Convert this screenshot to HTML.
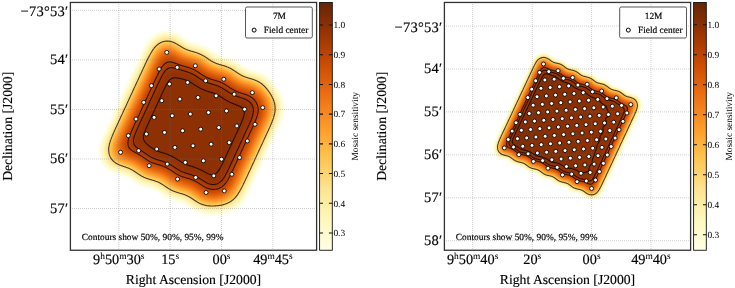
<!DOCTYPE html><html><head><meta charset="utf-8"><style>html,body{margin:0;padding:0;background:#fff;width:735px;height:288px;overflow:hidden}svg{display:block;will-change:transform}.b{stroke:#000;stroke-width:0.15px}.s{stroke:#000;stroke-width:0.16px}</style></head><body>
<svg width="735" height="288" viewBox="0 0 735 288" text-rendering="geometricPrecision" style='font-family:"Liberation Serif",serif'>
<defs><filter id="fm0" filterUnits="userSpaceOnUse" x="70.4" y="2.45" width="246.20000000000002" height="247.8" color-interpolation-filters="sRGB"><feGaussianBlur in="SourceAlpha" stdDeviation="10.274"/><feColorMatrix type="matrix" values="0 0 0 1 0 0 0 0 1 0 0 0 0 1 0 0 0 0 0 1"/><feComponentTransfer><feFuncR type="table" tableValues="1 1 1 1 1 1 1 1 1 1 1 1 1 1 1 1 1 1 1 1 1 1 1 1 1 1 0.999 0.999 0.999 0.998 0.998 0.998 0.998 0.997 0.997 0.997 0.997 0.997 0.996 0.996 0.996 0.996 0.996 0.996 0.996 0.996 0.996 0.996 0.996 0.996 0.996 0.996 0.996 0.996 0.996 0.996 0.996 0.996 0.996 0.996 0.996 0.996 0.996 0.996 0.996 0.996 0.996 0.996 0.996 0.996 0.996 0.996 0.996 0.996 0.996 0.996 0.996 0.996 0.996 0.996 0.996 0.996 0.996 0.996 0.996 0.994 0.991 0.988 0.986 0.983 0.981 0.978 0.975 0.973 0.97 0.968 0.965 0.963 0.96 0.958 0.956 0.953 0.951 0.948 0.946 0.944 0.941 0.939 0.937 0.934 0.932 0.93 0.927 0.925 0.92 0.916 0.912 0.908 0.904 0.9 0.896 0.893 0.889 0.885 0.881 0.877 0.873 0.869 0.865 0.862 0.858 0.854 0.85 0.846 0.843 0.839 0.835 0.832 0.828 0.824 0.821 0.817 0.813 0.81 0.806 0.802 0.798 0.792 0.787 0.781 0.775 0.77 0.764 0.759 0.753 0.748 0.742 0.736 0.731 0.726 0.72 0.715 0.709 0.704 0.698 0.693 0.688 0.682 0.677 0.672 0.666 0.661 0.656 0.651 0.645 0.64 0.635 0.63 0.625 0.619 0.614 0.609 0.604 0.599 0.594 0.589 0.584 0.579 0.574 0.569 0.564 0.559 0.554 0.549 0.544 0.539 0.534 0.529 0.524 0.519 0.514 0.509 0.504 0.5 0.495 0.49 0.485 0.48 0.476 0.471 0.466 0.461 0.457 0.452 0.447 0.442 0.438 0.433 0.428 0.424 0.419 0.414 0.41 0.405 0.4 0.4 0.4 0.4 0.4 0.4 0.4 0.4 0.4 0.4 0.4 0.4 0.4 0.4 0.4 0.4 0.4 0.4 0.4 0.4 0.4 0.4 0.4 0.4 0.4 0.4 0.4 0.4 0.4 0.4 0.4 0.4"/><feFuncG type="table" tableValues="1 1 1 1 1 1 1 1 1 1 1 1 0.998 0.995 0.992 0.989 0.986 0.984 0.981 0.979 0.976 0.974 0.971 0.969 0.964 0.959 0.953 0.948 0.943 0.938 0.933 0.928 0.923 0.918 0.914 0.909 0.905 0.9 0.896 0.891 0.885 0.879 0.872 0.866 0.86 0.853 0.847 0.841 0.835 0.829 0.823 0.817 0.811 0.805 0.8 0.794 0.788 0.783 0.777 0.772 0.765 0.758 0.75 0.743 0.736 0.729 0.721 0.714 0.707 0.7 0.693 0.686 0.679 0.673 0.666 0.659 0.652 0.646 0.639 0.633 0.626 0.62 0.613 0.607 0.6 0.594 0.588 0.582 0.576 0.571 0.565 0.559 0.553 0.547 0.542 0.536 0.53 0.525 0.519 0.513 0.508 0.502 0.497 0.491 0.486 0.48 0.475 0.47 0.464 0.459 0.454 0.448 0.443 0.438 0.434 0.429 0.424 0.42 0.415 0.411 0.407 0.402 0.398 0.393 0.389 0.385 0.38 0.376 0.372 0.367 0.363 0.359 0.355 0.35 0.346 0.342 0.338 0.334 0.329 0.325 0.321 0.317 0.313 0.309 0.305 0.301 0.297 0.294 0.292 0.289 0.286 0.284 0.281 0.279 0.276 0.273 0.271 0.268 0.266 0.263 0.26 0.258 0.255 0.253 0.25 0.248 0.245 0.243 0.24 0.238 0.235 0.233 0.23 0.228 0.225 0.223 0.22 0.218 0.215 0.213 0.211 0.208 0.206 0.204 0.202 0.201 0.199 0.198 0.196 0.195 0.193 0.192 0.19 0.189 0.187 0.186 0.184 0.183 0.182 0.18 0.179 0.177 0.176 0.174 0.173 0.172 0.17 0.169 0.167 0.166 0.165 0.163 0.162 0.16 0.159 0.158 0.156 0.155 0.153 0.152 0.151 0.149 0.148 0.147 0.145 0.145 0.145 0.145 0.145 0.145 0.145 0.145 0.145 0.145 0.145 0.145 0.145 0.145 0.145 0.145 0.145 0.145 0.145 0.145 0.145 0.145 0.145 0.145 0.145 0.145 0.145 0.145 0.145 0.145 0.145 0.145"/><feFuncB type="table" tableValues="1 1 1 1 1 1 1 1 0.979 0.954 0.93 0.907 0.887 0.872 0.856 0.842 0.828 0.814 0.801 0.788 0.775 0.763 0.751 0.74 0.728 0.716 0.704 0.693 0.682 0.671 0.66 0.65 0.64 0.629 0.619 0.609 0.6 0.59 0.581 0.571 0.558 0.544 0.531 0.517 0.503 0.49 0.477 0.464 0.451 0.438 0.425 0.413 0.4 0.388 0.376 0.364 0.352 0.34 0.328 0.316 0.307 0.3 0.294 0.287 0.281 0.274 0.268 0.262 0.256 0.249 0.243 0.237 0.231 0.225 0.219 0.213 0.207 0.201 0.195 0.19 0.184 0.178 0.172 0.167 0.161 0.158 0.155 0.152 0.149 0.146 0.143 0.14 0.137 0.134 0.131 0.128 0.125 0.122 0.119 0.116 0.114 0.111 0.108 0.105 0.102 0.1 0.097 0.094 0.091 0.089 0.086 0.083 0.08 0.078 0.076 0.073 0.071 0.069 0.067 0.064 0.062 0.06 0.058 0.055 0.053 0.051 0.049 0.047 0.045 0.042 0.04 0.038 0.036 0.034 0.032 0.03 0.028 0.026 0.024 0.021 0.019 0.017 0.015 0.013 0.011 0.009 0.008 0.008 0.008 0.009 0.009 0.009 0.009 0.009 0.01 0.01 0.01 0.01 0.011 0.011 0.011 0.011 0.011 0.012 0.012 0.012 0.012 0.012 0.013 0.013 0.013 0.013 0.013 0.014 0.014 0.014 0.014 0.015 0.015 0.015 0.015 0.015 0.016 0.016 0.016 0.016 0.016 0.017 0.017 0.017 0.017 0.017 0.018 0.018 0.018 0.018 0.018 0.018 0.019 0.019 0.019 0.019 0.019 0.02 0.02 0.02 0.02 0.02 0.021 0.021 0.021 0.021 0.021 0.021 0.022 0.022 0.022 0.022 0.022 0.023 0.023 0.023 0.023 0.023 0.024 0.024 0.024 0.024 0.024 0.024 0.024 0.024 0.024 0.024 0.024 0.024 0.024 0.024 0.024 0.024 0.024 0.024 0.024 0.024 0.024 0.024 0.024 0.024 0.024 0.024 0.024 0.024 0.024 0.024 0.024 0.024"/></feComponentTransfer></filter><linearGradient id="cg0" x1="0" y1="1" x2="0" y2="0"><stop offset="0.0000" stop-color="#ffffe5"/><stop offset="0.1250" stop-color="#fff7bc"/><stop offset="0.2500" stop-color="#fee391"/><stop offset="0.3750" stop-color="#fec44f"/><stop offset="0.5000" stop-color="#fe9929"/><stop offset="0.6250" stop-color="#ec7014"/><stop offset="0.7500" stop-color="#cc4c02"/><stop offset="0.8750" stop-color="#993404"/><stop offset="1.0000" stop-color="#662506"/></linearGradient><filter id="fm1" filterUnits="userSpaceOnUse" x="444.4" y="2.45" width="246.20000000000005" height="247.8" color-interpolation-filters="sRGB"><feGaussianBlur in="SourceAlpha" stdDeviation="4.777"/><feColorMatrix type="matrix" values="0 0 0 1 0 0 0 0 1 0 0 0 0 1 0 0 0 0 0 1"/><feComponentTransfer><feFuncR type="table" tableValues="1 1 1 1 1 1 1 1 1 1 1 1 1 1 1 1 1 1 1 1 0.999 0.999 0.999 0.998 0.998 0.998 0.998 0.997 0.997 0.997 0.997 0.996 0.996 0.996 0.996 0.996 0.996 0.996 0.996 0.996 0.996 0.996 0.996 0.996 0.996 0.996 0.996 0.996 0.996 0.996 0.996 0.996 0.996 0.996 0.996 0.996 0.996 0.996 0.996 0.996 0.996 0.996 0.996 0.996 0.996 0.996 0.996 0.996 0.996 0.996 0.996 0.996 0.996 0.996 0.996 0.996 0.995 0.993 0.99 0.988 0.985 0.983 0.98 0.978 0.975 0.973 0.97 0.968 0.966 0.963 0.961 0.959 0.956 0.954 0.952 0.949 0.947 0.945 0.942 0.94 0.938 0.936 0.933 0.931 0.929 0.927 0.924 0.92 0.916 0.912 0.908 0.904 0.9 0.897 0.893 0.889 0.885 0.882 0.878 0.874 0.87 0.867 0.863 0.859 0.856 0.852 0.848 0.845 0.841 0.837 0.834 0.83 0.827 0.823 0.819 0.816 0.812 0.809 0.805 0.802 0.797 0.792 0.786 0.78 0.775 0.769 0.764 0.758 0.753 0.747 0.742 0.736 0.731 0.726 0.72 0.715 0.709 0.704 0.698 0.693 0.688 0.682 0.677 0.672 0.666 0.661 0.656 0.65 0.645 0.64 0.634 0.629 0.624 0.619 0.613 0.608 0.603 0.598 0.592 0.587 0.582 0.577 0.572 0.566 0.561 0.556 0.551 0.546 0.541 0.535 0.53 0.525 0.52 0.515 0.51 0.505 0.5 0.495 0.49 0.485 0.48 0.475 0.47 0.465 0.46 0.455 0.45 0.445 0.44 0.435 0.43 0.425 0.42 0.416 0.411 0.406 0.401 0.4 0.4 0.4 0.4 0.4 0.4 0.4 0.4 0.4 0.4 0.4 0.4 0.4 0.4 0.4 0.4 0.4 0.4 0.4 0.4 0.4 0.4 0.4 0.4 0.4 0.4 0.4 0.4 0.4 0.4 0.4 0.4 0.4 0.4 0.4 0.4 0.4 0.4 0.4"/><feFuncG type="table" tableValues="1 1 1 1 1 1 1 1 1 0.997 0.993 0.989 0.986 0.982 0.979 0.976 0.973 0.97 0.966 0.96 0.954 0.947 0.941 0.936 0.93 0.925 0.919 0.914 0.909 0.904 0.899 0.894 0.889 0.881 0.874 0.867 0.861 0.854 0.847 0.841 0.834 0.828 0.822 0.816 0.809 0.803 0.798 0.792 0.786 0.78 0.775 0.769 0.762 0.754 0.747 0.739 0.732 0.725 0.717 0.71 0.703 0.696 0.689 0.683 0.676 0.669 0.662 0.656 0.649 0.643 0.636 0.63 0.624 0.617 0.611 0.605 0.599 0.593 0.587 0.581 0.575 0.57 0.564 0.558 0.553 0.547 0.542 0.536 0.531 0.525 0.52 0.514 0.509 0.504 0.498 0.493 0.488 0.483 0.478 0.472 0.467 0.462 0.457 0.452 0.447 0.442 0.437 0.433 0.428 0.424 0.42 0.415 0.411 0.407 0.402 0.398 0.394 0.39 0.386 0.381 0.377 0.373 0.369 0.365 0.361 0.356 0.352 0.348 0.344 0.34 0.336 0.332 0.328 0.324 0.32 0.316 0.312 0.308 0.304 0.3 0.297 0.294 0.291 0.289 0.286 0.284 0.281 0.278 0.276 0.273 0.271 0.268 0.266 0.263 0.26 0.258 0.255 0.253 0.25 0.248 0.245 0.243 0.24 0.238 0.235 0.233 0.23 0.228 0.225 0.223 0.22 0.218 0.215 0.213 0.21 0.208 0.205 0.203 0.202 0.2 0.199 0.197 0.196 0.194 0.193 0.191 0.189 0.188 0.186 0.185 0.183 0.182 0.18 0.179 0.177 0.176 0.174 0.173 0.171 0.17 0.168 0.167 0.166 0.164 0.163 0.161 0.16 0.158 0.157 0.155 0.154 0.153 0.151 0.15 0.148 0.147 0.145 0.145 0.145 0.145 0.145 0.145 0.145 0.145 0.145 0.145 0.145 0.145 0.145 0.145 0.145 0.145 0.145 0.145 0.145 0.145 0.145 0.145 0.145 0.145 0.145 0.145 0.145 0.145 0.145 0.145 0.145 0.145 0.145 0.145 0.145 0.145 0.145 0.145 0.145 0.145"/><feFuncB type="table" tableValues="1 1 1 1 1 0.973 0.947 0.924 0.903 0.881 0.861 0.842 0.824 0.807 0.791 0.776 0.761 0.747 0.733 0.719 0.705 0.692 0.679 0.666 0.654 0.642 0.631 0.62 0.609 0.598 0.587 0.577 0.565 0.55 0.535 0.52 0.506 0.491 0.477 0.463 0.45 0.436 0.423 0.41 0.397 0.384 0.371 0.359 0.347 0.335 0.323 0.311 0.304 0.297 0.29 0.284 0.277 0.271 0.265 0.258 0.252 0.246 0.24 0.234 0.228 0.222 0.216 0.21 0.204 0.199 0.193 0.187 0.182 0.176 0.17 0.165 0.16 0.157 0.154 0.151 0.148 0.145 0.142 0.139 0.137 0.134 0.131 0.128 0.125 0.123 0.12 0.117 0.114 0.112 0.109 0.106 0.103 0.101 0.098 0.095 0.093 0.09 0.088 0.085 0.082 0.08 0.077 0.075 0.073 0.071 0.069 0.066 0.064 0.062 0.06 0.058 0.056 0.054 0.052 0.049 0.047 0.045 0.043 0.041 0.039 0.037 0.035 0.033 0.031 0.029 0.027 0.025 0.023 0.021 0.019 0.017 0.015 0.013 0.011 0.009 0.008 0.008 0.008 0.009 0.009 0.009 0.009 0.009 0.01 0.01 0.01 0.01 0.011 0.011 0.011 0.011 0.011 0.012 0.012 0.012 0.012 0.012 0.013 0.013 0.013 0.013 0.014 0.014 0.014 0.014 0.014 0.015 0.015 0.015 0.015 0.015 0.016 0.016 0.016 0.016 0.016 0.017 0.017 0.017 0.017 0.017 0.018 0.018 0.018 0.018 0.018 0.019 0.019 0.019 0.019 0.019 0.02 0.02 0.02 0.02 0.02 0.021 0.021 0.021 0.021 0.021 0.022 0.022 0.022 0.022 0.022 0.023 0.023 0.023 0.023 0.023 0.023 0.024 0.024 0.024 0.024 0.024 0.024 0.024 0.024 0.024 0.024 0.024 0.024 0.024 0.024 0.024 0.024 0.024 0.024 0.024 0.024 0.024 0.024 0.024 0.024 0.024 0.024 0.024 0.024 0.024 0.024 0.024 0.024 0.024 0.024 0.024 0.024 0.024 0.024 0.024"/></feComponentTransfer></filter><linearGradient id="cg1" x1="0" y1="1" x2="0" y2="0"><stop offset="0.0000" stop-color="#ffffe5"/><stop offset="0.1250" stop-color="#fff7bc"/><stop offset="0.2500" stop-color="#fee391"/><stop offset="0.3750" stop-color="#fec44f"/><stop offset="0.5000" stop-color="#fe9929"/><stop offset="0.6250" stop-color="#ec7014"/><stop offset="0.7500" stop-color="#cc4c02"/><stop offset="0.8750" stop-color="#993404"/><stop offset="1.0000" stop-color="#662506"/></linearGradient></defs>
<rect width="735" height="288" fill="#fff"/>
<g filter="url(#fm0)"><circle cx="166.80" cy="52.40" r="8.41"/><circle cx="159.10" cy="69.05" r="8.41"/><circle cx="151.40" cy="85.70" r="8.41"/><circle cx="143.70" cy="102.35" r="8.41"/><circle cx="136.00" cy="119.00" r="8.41"/><circle cx="128.30" cy="135.65" r="8.41"/><circle cx="120.60" cy="152.30" r="8.41"/><circle cx="177.20" cy="67.42" r="8.41"/><circle cx="169.50" cy="84.08" r="8.41"/><circle cx="161.80" cy="100.72" r="8.41"/><circle cx="154.10" cy="117.38" r="8.41"/><circle cx="146.40" cy="134.03" r="8.41"/><circle cx="138.70" cy="150.67" r="8.41"/><circle cx="195.30" cy="65.80" r="8.41"/><circle cx="187.60" cy="82.45" r="8.41"/><circle cx="179.90" cy="99.10" r="8.41"/><circle cx="172.20" cy="115.75" r="8.41"/><circle cx="164.50" cy="132.40" r="8.41"/><circle cx="156.80" cy="149.05" r="8.41"/><circle cx="149.10" cy="165.70" r="8.41"/><circle cx="205.70" cy="80.83" r="8.41"/><circle cx="198.00" cy="97.47" r="8.41"/><circle cx="190.30" cy="114.12" r="8.41"/><circle cx="182.60" cy="130.77" r="8.41"/><circle cx="174.90" cy="147.43" r="8.41"/><circle cx="167.20" cy="164.07" r="8.41"/><circle cx="223.80" cy="79.20" r="8.41"/><circle cx="216.10" cy="95.85" r="8.41"/><circle cx="208.40" cy="112.50" r="8.41"/><circle cx="200.70" cy="129.15" r="8.41"/><circle cx="193.00" cy="145.80" r="8.41"/><circle cx="185.30" cy="162.45" r="8.41"/><circle cx="177.60" cy="179.10" r="8.41"/><circle cx="234.20" cy="94.23" r="8.41"/><circle cx="226.50" cy="110.88" r="8.41"/><circle cx="218.80" cy="127.53" r="8.41"/><circle cx="211.10" cy="144.18" r="8.41"/><circle cx="203.40" cy="160.82" r="8.41"/><circle cx="195.70" cy="177.47" r="8.41"/><circle cx="252.30" cy="92.60" r="8.41"/><circle cx="244.60" cy="109.25" r="8.41"/><circle cx="236.90" cy="125.90" r="8.41"/><circle cx="229.20" cy="142.55" r="8.41"/><circle cx="221.50" cy="159.20" r="8.41"/><circle cx="213.80" cy="175.85" r="8.41"/><circle cx="206.10" cy="192.50" r="8.41"/><circle cx="262.70" cy="107.62" r="8.41"/><circle cx="255.00" cy="124.27" r="8.41"/><circle cx="247.30" cy="140.93" r="8.41"/><circle cx="239.60" cy="157.57" r="8.41"/><circle cx="231.90" cy="174.22" r="8.41"/><circle cx="224.20" cy="190.88" r="8.41"/></g>
<path d="M118.8 4V250.25M170.15 4V250.25M221.5 4V250.25M272.85 4V250.25M72 10.35H316.6M72 59.9H316.6M72 109.5H316.6M72 159.0H316.6M72 208.5H316.6" stroke="#747474" stroke-opacity="0.34" stroke-width="1" stroke-dasharray="1 1" fill="none"/>
<path d="M214.7 206.0 214.2 206.0 213.7 206.0 213.2 206.0 212.7 206.0 212.2 206.0 211.7 206.0 211.2 206.0 210.7 206.0 210.2 206.0 209.9 205.9 209.4 205.9 208.9 205.9 208.4 205.8 207.9 205.8 207.5 205.7 207.2 205.7 206.7 205.6 206.2 205.5 205.9 205.4 205.4 205.3 204.9 205.2 204.7 205.1 204.2 205.0 203.9 204.9 203.4 204.8 203.1 204.7 202.7 204.6 202.4 204.4 201.9 204.3 201.7 204.2 201.2 204.0 200.9 203.9 200.5 203.7 200.2 203.5 199.9 203.4 199.4 203.2 199.2 203.1 198.9 202.9 198.5 202.7 198.2 202.5 197.9 202.4 197.6 202.2 197.2 201.9 196.9 201.8 196.7 201.6 196.3 201.4 196.0 201.2 195.7 201.0 195.4 200.8 195.2 200.7 194.8 200.4 194.4 200.2 194.2 200.0 193.9 199.8 193.7 199.7 193.3 199.4 193.0 199.2 192.7 199.0 192.4 198.8 192.2 198.7 191.8 198.4 191.5 198.2 191.2 198.0 190.9 197.8 190.7 197.7 190.3 197.4 189.9 197.2 189.7 197.1 189.4 196.9 189.0 196.7 188.7 196.5 188.4 196.4 188.0 196.2 187.7 196.0 187.4 195.9 187.0 195.7 186.7 195.5 186.4 195.4 185.9 195.2 185.7 195.1 185.3 194.9 184.9 194.8 184.6 194.7 184.2 194.5 183.9 194.4 183.4 194.3 183.1 194.2 182.7 194.0 182.3 193.9 181.9 193.8 181.5 193.7 181.2 193.6 180.7 193.5 180.4 193.4 179.9 193.2 179.7 193.2 179.2 193.0 178.9 192.9 178.4 192.8 178.0 192.7 177.7 192.6 177.2 192.4 176.9 192.3 176.4 192.2 176.2 192.1 175.7 191.9 175.4 191.8 175.0 191.7 174.7 191.6 174.4 191.4 173.9 191.3 173.7 191.2 173.2 191.0 172.9 190.8 172.6 190.7 172.2 190.5 171.9 190.4 171.5 190.2 171.2 190.0 170.9 189.9 170.6 189.7 170.2 189.5 169.9 189.3 169.7 189.2 169.2 188.9 168.9 188.7 168.7 188.6 168.4 188.4 168.0 188.2 167.7 188.0 167.4 187.8 167.2 187.6 166.9 187.4 166.5 187.2 166.2 187.0 165.9 186.8 165.7 186.6 165.4 186.4 165.0 186.2 164.7 185.9 164.4 185.8 164.2 185.6 163.9 185.4 163.6 185.2 163.2 184.9 162.9 184.8 162.7 184.6 162.4 184.4 162.0 184.2 161.7 184.0 161.4 183.8 161.2 183.7 160.8 183.4 160.4 183.3 160.2 183.1 159.8 182.9 159.4 182.7 159.2 182.6 158.8 182.4 158.4 182.2 158.2 182.1 157.7 181.9 157.4 181.8 157.1 181.7 156.7 181.5 156.4 181.4 155.9 181.2 155.7 181.1 155.2 181.0 154.9 180.9 154.4 180.7 154.2 180.6 153.7 180.5 153.4 180.4 152.9 180.3 152.6 180.2 152.2 180.1 151.8 179.9 151.4 179.8 150.9 179.7 150.7 179.6 150.2 179.5 149.9 179.4 149.4 179.3 149.2 179.2 148.7 179.0 148.4 178.9 147.9 178.8 147.6 178.7 147.2 178.5 146.9 178.4 146.4 178.3 146.2 178.2 145.7 178.0 145.4 177.9 145.0 177.7 144.7 177.6 144.4 177.4 143.9 177.2 143.7 177.1 143.3 176.9 142.9 176.7 142.7 176.6 142.3 176.4 141.9 176.2 141.7 176.1 141.4 175.9 141.0 175.7 140.7 175.5 140.4 175.3 140.2 175.2 139.8 174.9 139.4 174.7 139.2 174.6 138.9 174.4 138.6 174.2 138.2 173.9 137.9 173.7 137.7 173.6 137.4 173.4 137.1 173.2 136.8 172.9 136.4 172.7 136.2 172.5 135.9 172.4 135.7 172.2 135.3 171.9 134.9 171.7 134.7 171.5 134.4 171.4 134.2 171.2 133.8 170.9 133.4 170.7 133.2 170.6 132.9 170.4 132.6 170.2 132.2 170.0 131.9 169.8 131.7 169.7 131.2 169.4 130.9 169.3 130.7 169.2 130.2 168.9 129.9 168.8 129.7 168.7 129.2 168.4 128.9 168.3 128.6 168.2 128.2 168.0 127.9 167.9 127.4 167.7 127.2 167.6 126.7 167.5 126.4 167.4 125.9 167.2 125.7 167.1 125.2 166.9 124.9 166.9 124.4 166.7 124.2 166.6 123.7 166.4 123.4 166.4 122.9 166.2 122.7 166.1 122.2 165.9 121.9 165.9 121.4 165.7 121.2 165.6 120.7 165.4 120.4 165.3 120.1 165.2 119.7 165.0 119.4 164.9 118.9 164.7 118.7 164.6 118.3 164.4 117.9 164.2 117.7 164.1 117.3 163.9 116.9 163.7 116.7 163.6 116.4 163.4 116.0 163.2 115.7 163.0 115.4 162.8 115.2 162.6 114.9 162.4 114.6 162.2 114.3 161.9 114.0 161.7 113.7 161.4 113.4 161.2 113.2 161.0 112.9 160.7 112.7 160.4 112.4 160.2 112.2 159.9 112.0 159.7 111.8 159.4 111.6 159.2 111.4 158.9 111.2 158.5 110.9 158.2 110.8 157.9 110.6 157.7 110.4 157.2 110.3 156.9 110.1 156.7 109.9 156.2 109.8 155.9 109.7 155.5 109.5 155.2 109.4 154.8 109.3 154.4 109.2 153.9 109.1 153.7 109.0 153.2 108.9 152.7 108.9 152.4 108.8 151.9 108.8 151.4 108.7 150.9 108.7 150.4 108.7 149.9 108.7 149.4 108.7 148.9 108.7 148.4 108.8 147.9 108.8 147.4 108.9 146.9 108.9 146.7 109.0 146.2 109.1 145.7 109.2 145.4 109.3 144.9 109.4 144.4 109.4 144.2 109.5 143.7 109.7 143.3 109.8 142.9 109.9 142.4 110.0 142.2 110.1 141.7 110.2 141.4 110.4 140.9 110.4 140.7 110.6 140.2 110.7 139.9 110.9 139.4 111.0 139.2 111.2 138.7 111.3 138.4 111.4 138.1 111.5 137.7 111.7 137.4 111.8 136.9 111.9 136.7 112.1 136.2 112.2 135.9 112.4 135.5 112.5 135.2 112.7 134.9 112.9 134.4 113.0 134.2 113.2 133.8 113.3 133.4 113.4 133.2 113.6 132.7 113.7 132.4 113.9 132.0 114.0 131.7 114.2 131.4 114.4 130.9 114.5 130.7 114.7 130.3 114.8 129.9 114.9 129.7 115.2 129.2 115.3 128.9 115.4 128.7 115.6 128.2 115.7 128.0 115.9 127.6 116.1 127.2 116.2 127.0 116.4 126.5 116.5 126.2 116.7 125.9 116.9 125.5 117.0 125.2 117.2 124.9 117.3 124.5 117.5 124.2 117.7 123.8 117.8 123.5 117.9 123.2 118.2 122.7 118.3 122.5 118.4 122.2 118.6 121.7 118.7 121.5 118.9 121.1 119.1 120.7 119.2 120.5 119.4 120.0 119.5 119.7 119.7 119.5 119.9 119.0 120.0 118.7 120.2 118.4 120.3 118.0 120.5 117.7 120.7 117.3 120.8 117.0 120.9 116.7 121.1 116.2 121.3 116.0 121.4 115.6 121.6 115.2 121.7 115.0 121.9 114.5 122.1 114.2 122.2 114.0 122.4 113.5 122.5 113.2 122.7 112.9 122.9 112.5 123.0 112.2 123.2 111.8 123.3 111.5 123.4 111.2 123.7 110.8 123.8 110.5 123.9 110.2 124.1 109.7 124.3 109.5 124.4 109.2 124.6 108.7 124.7 108.5 124.9 108.1 125.1 107.7 125.2 107.5 125.4 107.0 125.5 106.7 125.7 106.5 125.9 106.0 126.0 105.7 126.2 105.4 126.4 105.0 126.5 104.7 126.7 104.3 126.8 104.0 126.9 103.7 127.2 103.2 127.3 103.0 127.4 102.7 127.6 102.2 127.7 102.0 127.9 101.6 128.1 101.2 128.2 101.0 128.4 100.5 128.5 100.2 128.7 100.0 128.9 99.5 129.0 99.2 129.2 98.9 129.3 98.5 129.5 98.2 129.7 97.8 129.8 97.5 129.9 97.2 130.2 96.7 130.3 96.5 130.4 96.2 130.6 95.7 130.7 95.5 130.9 95.1 131.1 94.7 131.2 94.5 131.4 94.0 131.5 93.7 131.7 93.5 131.9 93.0 132.0 92.7 132.2 92.4 132.4 92.0 132.5 91.7 132.7 91.3 132.8 91.0 132.9 90.7 133.2 90.3 133.3 90.0 133.4 89.7 133.6 89.2 133.8 89.0 133.9 88.6 134.1 88.2 134.2 88.0 134.4 87.6 134.6 87.2 134.7 87.0 134.9 86.5 135.0 86.2 135.2 85.9 135.4 85.5 135.5 85.2 135.7 84.8 135.8 84.5 135.9 84.2 136.2 83.8 136.3 83.5 136.4 83.2 136.6 82.7 136.7 82.5 136.9 82.1 137.1 81.7 137.2 81.5 137.4 81.0 137.6 80.7 137.7 80.5 137.9 80.0 138.0 79.7 138.2 79.4 138.4 79.0 138.5 78.7 138.7 78.3 138.8 78.0 138.9 77.7 139.2 77.2 139.3 77.0 139.4 76.7 139.6 76.2 139.8 76.0 139.9 75.6 140.1 75.2 140.2 75.0 140.4 74.6 140.6 74.2 140.7 74.0 140.9 73.5 141.0 73.2 141.2 73.0 141.4 72.5 141.5 72.2 141.7 71.9 141.9 71.5 142.0 71.2 142.2 70.8 142.3 70.5 142.4 70.2 142.7 69.7 142.8 69.5 142.9 69.2 143.1 68.7 143.2 68.5 143.4 68.1 143.6 67.7 143.7 67.5 143.9 67.0 144.0 66.7 144.2 66.5 144.4 66.0 144.5 65.7 144.7 65.4 144.9 65.0 145.0 64.7 145.2 64.3 145.3 64.0 145.4 63.7 145.7 63.3 145.8 63.0 145.9 62.7 146.2 62.2 146.3 62.0 146.4 61.7 146.6 61.2 146.8 61.0 146.9 60.6 147.1 60.2 147.2 60.0 147.4 59.6 147.6 59.2 147.7 59.0 147.9 58.6 148.1 58.2 148.2 58.0 148.4 57.6 148.6 57.2 148.8 57.0 148.9 56.7 149.1 56.2 149.3 56.0 149.4 55.7 149.7 55.2 149.8 55.0 149.9 54.7 150.2 54.3 150.4 54.0 150.5 53.7 150.7 53.4 150.9 53.0 151.1 52.7 151.2 52.5 151.4 52.2 151.7 51.8 151.8 51.5 152.0 51.2 152.2 51.0 152.4 50.6 152.6 50.2 152.8 50.0 153.0 49.7 153.2 49.5 153.4 49.1 153.7 48.8 153.9 48.5 154.1 48.2 154.3 48.0 154.5 47.7 154.7 47.5 154.9 47.2 155.2 47.0 155.4 46.7 155.7 46.4 155.9 46.2 156.2 45.9 156.4 45.7 156.7 45.4 156.9 45.2 157.2 45.0 157.5 44.7 157.8 44.5 158.1 44.2 158.4 44.0 158.7 43.8 158.9 43.7 159.2 43.5 159.6 43.2 159.9 43.0 160.2 42.9 160.5 42.7 160.9 42.5 161.2 42.4 161.6 42.2 161.9 42.1 162.2 42.0 162.7 41.8 163.0 41.7 163.4 41.6 163.9 41.5 164.2 41.4 164.7 41.3 165.2 41.2 165.4 41.2 165.9 41.1 166.4 41.1 166.9 41.1 167.4 41.1 167.9 41.1 168.4 41.1 168.9 41.2 169.2 41.2 169.7 41.3 170.2 41.4 170.5 41.5 170.9 41.5 171.4 41.7 171.7 41.7 172.2 41.9 172.4 42.0 172.9 42.1 173.2 42.2 173.7 42.4 173.9 42.5 174.3 42.7 174.7 42.9 174.9 43.0 175.3 43.2 175.7 43.4 175.9 43.5 176.2 43.7 176.7 43.9 176.9 44.1 177.2 44.2 177.6 44.5 177.9 44.7 178.2 44.8 178.4 45.0 178.8 45.2 179.2 45.4 179.4 45.6 179.7 45.7 180.0 46.0 180.4 46.2 180.7 46.4 180.9 46.5 181.2 46.7 181.6 47.0 181.9 47.1 182.2 47.3 182.4 47.5 182.9 47.7 183.2 47.9 183.4 48.0 183.8 48.2 184.2 48.4 184.4 48.5 184.7 48.7 185.2 48.9 185.4 49.0 185.8 49.2 186.2 49.4 186.4 49.5 186.9 49.7 187.2 49.8 187.6 50.0 187.9 50.1 188.3 50.2 188.7 50.3 189.0 50.5 189.4 50.6 189.7 50.7 190.2 50.8 190.5 51.0 190.9 51.1 191.4 51.2 191.7 51.3 192.2 51.4 192.4 51.5 192.9 51.6 193.2 51.7 193.7 51.8 194.0 52.0 194.4 52.1 194.9 52.2 195.2 52.3 195.7 52.4 195.9 52.5 196.4 52.7 196.7 52.8 197.2 52.9 197.4 53.0 197.9 53.2 198.2 53.3 198.5 53.5 198.9 53.6 199.2 53.7 199.7 53.9 199.9 54.0 200.3 54.2 200.7 54.4 200.9 54.5 201.4 54.7 201.7 54.8 201.9 55.0 202.3 55.2 202.7 55.4 202.9 55.5 203.2 55.7 203.7 55.9 203.9 56.1 204.2 56.2 204.5 56.5 204.9 56.7 205.2 56.9 205.4 57.0 205.7 57.2 206.0 57.5 206.4 57.7 206.7 57.9 206.9 58.0 207.2 58.2 207.5 58.5 207.9 58.7 208.2 58.9 208.4 59.1 208.7 59.2 209.0 59.5 209.3 59.7 209.7 59.9 209.9 60.1 210.2 60.2 210.5 60.5 210.9 60.7 211.2 60.9 211.4 61.0 211.7 61.2 212.1 61.5 212.4 61.6 212.7 61.7 213.1 62.0 213.4 62.1 213.7 62.2 214.1 62.5 214.4 62.6 214.7 62.7 215.2 62.9 215.4 63.0 215.8 63.2 216.2 63.4 216.4 63.5 216.9 63.6 217.2 63.7 217.7 63.9 217.9 64.0 218.4 64.1 218.7 64.2 219.2 64.4 219.4 64.5 219.9 64.6 220.3 64.7 220.7 64.8 221.1 65.0 221.4 65.0 221.9 65.2 222.2 65.2 222.7 65.4 222.9 65.5 223.4 65.6 223.7 65.7 224.2 65.8 224.5 66.0 224.9 66.1 225.3 66.2 225.7 66.3 226.0 66.5 226.4 66.6 226.7 66.7 227.2 66.9 227.4 67.0 227.9 67.2 228.2 67.3 228.5 67.5 228.9 67.6 229.2 67.8 229.6 68.0 229.9 68.1 230.2 68.2 230.6 68.5 230.9 68.6 231.2 68.8 231.5 69.0 231.9 69.2 232.2 69.3 232.4 69.5 232.7 69.7 233.1 70.0 233.4 70.1 233.7 70.3 233.9 70.5 234.3 70.7 234.7 70.9 234.9 71.1 235.2 71.3 235.4 71.5 235.8 71.7 236.1 72.0 236.4 72.1 236.7 72.3 236.9 72.5 237.2 72.7 237.6 73.0 237.9 73.1 238.2 73.3 238.4 73.5 238.8 73.7 239.1 74.0 239.4 74.1 239.7 74.3 240.0 74.5 240.4 74.7 240.7 74.9 240.9 75.0 241.3 75.2 241.7 75.4 241.9 75.5 242.3 75.7 242.7 75.9 242.9 76.0 243.3 76.2 243.7 76.3 243.9 76.5 244.4 76.7 244.7 76.8 245.2 76.9 245.4 77.0 245.9 77.2 246.2 77.3 246.6 77.5 246.9 77.5 247.4 77.7 247.7 77.8 248.2 77.9 248.4 78.0 248.9 78.2 249.2 78.2 249.7 78.4 249.9 78.5 250.4 78.6 250.8 78.7 251.2 78.8 251.6 79.0 251.9 79.0 252.4 79.2 252.7 79.3 253.2 79.4 253.4 79.5 253.9 79.7 254.2 79.8 254.6 80.0 254.9 80.1 255.2 80.2 255.7 80.4 255.9 80.5 256.4 80.7 256.6 80.8 257.0 81.0 257.4 81.2 257.6 81.3 258.0 81.5 258.4 81.7 258.6 81.8 258.9 82.0 259.3 82.2 259.6 82.4 259.9 82.6 260.1 82.7 260.4 83.0 260.8 83.2 261.1 83.4 261.4 83.6 261.6 83.8 261.9 84.0 262.1 84.2 262.4 84.5 262.7 84.7 263.0 85.0 263.3 85.2 263.6 85.5 263.8 85.7 264.1 86.0 264.3 86.2 264.6 86.5 264.8 86.7 265.1 87.0 265.3 87.2 265.5 87.5 265.8 87.7 266.0 88.0 266.2 88.2 266.4 88.5 266.6 88.7 266.9 89.0 267.1 89.3 267.4 89.7 267.6 90.0 267.8 90.2 268.0 90.5 268.2 90.7 268.4 91.0 268.6 91.3 268.9 91.7 269.1 92.0 269.3 92.2 269.4 92.5 269.6 92.8 269.9 93.1 270.1 93.5 270.3 93.7 270.4 94.0 270.6 94.3 270.9 94.7 271.0 95.0 271.2 95.2 271.4 95.6 271.6 96.0 271.7 96.2 271.9 96.5 272.1 97.0 272.3 97.2 272.4 97.5 272.6 98.0 272.7 98.2 272.9 98.6 273.1 99.0 273.2 99.2 273.4 99.7 273.5 100.0 273.6 100.4 273.8 100.7 273.9 101.1 274.0 101.5 274.1 101.9 274.2 102.2 274.4 102.7 274.4 103.0 274.6 103.5 274.6 103.8 274.7 104.2 274.8 104.7 274.9 105.2 274.9 105.5 275.0 106.0 275.0 106.5 275.1 107.0 275.1 107.5 275.1 108.0 275.1 108.5 275.1 109.0 275.1 109.5 275.1 110.0 275.1 110.5 275.0 111.0 275.0 111.5 274.9 111.9 274.9 112.2 274.8 112.7 274.7 113.2 274.6 113.5 274.5 114.0 274.4 114.5 274.4 114.7 274.2 115.2 274.1 115.5 274.0 116.0 273.9 116.4 273.8 116.7 273.7 117.2 273.6 117.5 273.4 118.0 273.3 118.2 273.2 118.7 273.1 119.0 272.9 119.5 272.8 119.7 272.6 120.1 272.5 120.5 272.4 120.8 272.2 121.2 272.1 121.5 272.0 122.0 271.9 122.2 271.6 122.7 271.5 123.0 271.4 123.3 271.2 123.7 271.1 124.0 270.9 124.5 270.8 124.7 270.6 125.1 270.5 125.5 270.4 125.7 270.2 126.2 270.1 126.5 269.9 126.8 269.7 127.2 269.6 127.5 269.4 128.0 269.3 128.2 269.1 128.5 269.0 128.9 268.8 129.2 268.6 129.6 268.5 129.9 268.4 130.2 268.2 130.7 268.1 130.9 267.9 131.3 267.7 131.7 267.6 131.9 267.4 132.4 267.3 132.7 267.1 132.9 266.9 133.4 266.8 133.7 266.6 134.0 266.4 134.4 266.3 134.7 266.1 135.1 266.0 135.4 265.9 135.7 265.6 136.1 265.5 136.4 265.4 136.7 265.2 137.2 265.0 137.4 264.9 137.8 264.7 138.2 264.6 138.4 264.4 138.8 264.2 139.2 264.1 139.4 263.9 139.9 263.8 140.2 263.6 140.5 263.4 140.9 263.3 141.2 263.1 141.6 263.0 141.9 262.9 142.2 262.6 142.7 262.5 142.9 262.4 143.2 262.2 143.7 262.1 143.9 261.9 144.3 261.7 144.7 261.6 144.9 261.4 145.4 261.3 145.7 261.1 145.9 260.9 146.4 260.8 146.7 260.6 147.0 260.4 147.4 260.3 147.7 260.1 148.1 260.0 148.4 259.9 148.7 259.6 149.2 259.5 149.4 259.4 149.7 259.2 150.2 259.0 150.4 258.9 150.8 258.7 151.2 258.6 151.4 258.4 151.8 258.2 152.2 258.1 152.4 257.9 152.9 257.8 153.2 257.6 153.5 257.4 153.9 257.3 154.2 257.1 154.5 257.0 154.9 256.8 155.2 256.6 155.6 256.5 155.9 256.4 156.2 256.1 156.7 256.0 156.9 255.9 157.2 255.7 157.7 255.6 157.9 255.4 158.3 255.2 158.7 255.1 158.9 254.9 159.4 254.8 159.7 254.7 160.0 254.4 160.4 254.3 160.7 254.2 161.0 254.0 161.4 253.9 161.7 253.7 162.1 253.5 162.4 253.4 162.7 253.2 163.2 253.0 163.4 252.9 163.8 252.7 164.2 252.6 164.4 252.4 164.8 252.2 165.2 252.1 165.4 251.9 165.9 251.8 166.2 251.7 166.5 251.4 166.9 251.3 167.2 251.2 167.5 251.0 167.9 250.8 168.2 250.7 168.6 250.5 168.9 250.4 169.2 250.2 169.7 250.0 169.9 249.9 170.2 249.7 170.7 249.6 170.9 249.4 171.3 249.2 171.7 249.1 171.9 248.9 172.4 248.7 172.7 248.6 172.9 248.4 173.4 248.3 173.7 248.2 174.0 247.9 174.4 247.8 174.7 247.7 175.1 247.5 175.4 247.4 175.7 247.2 176.2 247.0 176.4 246.9 176.7 246.7 177.2 246.6 177.4 246.4 177.8 246.2 178.2 246.1 178.4 245.9 178.9 245.7 179.2 245.6 179.4 245.4 179.9 245.3 180.2 245.2 180.5 244.9 180.9 244.8 181.2 244.7 181.5 244.4 181.9 244.3 182.2 244.2 182.6 244.0 182.9 243.8 183.2 243.7 183.6 243.5 183.9 243.4 184.2 243.2 184.6 243.0 184.9 242.9 185.2 242.7 185.6 242.5 185.9 242.4 186.2 242.2 186.6 242.0 186.9 241.9 187.2 241.7 187.6 241.5 187.9 241.3 188.2 241.2 188.6 240.9 188.9 240.8 189.2 240.7 189.5 240.4 189.9 240.3 190.2 240.1 190.4 239.9 190.8 239.7 191.2 239.6 191.4 239.4 191.7 239.2 192.1 239.0 192.4 238.8 192.7 238.6 192.9 238.4 193.3 238.2 193.7 238.0 193.9 237.8 194.2 237.7 194.5 237.4 194.8 237.2 195.2 236.9 195.4 236.7 195.7 236.6 195.9 236.4 196.2 236.2 196.5 235.9 196.8 235.7 197.1 235.4 197.3 235.2 197.6 234.9 197.9 234.7 198.2 234.4 198.4 234.2 198.7 233.9 198.9 233.7 199.1 233.4 199.4 233.2 199.6 232.9 199.8 232.7 200.0 232.4 200.2 232.1 200.4 231.8 200.7 231.4 200.9 231.2 201.1 230.9 201.3 230.7 201.5 230.3 201.7 229.9 201.9 229.7 202.1 229.4 202.2 229.0 202.4 228.7 202.6 228.4 202.8 228.0 202.9 227.7 203.1 227.4 203.2 226.9 203.4 226.7 203.6 226.3 203.7 225.9 203.8 225.6 203.9 225.2 204.1 224.9 204.2 224.4 204.3 224.0 204.4 223.7 204.6 223.2 204.7 222.9 204.8 222.4 204.9 222.1 204.9 221.7 205.1 221.2 205.2 220.9 205.2 220.4 205.3 219.9 205.4 219.5 205.4 219.2 205.5 218.7 205.6 218.2 205.6 217.7 205.7 217.4 205.7 216.9 205.8 216.4 205.8 215.9 205.9 215.4 205.9 214.9 205.9 214.7 206.0M215.9 189.2 215.4 189.3 214.9 189.3 214.4 189.4 213.9 189.4 213.4 189.4 212.9 189.4 212.4 189.4 211.9 189.4 211.4 189.3 210.9 189.2 210.7 189.2 210.2 189.1 209.7 189.0 209.4 188.9 208.9 188.8 208.6 188.7 208.2 188.5 207.9 188.4 207.4 188.3 207.2 188.2 206.7 188.0 206.4 187.8 206.1 187.7 205.7 187.5 205.4 187.4 205.1 187.2 204.7 186.9 204.4 186.8 204.2 186.7 203.8 186.4 203.4 186.2 203.2 186.0 202.9 185.9 202.6 185.7 202.2 185.4 201.9 185.2 201.7 185.1 201.4 184.9 201.1 184.7 200.7 184.4 200.4 184.3 200.2 184.1 199.9 183.9 199.6 183.7 199.2 183.4 198.9 183.3 198.7 183.1 198.4 182.9 198.0 182.7 197.7 182.5 197.4 182.4 197.1 182.2 196.7 181.9 196.4 181.8 196.2 181.7 195.7 181.4 195.4 181.3 195.2 181.1 194.7 180.9 194.4 180.8 194.2 180.7 193.7 180.4 193.4 180.3 193.1 180.2 192.7 180.0 192.4 179.9 191.9 179.7 191.7 179.6 191.2 179.4 190.9 179.3 190.5 179.2 190.2 179.1 189.8 178.9 189.4 178.8 189.0 178.7 188.7 178.6 188.2 178.4 187.9 178.4 187.4 178.2 187.2 178.1 186.7 178.0 186.4 177.9 185.9 177.8 185.6 177.7 185.2 177.6 184.8 177.4 184.4 177.3 184.0 177.2 183.7 177.1 183.2 176.9 182.9 176.9 182.4 176.7 182.2 176.6 181.7 176.4 181.4 176.3 181.1 176.2 180.7 176.0 180.4 175.9 179.9 175.7 179.7 175.6 179.3 175.4 178.9 175.2 178.7 175.1 178.3 174.9 177.9 174.7 177.7 174.6 177.4 174.4 177.0 174.2 176.7 174.0 176.4 173.9 176.1 173.7 175.7 173.4 175.4 173.2 175.2 173.1 174.9 172.9 174.6 172.7 174.2 172.4 173.9 172.2 173.7 172.1 173.4 171.9 173.1 171.7 172.7 171.4 172.4 171.2 172.2 171.1 171.9 170.9 171.6 170.7 171.2 170.4 170.9 170.2 170.7 170.1 170.4 169.9 170.1 169.7 169.7 169.4 169.4 169.3 169.2 169.1 168.8 168.9 168.4 168.7 168.2 168.6 167.9 168.4 167.5 168.2 167.2 168.0 166.9 167.9 166.5 167.7 166.2 167.5 165.9 167.4 165.5 167.2 165.2 167.0 164.9 166.9 164.4 166.7 164.2 166.6 163.7 166.4 163.4 166.3 163.1 166.2 162.7 166.0 162.4 165.9 161.9 165.8 161.7 165.7 161.2 165.5 160.9 165.4 160.4 165.3 160.2 165.2 159.7 165.0 159.3 164.9 158.9 164.8 158.5 164.7 158.2 164.6 157.7 164.5 157.4 164.4 156.9 164.2 156.7 164.2 156.2 164.0 155.9 163.9 155.4 163.8 155.1 163.7 154.7 163.5 154.4 163.4 153.9 163.3 153.6 163.2 153.2 163.0 152.9 162.9 152.4 162.7 152.2 162.6 151.7 162.4 151.4 162.3 151.2 162.2 150.7 162.0 150.4 161.8 150.1 161.7 149.7 161.5 149.4 161.3 149.2 161.2 148.7 160.9 148.4 160.8 148.2 160.6 147.9 160.4 147.5 160.2 147.2 160.0 146.9 159.8 146.7 159.7 146.3 159.4 146.0 159.2 145.7 159.0 145.4 158.8 145.2 158.7 144.9 158.4 144.5 158.2 144.2 158.0 143.9 157.8 143.7 157.6 143.4 157.4 143.0 157.2 142.7 156.9 142.4 156.8 142.2 156.6 141.9 156.4 141.6 156.2 141.2 155.9 140.9 155.8 140.7 155.6 140.4 155.4 140.0 155.2 139.7 155.0 139.4 154.8 139.2 154.7 138.8 154.4 138.4 154.2 138.2 154.1 137.9 153.9 137.5 153.7 137.2 153.5 136.9 153.4 136.6 153.2 136.2 153.0 135.9 152.8 135.7 152.7 135.2 152.4 134.9 152.3 134.7 152.1 134.3 151.9 133.9 151.7 133.7 151.6 133.4 151.4 133.0 151.2 132.7 151.0 132.4 150.8 132.2 150.6 131.9 150.4 131.5 150.2 131.2 149.9 130.9 149.7 130.7 149.5 130.4 149.3 130.2 149.0 129.9 148.8 129.7 148.5 129.4 148.2 129.2 147.9 129.1 147.7 128.9 147.4 128.7 147.0 128.5 146.7 128.4 146.4 128.3 145.9 128.2 145.6 128.1 145.2 128.0 144.7 127.9 144.2 127.9 143.8 127.9 143.4 127.9 143.0 127.9 142.7 128.0 142.2 128.0 141.7 128.1 141.2 128.2 140.8 128.2 140.4 128.3 139.9 128.4 139.6 128.5 139.2 128.6 138.7 128.7 138.4 128.9 137.9 128.9 137.7 129.1 137.2 129.2 136.9 129.4 136.4 129.5 136.2 129.6 135.7 129.7 135.4 129.9 135.0 130.0 134.7 130.2 134.4 130.3 133.9 130.4 133.7 130.6 133.2 130.8 132.9 130.9 132.6 131.1 132.2 131.2 131.9 131.4 131.5 131.5 131.2 131.7 130.9 131.9 130.4 132.0 130.2 132.2 129.8 132.3 129.4 132.4 129.2 132.6 128.7 132.8 128.4 132.9 128.1 133.1 127.7 133.2 127.5 133.4 127.0 133.5 126.7 133.7 126.5 133.9 126.0 134.0 125.7 134.2 125.4 134.3 125.0 134.4 124.7 134.7 124.3 134.8 124.0 134.9 123.7 135.1 123.2 135.2 123.0 135.4 122.6 135.6 122.2 135.7 122.0 135.9 121.5 136.0 121.2 136.2 120.9 136.4 120.5 136.5 120.2 136.7 119.9 136.8 119.5 137.0 119.2 137.2 118.8 137.3 118.5 137.4 118.2 137.6 117.7 137.8 117.5 137.9 117.2 138.1 116.7 138.2 116.5 138.4 116.1 138.6 115.7 138.7 115.5 138.9 115.0 139.1 114.7 139.2 114.5 139.4 114.0 139.5 113.7 139.7 113.4 139.9 113.0 140.0 112.7 140.2 112.4 140.3 112.0 140.5 111.7 140.7 111.3 140.8 111.0 140.9 110.7 141.2 110.2 141.3 110.0 141.4 109.7 141.6 109.2 141.7 109.0 141.9 108.6 142.1 108.2 142.2 108.0 142.4 107.5 142.5 107.2 142.7 106.9 142.9 106.5 143.0 106.2 143.2 105.8 143.3 105.5 143.4 105.2 143.7 104.7 143.8 104.5 143.9 104.2 144.1 103.7 144.2 103.5 144.4 103.1 144.6 102.7 144.7 102.5 144.9 102.0 145.0 101.7 145.2 101.5 145.4 101.0 145.5 100.7 145.7 100.4 145.9 100.0 146.0 99.7 146.2 99.3 146.3 99.0 146.5 98.7 146.7 98.3 146.8 98.0 146.9 97.7 147.2 97.2 147.3 97.0 147.4 96.7 147.6 96.2 147.7 96.0 147.9 95.6 148.1 95.2 148.2 95.0 148.4 94.5 148.6 94.2 148.7 94.0 148.9 93.5 149.0 93.2 149.2 92.9 149.4 92.5 149.5 92.2 149.7 91.8 149.8 91.5 149.9 91.2 150.2 90.7 150.3 90.5 150.4 90.2 150.6 89.7 150.7 89.5 150.9 89.1 151.1 88.7 151.2 88.5 151.4 88.0 151.5 87.7 151.7 87.4 151.9 87.0 152.0 86.7 152.2 86.3 152.3 86.0 152.4 85.7 152.7 85.3 152.8 85.0 152.9 84.7 153.1 84.2 153.3 84.0 153.4 83.7 153.6 83.2 153.7 83.0 153.9 82.6 154.1 82.2 154.2 82.0 154.4 81.5 154.6 81.2 154.7 81.0 154.9 80.5 155.0 80.2 155.2 80.0 155.4 79.5 155.5 79.2 155.7 78.9 155.9 78.5 156.0 78.2 156.2 77.8 156.3 77.5 156.5 77.2 156.7 76.8 156.8 76.5 156.9 76.2 157.2 75.7 157.3 75.5 157.4 75.2 157.6 74.7 157.8 74.5 157.9 74.2 158.1 73.7 158.3 73.5 158.4 73.2 158.6 72.7 158.8 72.5 158.9 72.2 159.1 71.7 159.3 71.5 159.4 71.2 159.7 70.7 159.8 70.5 159.9 70.2 160.2 69.8 160.4 69.5 160.5 69.2 160.7 69.0 160.9 68.5 161.1 68.2 161.3 68.0 161.4 67.7 161.7 67.4 161.9 67.0 162.1 66.7 162.3 66.5 162.5 66.2 162.7 66.0 162.9 65.7 163.2 65.4 163.4 65.1 163.7 64.8 163.9 64.6 164.2 64.3 164.4 64.1 164.7 63.9 164.9 63.7 165.2 63.5 165.5 63.2 165.9 63.0 166.2 62.8 166.4 62.7 166.9 62.5 167.2 62.4 167.6 62.2 167.9 62.1 168.4 62.0 168.9 62.0 169.2 61.9 169.7 61.9 170.2 61.9 170.6 62.0 170.9 62.0 171.4 62.1 171.9 62.2 172.2 62.2 172.7 62.4 173.0 62.5 173.4 62.6 173.8 62.7 174.2 62.8 174.5 63.0 174.9 63.1 175.2 63.2 175.7 63.4 175.9 63.5 176.4 63.6 176.7 63.7 177.2 63.9 177.4 64.0 177.8 64.2 178.2 64.3 178.5 64.5 178.9 64.6 179.2 64.7 179.7 64.9 179.9 65.0 180.4 65.1 180.7 65.2 181.2 65.4 181.4 65.5 181.9 65.6 182.2 65.7 182.7 65.9 182.9 66.0 183.4 66.1 183.7 66.2 184.2 66.3 184.6 66.5 184.9 66.5 185.4 66.7 185.7 66.8 186.2 66.9 186.4 67.0 186.9 67.1 187.2 67.2 187.7 67.3 188.1 67.5 188.4 67.5 188.9 67.7 189.2 67.8 189.7 67.9 189.9 68.0 190.4 68.2 190.7 68.3 191.2 68.4 191.4 68.5 191.8 68.7 192.2 68.8 192.4 69.0 192.9 69.2 193.2 69.3 193.6 69.5 193.9 69.6 194.2 69.7 194.6 70.0 194.9 70.1 195.2 70.3 195.5 70.5 195.9 70.7 196.2 70.8 196.4 71.0 196.8 71.2 197.2 71.4 197.4 71.6 197.7 71.8 197.9 72.0 198.3 72.2 198.7 72.4 198.9 72.6 199.2 72.8 199.4 73.0 199.8 73.2 200.2 73.4 200.4 73.6 200.7 73.8 200.9 74.0 201.3 74.2 201.7 74.4 201.9 74.6 202.2 74.8 202.4 75.0 202.8 75.2 203.2 75.4 203.4 75.6 203.7 75.7 204.1 76.0 204.4 76.2 204.7 76.3 204.9 76.5 205.4 76.7 205.7 76.8 205.9 77.0 206.4 77.2 206.7 77.3 206.9 77.5 207.4 77.7 207.7 77.8 208.0 78.0 208.4 78.1 208.7 78.2 209.2 78.4 209.4 78.5 209.8 78.7 210.2 78.8 210.5 79.0 210.9 79.1 211.2 79.2 211.7 79.4 211.9 79.5 212.4 79.6 212.7 79.7 213.2 79.8 213.6 80.0 213.9 80.1 214.4 80.2 214.7 80.3 215.2 80.4 215.4 80.5 215.9 80.6 216.2 80.7 216.7 80.9 217.0 81.0 217.4 81.1 217.8 81.2 218.2 81.3 218.5 81.5 218.9 81.6 219.3 81.7 219.7 81.8 219.9 82.0 220.4 82.1 220.7 82.2 221.2 82.4 221.4 82.6 221.7 82.7 222.2 82.9 222.4 83.0 222.8 83.2 223.2 83.4 223.4 83.5 223.7 83.7 224.2 83.9 224.4 84.1 224.7 84.2 225.0 84.5 225.4 84.7 225.7 84.8 225.9 85.0 226.2 85.2 226.6 85.5 226.9 85.7 227.2 85.8 227.4 86.0 227.7 86.2 228.1 86.5 228.4 86.7 228.7 86.8 228.9 87.0 229.2 87.2 229.6 87.5 229.9 87.7 230.2 87.8 230.4 88.0 230.7 88.2 231.1 88.5 231.4 88.6 231.7 88.8 231.9 89.0 232.3 89.2 232.7 89.4 232.9 89.6 233.2 89.7 233.6 90.0 233.9 90.1 234.2 90.2 234.6 90.5 234.9 90.6 235.2 90.7 235.6 91.0 235.9 91.1 236.2 91.2 236.7 91.4 236.9 91.5 237.3 91.7 237.7 91.9 237.9 92.0 238.4 92.1 238.7 92.2 239.2 92.4 239.4 92.5 239.9 92.7 240.2 92.8 240.7 92.9 240.9 93.0 241.4 93.2 241.7 93.3 242.2 93.4 242.4 93.5 242.9 93.6 243.2 93.7 243.7 93.9 243.9 94.0 244.4 94.1 244.7 94.2 245.2 94.3 245.5 94.5 245.9 94.6 246.2 94.7 246.7 94.8 246.9 95.0 247.4 95.1 247.7 95.2 248.2 95.4 248.4 95.6 248.7 95.7 249.2 95.9 249.4 96.0 249.7 96.2 250.2 96.4 250.4 96.6 250.7 96.7 251.0 97.0 251.3 97.2 251.7 97.4 251.9 97.6 252.2 97.8 252.4 98.0 252.7 98.2 252.9 98.5 253.2 98.7 253.5 99.0 253.7 99.2 254.0 99.5 254.2 99.7 254.4 100.0 254.7 100.2 254.9 100.6 255.2 100.9 255.4 101.2 255.6 101.5 255.7 101.7 255.9 102.0 256.1 102.4 256.3 102.7 256.5 103.0 256.6 103.3 256.8 103.7 256.9 104.0 257.1 104.4 257.3 104.7 257.4 105.1 257.5 105.5 257.6 105.9 257.7 106.2 257.8 106.7 257.9 107.0 258.0 107.5 258.1 108.0 258.1 108.5 258.1 109.0 258.2 109.2 258.2 109.7 258.2 110.2 258.1 110.5 258.1 111.0 258.1 111.5 258.0 112.0 257.9 112.5 257.9 112.7 257.8 113.2 257.7 113.7 257.6 114.0 257.5 114.5 257.4 114.9 257.3 115.2 257.2 115.7 257.1 116.0 257.0 116.5 256.9 116.7 256.7 117.2 256.6 117.5 256.5 118.0 256.4 118.2 256.2 118.7 256.1 119.0 255.9 119.5 255.8 119.7 255.7 120.1 255.5 120.5 255.4 120.7 255.2 121.2 255.1 121.5 254.9 122.0 254.8 122.2 254.7 122.5 254.5 123.0 254.4 123.2 254.2 123.7 254.0 124.0 253.9 124.3 253.7 124.7 253.6 125.0 253.4 125.4 253.3 125.7 253.1 126.0 252.9 126.5 252.8 126.7 252.7 127.0 252.5 127.5 252.3 127.7 252.2 128.1 252.0 128.4 251.9 128.7 251.7 129.2 251.5 129.4 251.4 129.7 251.2 130.2 251.1 130.4 250.9 130.8 250.7 131.2 250.6 131.4 250.4 131.9 250.2 132.2 250.1 132.4 249.9 132.9 249.8 133.2 249.7 133.5 249.4 133.9 249.3 134.2 249.2 134.6 249.0 134.9 248.9 135.2 248.7 135.7 248.5 135.9 248.4 136.2 248.2 136.7 248.1 136.9 247.9 137.3 247.7 137.7 247.6 137.9 247.4 138.4 247.3 138.7 247.2 139.0 246.9 139.4 246.8 139.7 246.7 140.1 246.5 140.4 246.4 140.7 246.2 141.2 246.0 141.4 245.9 141.7 245.7 142.2 245.5 142.4 245.4 142.8 245.2 143.2 245.1 143.4 244.9 143.8 244.7 144.2 244.6 144.4 244.4 144.9 244.3 145.2 244.1 145.4 243.9 145.9 243.8 146.2 243.7 146.5 243.4 146.9 243.3 147.2 243.2 147.6 243.0 147.9 242.9 148.2 242.7 148.6 242.5 148.9 242.4 149.2 242.2 149.7 242.0 149.9 241.9 150.3 241.7 150.7 241.6 150.9 241.4 151.4 241.2 151.7 241.1 151.9 240.9 152.4 240.8 152.7 240.7 153.0 240.4 153.4 240.3 153.7 240.2 154.1 240.0 154.4 239.9 154.7 239.7 155.2 239.5 155.4 239.4 155.7 239.2 156.2 239.1 156.4 238.9 156.8 238.7 157.2 238.6 157.4 238.4 157.9 238.3 158.2 238.1 158.4 237.9 158.9 237.8 159.2 237.7 159.5 237.4 159.9 237.3 160.2 237.2 160.6 237.0 160.9 236.9 161.2 236.7 161.6 236.5 161.9 236.4 162.2 236.2 162.7 236.0 162.9 235.9 163.2 235.7 163.7 235.6 163.9 235.4 164.3 235.2 164.7 235.1 164.9 234.9 165.4 234.8 165.7 234.6 165.9 234.4 166.4 234.3 166.7 234.2 167.0 233.9 167.4 233.8 167.7 233.7 168.1 233.5 168.4 233.4 168.7 233.2 169.2 233.0 169.4 232.9 169.7 232.7 170.2 232.6 170.4 232.4 170.8 232.2 171.2 232.1 171.4 231.9 171.9 231.7 172.2 231.6 172.4 231.4 172.9 231.3 173.2 231.2 173.5 230.9 173.9 230.8 174.2 230.7 174.5 230.4 174.9 230.3 175.2 230.2 175.5 229.9 175.9 229.8 176.2 229.7 176.5 229.4 176.9 229.3 177.2 229.1 177.4 228.9 177.9 228.7 178.2 228.6 178.4 228.4 178.8 228.2 179.2 228.0 179.4 227.9 179.7 227.7 180.1 227.4 180.4 227.3 180.7 227.1 180.9 226.9 181.3 226.7 181.6 226.4 181.9 226.3 182.2 226.1 182.4 225.9 182.7 225.7 183.0 225.4 183.4 225.2 183.7 224.9 183.9 224.7 184.2 224.5 184.4 224.3 184.7 224.0 184.9 223.8 185.2 223.5 185.4 223.2 185.7 223.0 185.9 222.7 186.2 222.4 186.4 222.2 186.6 221.9 186.8 221.7 187.0 221.3 187.2 220.9 187.4 220.7 187.6 220.4 187.7 219.9 187.9 219.7 188.1 219.4 188.2 218.9 188.4 218.7 188.5 218.2 188.7 217.9 188.8 217.4 188.9 217.2 189.0 216.7 189.1 216.2 189.2 215.9 189.2M214.7 184.5 214.2 184.5 213.7 184.5 213.2 184.5 212.7 184.5 212.2 184.5 211.7 184.4 211.4 184.4 210.9 184.3 210.4 184.2 210.2 184.1 209.7 184.0 209.4 183.9 208.9 183.7 208.7 183.7 208.2 183.5 207.9 183.3 207.6 183.2 207.2 183.0 206.9 182.9 206.6 182.7 206.2 182.5 205.9 182.3 205.6 182.2 205.2 181.9 204.9 181.8 204.7 181.6 204.4 181.4 204.0 181.2 203.7 181.0 203.4 180.8 203.2 180.7 202.8 180.4 202.4 180.2 202.2 180.1 201.9 179.9 201.6 179.7 201.2 179.4 200.9 179.3 200.7 179.1 200.3 178.9 199.9 178.7 199.7 178.5 199.4 178.4 199.1 178.2 198.7 178.0 198.4 177.8 198.1 177.7 197.7 177.4 197.4 177.3 197.2 177.2 196.7 176.9 196.4 176.8 196.1 176.7 195.7 176.5 195.4 176.4 195.0 176.2 194.7 176.0 194.4 175.9 193.9 175.7 193.7 175.6 193.2 175.4 192.9 175.3 192.5 175.2 192.2 175.1 191.8 174.9 191.4 174.8 191.0 174.7 190.7 174.6 190.3 174.4 189.9 174.3 189.5 174.2 189.2 174.1 188.7 173.9 188.4 173.9 187.9 173.7 187.7 173.6 187.2 173.5 186.9 173.4 186.4 173.3 186.2 173.2 185.7 173.0 185.4 172.9 184.9 172.8 184.7 172.7 184.2 172.5 183.9 172.4 183.4 172.2 183.2 172.1 182.7 171.9 182.4 171.8 182.1 171.7 181.7 171.5 181.4 171.4 181.0 171.2 180.7 171.0 180.4 170.9 180.0 170.7 179.7 170.5 179.4 170.3 179.1 170.2 178.7 169.9 178.4 169.8 178.2 169.6 177.9 169.4 177.5 169.2 177.2 169.0 176.9 168.8 176.7 168.7 176.3 168.4 175.9 168.2 175.7 168.0 175.4 167.9 175.2 167.7 174.8 167.4 174.4 167.2 174.2 167.0 173.9 166.9 173.6 166.7 173.2 166.4 172.9 166.2 172.7 166.1 172.4 165.9 172.1 165.7 171.7 165.5 171.4 165.3 171.2 165.2 170.8 164.9 170.4 164.7 170.2 164.6 169.9 164.4 169.4 164.2 169.2 164.1 168.9 163.9 168.5 163.7 168.2 163.5 167.9 163.4 167.4 163.2 167.2 163.1 166.9 162.9 166.4 162.7 166.2 162.6 165.7 162.4 165.4 162.3 165.1 162.2 164.7 162.0 164.4 161.9 163.9 161.8 163.7 161.7 163.2 161.5 162.9 161.4 162.4 161.3 162.2 161.2 161.7 161.0 161.4 160.9 160.9 160.8 160.7 160.7 160.2 160.5 159.8 160.4 159.4 160.3 159.0 160.2 158.7 160.1 158.2 159.9 157.9 159.9 157.4 159.7 157.2 159.6 156.7 159.4 156.4 159.4 155.9 159.2 155.7 159.1 155.2 158.9 154.9 158.8 154.6 158.7 154.2 158.5 153.9 158.4 153.4 158.2 153.2 158.1 152.9 157.9 152.4 157.7 152.2 157.6 151.8 157.4 151.4 157.2 151.2 157.1 150.9 156.9 150.5 156.7 150.2 156.5 149.9 156.4 149.6 156.2 149.2 155.9 148.9 155.7 148.7 155.6 148.4 155.4 148.1 155.2 147.7 154.9 147.4 154.8 147.2 154.6 146.9 154.4 146.6 154.2 146.2 153.9 145.9 153.7 145.7 153.6 145.4 153.4 145.1 153.2 144.7 152.9 144.4 152.7 144.2 152.5 143.9 152.4 143.6 152.2 143.3 151.9 142.9 151.7 142.7 151.5 142.4 151.4 142.1 151.2 141.7 150.9 141.4 150.7 141.2 150.6 140.9 150.4 140.6 150.2 140.2 149.9 139.9 149.8 139.7 149.6 139.4 149.4 139.1 149.2 138.7 148.9 138.4 148.8 138.2 148.6 137.9 148.4 137.6 148.2 137.3 147.9 137.0 147.7 136.7 147.4 136.4 147.2 136.2 147.0 135.9 146.8 135.7 146.5 135.4 146.2 135.2 146.0 134.9 145.7 134.8 145.4 134.6 145.2 134.4 144.9 134.2 144.4 134.0 144.2 133.9 143.9 133.7 143.4 133.7 143.1 133.6 142.7 133.5 142.2 133.4 141.7 133.4 141.2 133.4 140.7 133.4 140.2 133.5 139.7 133.6 139.2 133.7 138.7 133.7 138.4 133.8 137.9 133.9 137.6 134.0 137.2 134.2 136.7 134.2 136.4 134.4 135.9 134.5 135.7 134.7 135.2 134.7 134.9 134.9 134.5 135.0 134.2 135.2 133.9 135.3 133.4 135.4 133.2 135.6 132.7 135.7 132.4 135.9 132.0 136.0 131.7 136.2 131.4 136.4 130.9 136.5 130.7 136.7 130.3 136.8 129.9 136.9 129.7 137.1 129.2 137.2 128.9 137.4 128.6 137.6 128.2 137.7 128.0 137.9 127.5 138.0 127.2 138.2 126.9 138.3 126.5 138.5 126.2 138.7 125.8 138.8 125.5 138.9 125.2 139.1 124.7 139.2 124.5 139.4 124.1 139.6 123.7 139.7 123.5 139.9 123.0 140.0 122.7 140.2 122.4 140.4 122.0 140.5 121.7 140.7 121.4 140.8 121.0 141.0 120.7 141.2 120.3 141.3 120.0 141.4 119.7 141.6 119.2 141.8 119.0 141.9 118.7 142.1 118.2 142.2 118.0 142.4 117.6 142.6 117.2 142.7 117.0 142.9 116.5 143.1 116.2 143.2 116.0 143.4 115.5 143.5 115.2 143.7 114.9 143.9 114.5 144.0 114.2 144.2 113.8 144.3 113.5 144.5 113.2 144.7 112.8 144.8 112.5 144.9 112.2 145.1 111.7 145.3 111.5 145.4 111.1 145.6 110.7 145.7 110.5 145.9 110.1 146.1 109.7 146.2 109.5 146.4 109.0 146.5 108.7 146.7 108.4 146.9 108.0 147.0 107.7 147.2 107.3 147.3 107.0 147.4 106.7 147.7 106.2 147.8 106.0 147.9 105.7 148.1 105.2 148.2 105.0 148.4 104.6 148.6 104.2 148.7 104.0 148.9 103.5 149.0 103.2 149.2 103.0 149.4 102.5 149.5 102.2 149.7 101.9 149.9 101.5 150.0 101.2 150.2 100.8 150.3 100.5 150.4 100.2 150.7 99.8 150.8 99.5 150.9 99.2 151.1 98.7 151.3 98.5 151.4 98.2 151.6 97.7 151.7 97.5 151.9 97.1 152.1 96.7 152.2 96.5 152.4 96.0 152.5 95.7 152.7 95.5 152.9 95.0 153.0 94.7 153.2 94.4 153.3 94.0 153.5 93.7 153.7 93.3 153.8 93.0 153.9 92.7 154.1 92.2 154.3 92.0 154.4 91.6 154.6 91.2 154.7 91.0 154.9 90.6 155.1 90.2 155.2 90.0 155.4 89.5 155.5 89.2 155.7 88.9 155.9 88.5 156.0 88.2 156.2 87.8 156.3 87.5 156.4 87.2 156.7 86.8 156.8 86.5 156.9 86.2 157.1 85.7 157.3 85.5 157.4 85.2 157.6 84.7 157.7 84.5 157.9 84.1 158.1 83.7 158.2 83.5 158.4 83.1 158.6 82.7 158.7 82.5 158.9 82.0 159.0 81.7 159.2 81.5 159.4 81.0 159.5 80.7 159.7 80.5 159.9 80.0 160.0 79.7 160.2 79.4 160.4 79.0 160.5 78.7 160.7 78.4 160.9 78.0 161.0 77.7 161.2 77.4 161.4 77.0 161.5 76.7 161.7 76.4 161.9 76.0 162.0 75.7 162.2 75.5 162.4 75.0 162.6 74.7 162.7 74.5 162.9 74.2 163.2 73.7 163.3 73.5 163.5 73.2 163.7 73.0 163.9 72.6 164.2 72.2 164.3 72.0 164.5 71.7 164.7 71.5 164.9 71.2 165.2 70.9 165.4 70.6 165.7 70.4 165.9 70.1 166.2 69.9 166.4 69.6 166.7 69.4 167.0 69.2 167.3 69.0 167.7 68.7 167.9 68.6 168.2 68.5 168.7 68.2 168.9 68.2 169.4 68.0 169.7 67.9 170.2 67.8 170.7 67.8 171.2 67.8 171.7 67.8 172.2 67.8 172.7 67.8 173.2 67.9 173.4 68.0 173.9 68.0 174.4 68.2 174.7 68.2 175.2 68.3 175.6 68.5 175.9 68.5 176.4 68.7 176.7 68.8 177.2 68.9 177.4 69.0 177.9 69.1 178.2 69.2 178.7 69.4 178.9 69.5 179.4 69.6 179.8 69.7 180.2 69.8 180.6 70.0 180.9 70.0 181.4 70.2 181.7 70.3 182.2 70.4 182.4 70.5 182.9 70.6 183.2 70.7 183.7 70.8 184.0 71.0 184.4 71.1 184.9 71.2 185.2 71.3 185.7 71.4 185.9 71.5 186.4 71.6 186.7 71.7 187.2 71.9 187.4 72.0 187.9 72.1 188.2 72.2 188.7 72.4 188.9 72.5 189.4 72.7 189.7 72.7 190.2 72.9 190.4 73.0 190.8 73.2 191.2 73.4 191.4 73.5 191.9 73.7 192.2 73.8 192.4 74.0 192.8 74.2 193.2 74.4 193.4 74.5 193.8 74.7 194.2 74.9 194.4 75.1 194.7 75.2 195.0 75.5 195.4 75.7 195.7 75.8 195.9 76.0 196.2 76.2 196.6 76.5 196.9 76.6 197.2 76.8 197.4 77.0 197.7 77.2 198.1 77.5 198.4 77.6 198.7 77.8 198.9 78.0 199.3 78.2 199.7 78.4 199.9 78.6 200.2 78.8 200.4 79.0 200.9 79.2 201.2 79.4 201.4 79.5 201.7 79.7 202.1 80.0 202.4 80.1 202.7 80.3 203.0 80.5 203.4 80.7 203.7 80.8 203.9 81.0 204.4 81.2 204.7 81.3 205.0 81.5 205.4 81.7 205.7 81.8 206.0 82.0 206.4 82.1 206.7 82.2 207.2 82.4 207.4 82.5 207.8 82.7 208.2 82.8 208.5 83.0 208.9 83.1 209.2 83.2 209.7 83.4 209.9 83.5 210.4 83.6 210.7 83.7 211.2 83.9 211.4 84.0 211.9 84.1 212.2 84.2 212.7 84.3 213.1 84.5 213.4 84.6 213.9 84.7 214.2 84.8 214.7 84.9 214.9 85.0 215.4 85.2 215.7 85.3 216.2 85.4 216.4 85.5 216.9 85.7 217.2 85.8 217.7 85.9 217.9 86.0 218.3 86.2 218.7 86.3 218.9 86.5 219.4 86.7 219.7 86.8 220.0 87.0 220.4 87.1 220.7 87.2 221.1 87.5 221.4 87.6 221.7 87.8 222.0 88.0 222.4 88.2 222.7 88.3 222.9 88.5 223.3 88.7 223.7 88.9 223.9 89.1 224.2 89.2 224.5 89.5 224.9 89.7 225.2 89.9 225.4 90.0 225.7 90.2 226.0 90.5 226.4 90.7 226.7 90.9 226.9 91.0 227.2 91.2 227.5 91.5 227.9 91.7 228.2 91.8 228.4 92.0 228.7 92.2 229.1 92.5 229.4 92.6 229.7 92.8 229.9 93.0 230.4 93.2 230.7 93.4 230.9 93.5 231.2 93.7 231.7 93.9 231.9 94.1 232.2 94.2 232.6 94.5 232.9 94.6 233.2 94.7 233.7 94.9 233.9 95.1 234.2 95.2 234.7 95.4 234.9 95.5 235.3 95.7 235.7 95.8 235.9 96.0 236.4 96.1 236.7 96.2 237.2 96.4 237.4 96.5 237.9 96.7 238.2 96.8 238.6 97.0 238.9 97.0 239.4 97.2 239.7 97.3 240.1 97.5 240.4 97.5 240.9 97.7 241.2 97.8 241.6 98.0 241.9 98.0 242.4 98.2 242.7 98.3 243.1 98.5 243.4 98.6 243.8 98.7 244.2 98.8 244.5 99.0 244.9 99.1 245.2 99.2 245.7 99.4 245.9 99.6 246.2 99.7 246.7 99.9 246.9 100.1 247.2 100.2 247.6 100.5 247.9 100.7 248.2 100.8 248.4 101.0 248.7 101.2 249.0 101.5 249.3 101.7 249.6 102.0 249.9 102.2 250.1 102.5 250.4 102.7 250.6 103.0 250.8 103.2 251.0 103.5 251.2 103.7 251.4 104.0 251.7 104.4 251.9 104.7 252.0 105.0 252.2 105.2 252.4 105.7 252.5 106.0 252.7 106.3 252.8 106.7 252.9 107.1 253.0 107.5 253.1 108.0 253.2 108.2 253.3 108.7 253.3 109.2 253.4 109.7 253.4 110.2 253.4 110.7 253.4 111.2 253.3 111.7 253.3 112.2 253.2 112.7 253.2 113.1 253.1 113.5 253.0 114.0 252.9 114.3 252.8 114.7 252.7 115.2 252.6 115.5 252.5 116.0 252.4 116.2 252.2 116.7 252.2 117.0 252.0 117.5 251.9 117.7 251.7 118.2 251.6 118.5 251.4 119.0 251.4 119.2 251.2 119.7 251.1 120.0 250.9 120.4 250.8 120.7 250.7 121.0 250.4 121.5 250.3 121.7 250.2 122.1 250.0 122.5 249.9 122.7 249.7 123.2 249.6 123.5 249.4 123.9 249.2 124.2 249.1 124.5 248.9 125.0 248.8 125.2 248.7 125.5 248.4 126.0 248.3 126.2 248.2 126.6 248.0 127.0 247.9 127.2 247.7 127.7 247.5 128.0 247.4 128.2 247.2 128.7 247.1 128.9 246.9 129.3 246.7 129.7 246.6 129.9 246.4 130.4 246.3 130.7 246.1 130.9 245.9 131.4 245.8 131.7 245.7 132.0 245.5 132.4 245.3 132.7 245.2 133.1 245.0 133.4 244.9 133.7 244.7 134.2 244.5 134.4 244.4 134.8 244.2 135.2 244.1 135.4 243.9 135.9 243.7 136.2 243.6 136.4 243.4 136.9 243.3 137.2 243.2 137.5 242.9 137.9 242.8 138.2 242.7 138.6 242.5 138.9 242.4 139.2 242.2 139.7 242.0 139.9 241.9 140.2 241.7 140.7 241.5 140.9 241.4 141.3 241.2 141.7 241.1 141.9 240.9 142.3 240.7 142.7 240.6 142.9 240.4 143.4 240.3 143.7 240.1 143.9 239.9 144.4 239.8 144.7 239.7 145.0 239.4 145.4 239.3 145.7 239.2 146.1 239.0 146.4 238.9 146.7 238.7 147.2 238.5 147.4 238.4 147.7 238.2 148.2 238.1 148.4 237.9 148.8 237.7 149.2 237.6 149.4 237.4 149.9 237.3 150.2 237.1 150.4 236.9 150.9 236.8 151.2 236.7 151.5 236.5 151.9 236.3 152.2 236.2 152.6 236.0 152.9 235.9 153.2 235.7 153.7 235.5 153.9 235.4 154.3 235.2 154.7 235.1 154.9 234.9 155.3 234.7 155.7 234.6 155.9 234.4 156.4 234.3 156.7 234.2 157.0 233.9 157.4 233.8 157.7 233.7 158.0 233.4 158.4 233.3 158.7 233.2 159.1 233.0 159.4 232.9 159.7 232.7 160.2 232.5 160.4 232.4 160.7 232.2 161.2 232.0 161.4 231.9 161.8 231.7 162.2 231.6 162.4 231.4 162.8 231.2 163.2 231.1 163.4 230.9 163.9 230.8 164.2 230.6 164.4 230.4 164.9 230.3 165.2 230.2 165.5 230.0 165.9 229.8 166.2 229.7 166.6 229.5 166.9 229.4 167.2 229.2 167.7 229.0 167.9 228.9 168.2 228.7 168.7 228.6 168.9 228.4 169.3 228.2 169.7 228.1 169.9 227.9 170.3 227.7 170.7 227.6 170.9 227.4 171.4 227.2 171.7 227.1 171.9 226.9 172.4 226.7 172.7 226.6 172.9 226.4 173.4 226.2 173.7 226.1 173.9 225.9 174.3 225.7 174.7 225.6 174.9 225.4 175.2 225.2 175.7 225.0 175.9 224.8 176.2 224.7 176.5 224.4 176.9 224.2 177.2 224.1 177.4 223.9 177.7 223.7 178.1 223.4 178.4 223.2 178.7 223.0 178.9 222.8 179.2 222.7 179.5 222.4 179.8 222.2 180.1 221.9 180.4 221.7 180.6 221.4 180.9 221.2 181.2 220.9 181.4 220.7 181.6 220.4 181.8 220.2 182.1 219.9 182.2 219.6 182.4 219.3 182.7 218.9 182.9 218.7 183.1 218.4 183.2 218.0 183.4 217.7 183.6 217.4 183.7 216.9 183.9 216.7 184.0 216.2 184.2 215.9 184.2 215.4 184.3 214.9 184.4 214.7 184.5M213.7 174.7 213.2 174.8 212.7 174.9 212.2 174.9 211.7 174.9 211.2 174.8 210.7 174.7 210.4 174.6 209.9 174.5 209.7 174.4 209.2 174.2 208.9 174.1 208.5 173.9 208.2 173.8 207.9 173.7 207.5 173.4 207.2 173.3 206.9 173.2 206.5 172.9 206.2 172.8 205.9 172.6 205.6 172.4 205.2 172.2 204.9 172.1 204.7 171.9 204.3 171.7 203.9 171.5 203.7 171.4 203.3 171.2 202.9 171.0 202.7 170.8 202.4 170.7 201.9 170.4 201.7 170.3 201.4 170.2 200.9 169.9 200.7 169.8 200.4 169.7 199.9 169.5 199.7 169.3 199.4 169.2 198.9 169.0 198.7 168.9 198.2 168.7 197.9 168.6 197.6 168.4 197.2 168.3 196.9 168.2 196.4 168.0 196.2 167.9 195.7 167.7 195.4 167.6 195.0 167.4 194.7 167.3 194.3 167.2 193.9 167.1 193.6 166.9 193.2 166.8 192.8 166.7 192.4 166.6 192.0 166.4 191.7 166.3 191.2 166.2 190.9 166.1 190.4 166.0 190.2 165.9 189.7 165.7 189.4 165.6 188.9 165.5 188.7 165.4 188.2 165.2 187.9 165.1 187.4 165.0 187.2 164.9 186.7 164.7 186.4 164.6 186.1 164.4 185.7 164.3 185.4 164.2 184.9 163.9 184.7 163.8 184.4 163.7 183.9 163.5 183.7 163.3 183.4 163.2 183.0 162.9 182.7 162.8 182.4 162.6 182.1 162.4 181.7 162.2 181.4 162.0 181.2 161.9 180.9 161.7 180.5 161.4 180.2 161.2 179.9 161.1 179.7 160.9 179.3 160.7 178.9 160.4 178.7 160.3 178.4 160.1 178.2 159.9 177.8 159.7 177.4 159.4 177.2 159.3 176.9 159.1 176.6 158.9 176.2 158.7 175.9 158.5 175.7 158.4 175.4 158.2 175.0 157.9 174.7 157.8 174.4 157.6 174.1 157.4 173.7 157.2 173.4 157.1 173.1 156.9 172.7 156.7 172.4 156.6 172.2 156.4 171.7 156.2 171.4 156.1 171.1 155.9 170.7 155.7 170.4 155.6 170.0 155.4 169.7 155.3 169.4 155.2 168.9 155.0 168.7 154.9 168.2 154.7 167.9 154.6 167.6 154.4 167.2 154.3 166.9 154.2 166.4 154.0 166.2 153.9 165.7 153.8 165.4 153.7 164.9 153.5 164.7 153.4 164.2 153.3 163.9 153.2 163.4 153.0 163.2 152.9 162.7 152.8 162.4 152.7 161.9 152.6 161.5 152.4 161.2 152.3 160.8 152.2 160.4 152.1 160.0 151.9 159.7 151.8 159.3 151.7 158.9 151.6 158.6 151.4 158.2 151.3 157.9 151.2 157.4 151.0 157.2 150.9 156.8 150.7 156.4 150.5 156.2 150.4 155.7 150.2 155.4 150.0 155.2 149.9 154.8 149.7 154.4 149.5 154.2 149.3 153.9 149.2 153.5 148.9 153.2 148.7 152.9 148.6 152.7 148.4 152.3 148.2 152.0 147.9 151.7 147.7 151.4 147.6 151.2 147.4 150.9 147.2 150.6 146.9 150.2 146.7 149.9 146.5 149.7 146.3 149.4 146.1 149.2 145.9 148.9 145.7 148.6 145.4 148.3 145.2 148.0 144.9 147.7 144.7 147.4 144.5 147.2 144.3 146.9 144.1 146.7 143.8 146.4 143.6 146.2 143.4 145.9 143.1 145.7 142.9 145.4 142.6 145.2 142.3 144.9 142.0 144.7 141.7 144.5 141.4 144.4 141.2 144.2 140.8 144.0 140.4 143.9 140.2 143.7 139.7 143.6 139.4 143.5 138.9 143.4 138.5 143.4 138.2 143.3 137.7 143.3 137.2 143.4 136.7 143.4 136.3 143.4 135.9 143.5 135.4 143.6 134.9 143.7 134.7 143.8 134.2 143.9 133.9 144.0 133.4 144.2 133.1 144.3 132.7 144.4 132.4 144.6 131.9 144.7 131.7 144.9 131.2 145.0 130.9 145.2 130.5 145.3 130.2 145.4 129.9 145.6 129.4 145.7 129.2 145.9 128.8 146.0 128.4 146.2 128.2 146.4 127.7 146.5 127.5 146.7 127.1 146.8 126.7 147.0 126.5 147.2 126.0 147.3 125.7 147.4 125.5 147.6 125.0 147.8 124.7 147.9 124.4 148.1 124.0 148.2 123.7 148.4 123.3 148.5 123.0 148.7 122.7 148.9 122.2 149.0 122.0 149.2 121.6 149.3 121.2 149.4 121.0 149.7 120.5 149.8 120.2 149.9 119.9 150.1 119.5 150.2 119.2 150.4 118.8 150.6 118.5 150.7 118.2 150.9 117.7 151.0 117.5 151.2 117.1 151.4 116.7 151.5 116.5 151.7 116.1 151.8 115.7 151.9 115.5 152.2 115.0 152.3 114.7 152.4 114.4 152.6 114.0 152.8 113.7 152.9 113.4 153.1 113.0 153.2 112.7 153.4 112.4 153.6 112.0 153.7 111.7 153.9 111.3 154.1 111.0 154.2 110.7 154.4 110.3 154.5 110.0 154.7 109.7 154.9 109.2 155.0 109.0 155.2 108.7 155.4 108.2 155.5 108.0 155.7 107.6 155.8 107.2 155.9 107.0 156.2 106.5 156.3 106.2 156.4 105.9 156.6 105.5 156.7 105.2 156.9 104.8 157.1 104.5 157.2 104.2 157.4 103.7 157.5 103.5 157.7 103.1 157.8 102.7 158.0 102.5 158.2 102.0 158.3 101.7 158.4 101.5 158.6 101.0 158.8 100.7 158.9 100.4 159.1 100.0 159.2 99.7 159.4 99.3 159.6 99.0 159.7 98.7 159.9 98.2 160.0 98.0 160.2 97.7 160.4 97.2 160.5 97.0 160.7 96.6 160.9 96.2 161.0 96.0 161.2 95.6 161.3 95.2 161.5 95.0 161.7 94.6 161.8 94.2 161.9 94.0 162.2 93.5 162.3 93.2 162.4 93.0 162.7 92.5 162.8 92.2 162.9 91.9 163.1 91.5 163.2 91.2 163.4 90.9 163.6 90.5 163.7 90.2 163.9 89.8 164.1 89.5 164.2 89.2 164.4 88.7 164.5 88.5 164.7 88.2 164.9 87.7 165.0 87.5 165.2 87.1 165.4 86.7 165.5 86.5 165.7 86.1 165.9 85.7 166.0 85.5 166.2 85.1 166.4 84.7 166.5 84.5 166.7 84.2 166.9 83.7 167.1 83.5 167.2 83.2 167.4 82.9 167.7 82.5 167.8 82.2 168.0 82.0 168.2 81.7 168.4 81.4 168.7 81.1 168.9 80.8 169.2 80.5 169.4 80.2 169.6 80.0 169.9 79.7 170.2 79.5 170.4 79.3 170.7 79.1 170.9 78.9 171.3 78.7 171.7 78.5 171.9 78.4 172.4 78.2 172.7 78.1 173.2 78.0 173.4 77.9 173.9 77.9 174.4 77.8 174.9 77.8 175.4 77.8 175.9 77.8 176.4 77.9 176.9 77.9 177.2 78.0 177.7 78.0 178.2 78.1 178.7 78.2 178.9 78.2 179.4 78.3 179.9 78.4 180.2 78.5 180.7 78.6 181.0 78.7 181.4 78.8 181.9 78.9 182.2 79.0 182.7 79.1 183.0 79.2 183.4 79.3 183.9 79.5 184.2 79.5 184.7 79.7 184.9 79.8 185.4 79.9 185.7 80.0 186.1 80.2 186.4 80.3 186.8 80.5 187.2 80.6 187.4 80.7 187.9 80.9 188.2 81.0 188.5 81.2 188.9 81.4 189.2 81.5 189.5 81.7 189.9 81.9 190.2 82.1 190.4 82.2 190.8 82.5 191.2 82.7 191.4 82.8 191.7 83.0 192.0 83.2 192.4 83.4 192.7 83.6 192.9 83.8 193.2 84.0 193.6 84.2 193.9 84.4 194.2 84.6 194.4 84.7 194.7 85.0 195.1 85.2 195.4 85.4 195.7 85.5 195.9 85.7 196.3 86.0 196.7 86.2 196.9 86.3 197.2 86.5 197.5 86.7 197.9 86.9 198.2 87.1 198.4 87.2 198.8 87.5 199.2 87.6 199.4 87.8 199.7 88.0 200.2 88.2 200.4 88.3 200.7 88.5 201.2 88.7 201.4 88.8 201.8 89.0 202.2 89.1 202.4 89.2 202.9 89.5 203.2 89.6 203.4 89.7 203.9 89.9 204.2 90.0 204.7 90.2 204.9 90.3 205.3 90.5 205.7 90.6 206.0 90.7 206.4 90.9 206.7 91.0 207.2 91.1 207.4 91.2 207.9 91.4 208.2 91.5 208.7 91.6 208.9 91.7 209.4 91.8 209.7 92.0 210.2 92.1 210.5 92.2 210.9 92.3 211.4 92.5 211.7 92.5 212.1 92.7 212.4 92.8 212.9 92.9 213.2 93.0 213.6 93.2 213.9 93.3 214.3 93.5 214.7 93.6 215.0 93.7 215.4 93.9 215.7 94.0 216.1 94.2 216.4 94.3 216.7 94.5 217.2 94.7 217.4 94.8 217.7 95.0 218.2 95.2 218.4 95.3 218.7 95.5 219.1 95.7 219.4 95.9 219.7 96.1 219.9 96.2 220.3 96.5 220.7 96.7 220.9 96.8 221.2 97.0 221.5 97.2 221.8 97.5 222.2 97.6 222.4 97.8 222.7 98.0 223.0 98.2 223.4 98.5 223.7 98.6 223.9 98.8 224.2 99.0 224.5 99.2 224.9 99.4 225.2 99.6 225.4 99.7 225.8 100.0 226.2 100.2 226.4 100.3 226.7 100.5 227.0 100.7 227.4 100.9 227.7 101.0 228.0 101.2 228.4 101.4 228.7 101.6 228.9 101.7 229.4 101.9 229.7 102.1 229.9 102.2 230.4 102.4 230.7 102.6 231.0 102.7 231.4 102.9 231.7 103.0 232.1 103.2 232.4 103.3 232.7 103.5 233.2 103.6 233.4 103.8 233.9 104.0 234.2 104.1 234.5 104.2 234.9 104.3 235.2 104.5 235.7 104.6 235.9 104.7 236.4 104.9 236.7 105.0 237.1 105.2 237.4 105.3 237.7 105.5 238.2 105.6 238.4 105.7 238.9 105.9 239.2 106.0 239.5 106.2 239.9 106.4 240.2 106.5 240.4 106.7 240.9 107.0 241.2 107.1 241.4 107.3 241.7 107.5 241.9 107.7 242.2 108.0 242.5 108.2 242.7 108.5 242.9 108.7 243.2 109.0 243.4 109.3 243.6 109.7 243.7 110.0 243.9 110.4 244.0 110.7 244.1 111.2 244.2 111.5 244.2 112.0 244.3 112.5 244.3 113.0 244.2 113.5 244.2 114.0 244.2 114.2 244.1 114.7 244.0 115.2 243.9 115.5 243.8 116.0 243.7 116.5 243.6 116.7 243.4 117.2 243.3 117.5 243.2 118.0 243.1 118.2 242.9 118.7 242.8 119.0 242.7 119.4 242.5 119.7 242.4 120.0 242.2 120.5 242.1 120.7 241.9 121.2 241.8 121.5 241.7 121.9 241.5 122.2 241.4 122.5 241.2 123.0 241.1 123.2 240.9 123.7 240.8 124.0 240.7 124.3 240.5 124.7 240.4 125.0 240.2 125.4 240.0 125.7 239.9 126.0 239.7 126.5 239.6 126.7 239.4 127.1 239.2 127.5 239.1 127.7 238.9 128.2 238.8 128.4 238.7 128.7 238.4 129.2 238.3 129.4 238.2 129.8 237.9 130.2 237.8 130.4 237.7 130.8 237.5 131.2 237.3 131.4 237.2 131.9 237.0 132.2 236.9 132.4 236.7 132.9 236.5 133.2 236.4 133.4 236.2 133.9 236.0 134.2 235.9 134.5 235.7 134.9 235.6 135.2 235.4 135.6 235.2 135.9 235.1 136.2 234.9 136.7 234.8 136.9 234.7 137.2 234.4 137.7 234.3 137.9 234.2 138.3 234.0 138.7 233.9 138.9 233.7 139.4 233.5 139.7 233.4 140.0 233.2 140.4 233.1 140.7 232.9 141.1 232.8 141.4 232.6 141.7 232.4 142.2 232.3 142.4 232.2 142.8 232.0 143.2 231.8 143.4 231.7 143.9 231.5 144.2 231.4 144.4 231.2 144.9 231.0 145.2 230.9 145.5 230.7 145.9 230.6 146.2 230.4 146.5 230.2 146.9 230.1 147.2 229.9 147.6 229.7 147.9 229.6 148.2 229.4 148.6 229.2 148.9 229.1 149.2 228.9 149.7 228.8 149.9 228.6 150.2 228.4 150.7 228.3 150.9 228.2 151.3 227.9 151.7 227.8 151.9 227.7 152.3 227.5 152.7 227.4 152.9 227.2 153.4 227.0 153.7 226.9 154.0 226.7 154.4 226.6 154.7 226.4 155.1 226.2 155.4 226.1 155.7 225.9 156.2 225.8 156.4 225.7 156.8 225.5 157.2 225.3 157.4 225.2 157.9 225.0 158.2 224.9 158.4 224.7 158.9 224.6 159.2 224.4 159.5 224.2 159.9 224.1 160.2 223.9 160.6 223.7 160.9 223.6 161.2 223.4 161.7 223.3 161.9 223.1 162.2 222.9 162.7 222.8 162.9 222.6 163.2 222.4 163.7 222.3 163.9 222.2 164.2 221.9 164.7 221.8 164.9 221.6 165.2 221.4 165.7 221.3 165.9 221.1 166.2 220.9 166.6 220.7 166.9 220.6 167.2 220.4 167.6 220.2 167.9 220.0 168.2 219.9 168.5 219.7 168.9 219.5 169.2 219.3 169.4 219.2 169.7 218.9 170.1 218.7 170.4 218.5 170.7 218.4 170.9 218.2 171.2 217.9 171.6 217.7 171.9 217.4 172.2 217.2 172.4 216.9 172.7 216.7 172.9 216.4 173.2 216.2 173.4 215.9 173.6 215.7 173.8 215.4 174.0 215.0 174.2 214.7 174.4 214.4 174.5 213.9 174.7 213.7 174.7" stroke="#000" stroke-opacity="0.72" stroke-width="1.1" fill="none" stroke-linejoin="round"/>
<g fill="#fff" stroke="#000" stroke-width="0.85"><circle cx="166.80" cy="52.40" r="2.0"/><circle cx="159.10" cy="69.05" r="2.0"/><circle cx="151.40" cy="85.70" r="2.0"/><circle cx="143.70" cy="102.35" r="2.0"/><circle cx="136.00" cy="119.00" r="2.0"/><circle cx="128.30" cy="135.65" r="2.0"/><circle cx="120.60" cy="152.30" r="2.0"/><circle cx="177.20" cy="67.42" r="2.0"/><circle cx="169.50" cy="84.08" r="2.0"/><circle cx="161.80" cy="100.72" r="2.0"/><circle cx="154.10" cy="117.38" r="2.0"/><circle cx="146.40" cy="134.03" r="2.0"/><circle cx="138.70" cy="150.67" r="2.0"/><circle cx="195.30" cy="65.80" r="2.0"/><circle cx="187.60" cy="82.45" r="2.0"/><circle cx="179.90" cy="99.10" r="2.0"/><circle cx="172.20" cy="115.75" r="2.0"/><circle cx="164.50" cy="132.40" r="2.0"/><circle cx="156.80" cy="149.05" r="2.0"/><circle cx="149.10" cy="165.70" r="2.0"/><circle cx="205.70" cy="80.83" r="2.0"/><circle cx="198.00" cy="97.47" r="2.0"/><circle cx="190.30" cy="114.12" r="2.0"/><circle cx="182.60" cy="130.77" r="2.0"/><circle cx="174.90" cy="147.43" r="2.0"/><circle cx="167.20" cy="164.07" r="2.0"/><circle cx="223.80" cy="79.20" r="2.0"/><circle cx="216.10" cy="95.85" r="2.0"/><circle cx="208.40" cy="112.50" r="2.0"/><circle cx="200.70" cy="129.15" r="2.0"/><circle cx="193.00" cy="145.80" r="2.0"/><circle cx="185.30" cy="162.45" r="2.0"/><circle cx="177.60" cy="179.10" r="2.0"/><circle cx="234.20" cy="94.23" r="2.0"/><circle cx="226.50" cy="110.88" r="2.0"/><circle cx="218.80" cy="127.53" r="2.0"/><circle cx="211.10" cy="144.18" r="2.0"/><circle cx="203.40" cy="160.82" r="2.0"/><circle cx="195.70" cy="177.47" r="2.0"/><circle cx="252.30" cy="92.60" r="2.0"/><circle cx="244.60" cy="109.25" r="2.0"/><circle cx="236.90" cy="125.90" r="2.0"/><circle cx="229.20" cy="142.55" r="2.0"/><circle cx="221.50" cy="159.20" r="2.0"/><circle cx="213.80" cy="175.85" r="2.0"/><circle cx="206.10" cy="192.50" r="2.0"/><circle cx="262.70" cy="107.62" r="2.0"/><circle cx="255.00" cy="124.27" r="2.0"/><circle cx="247.30" cy="140.93" r="2.0"/><circle cx="239.60" cy="157.57" r="2.0"/><circle cx="231.90" cy="174.22" r="2.0"/><circle cx="224.20" cy="190.88" r="2.0"/></g>
<rect x="70.4" y="2.45" width="246.20000000000002" height="247.8" fill="none" stroke="#333" stroke-width="1.3"/>
<rect x="245.5" y="7.0" width="66.80000000000001" height="31.0" rx="1.5" fill="#fff" stroke="#444" stroke-width="0.9"/>
<text x="279.4" y="18.8" font-size="9.4" text-anchor="middle" class="s">7M</text>
<circle cx="254.1" cy="30.1" r="2.0" fill="#fff" stroke="#000" stroke-width="1.0"/>
<text x="263.8" y="32.8" font-size="9.4" class="s">Field center</text>
<text x="81.8" y="240.3" font-size="9.4" class="s">Contours show 50%, 90%, 95%, 99%</text>
<text x="68.5" y="15.9" font-size="14.5" letter-spacing="0.25" text-anchor="end" class="b">−73°53′</text>
<text x="68.5" y="64.2" font-size="14.5" letter-spacing="0.25" text-anchor="end" class="b">54′</text>
<text x="68.5" y="113.8" font-size="14.5" letter-spacing="0.25" text-anchor="end" class="b">55′</text>
<text x="68.5" y="163.3" font-size="14.5" letter-spacing="0.25" text-anchor="end" class="b">56′</text>
<text x="68.5" y="212.8" font-size="14.5" letter-spacing="0.25" text-anchor="end" class="b">57′</text>
<text x="118.8" y="264.1" font-size="14.3" text-anchor="middle" class="b">9<tspan font-size="9.4" dy="-5.0" stroke-width="0.05">h</tspan><tspan dy="5.0">50</tspan><tspan font-size="9.4" dy="-5.0" stroke-width="0.05">m</tspan><tspan dy="5.0">30</tspan><tspan font-size="9.4" dy="-5.0" stroke-width="0.05">s</tspan></text>
<text x="170.2" y="264.1" font-size="14.3" text-anchor="middle" class="b">15<tspan font-size="9.4" dy="-5.0" stroke-width="0.05">s</tspan></text>
<text x="221.5" y="264.1" font-size="14.3" text-anchor="middle" class="b">00<tspan font-size="9.4" dy="-5.0" stroke-width="0.05">s</tspan></text>
<text x="272.9" y="264.1" font-size="14.3" text-anchor="middle" class="b">49<tspan font-size="9.4" dy="-5.0" stroke-width="0.05">m</tspan><tspan dy="5.0">45</tspan><tspan font-size="9.4" dy="-5.0" stroke-width="0.05">s</tspan></text>
<text x="193.5" y="283.5" font-size="13.7" text-anchor="middle" class="b">Right Ascension [J2000]</text>
<text transform="translate(12.1,126.3) rotate(-90)" font-size="13.7" text-anchor="middle" class="b">Declination [J2000]</text>
<rect x="319.6" y="2.45" width="12.7" height="247.8" fill="url(#cg0)" stroke="#111" stroke-width="0.9"/>
<text x="333.4" y="236.3" font-size="9.4">0.3</text>
<text x="333.4" y="206.6" font-size="9.4">0.4</text>
<text x="333.4" y="176.9" font-size="9.4">0.5</text>
<text x="333.4" y="147.2" font-size="9.4">0.6</text>
<text x="333.4" y="117.4" font-size="9.4">0.7</text>
<text x="333.4" y="87.7" font-size="9.4">0.8</text>
<text x="333.4" y="58.0" font-size="9.4">0.9</text>
<text x="333.4" y="28.3" font-size="9.4">1.0</text>
<path d="M319.6 233.00h3.4M332.3 233.00h-3.4M319.6 203.29h3.4M332.3 203.29h-3.4M319.6 173.57h3.4M332.3 173.57h-3.4M319.6 143.86h3.4M332.3 143.86h-3.4M319.6 114.14h3.4M332.3 114.14h-3.4M319.6 84.43h3.4M332.3 84.43h-3.4M319.6 54.71h3.4M332.3 54.71h-3.4M319.6 25.00h3.4M332.3 25.00h-3.4" stroke="#111" stroke-width="1.1"/>
<text transform="translate(357.7,126.3) rotate(-90)" font-size="9.4" text-anchor="middle">Mosaic sensitivity</text>
<g filter="url(#fm1)"><circle cx="543.50" cy="64.00" r="4.26" fill-opacity="0.9924"/><circle cx="539.58" cy="72.39" r="4.26" fill-opacity="0.9932"/><circle cx="535.66" cy="80.78" r="4.26" fill-opacity="0.9939"/><circle cx="531.74" cy="89.17" r="4.26" fill-opacity="0.9947"/><circle cx="527.82" cy="97.56" r="4.26" fill-opacity="0.9955"/><circle cx="523.90" cy="105.95" r="4.26" fill-opacity="0.9962"/><circle cx="519.98" cy="114.34" r="4.26" fill-opacity="0.9970"/><circle cx="516.06" cy="122.73" r="4.26" fill-opacity="0.9977"/><circle cx="512.14" cy="131.12" r="4.26" fill-opacity="0.9985"/><circle cx="508.22" cy="139.51" r="4.26" fill-opacity="0.9992"/><circle cx="504.30" cy="147.90" r="4.26"/><circle cx="548.81" cy="71.57" r="4.26" fill-opacity="0.9884"/><circle cx="544.89" cy="79.97" r="4.26" fill-opacity="0.9892"/><circle cx="540.98" cy="88.35" r="4.26" fill-opacity="0.9900"/><circle cx="537.05" cy="96.75" r="4.26" fill-opacity="0.9907"/><circle cx="533.13" cy="105.13" r="4.26" fill-opacity="0.9915"/><circle cx="529.22" cy="113.53" r="4.26" fill-opacity="0.9922"/><circle cx="525.29" cy="121.91" r="4.26" fill-opacity="0.9930"/><circle cx="521.38" cy="130.31" r="4.26" fill-opacity="0.9937"/><circle cx="517.45" cy="138.69" r="4.26" fill-opacity="0.9945"/><circle cx="513.53" cy="147.09" r="4.26" fill-opacity="0.9953"/><circle cx="558.05" cy="70.76" r="4.26" fill-opacity="0.9837"/><circle cx="554.13" cy="79.15" r="4.26" fill-opacity="0.9845"/><circle cx="550.21" cy="87.54" r="4.26" fill-opacity="0.9852"/><circle cx="546.29" cy="95.93" r="4.26" fill-opacity="0.9860"/><circle cx="542.37" cy="104.32" r="4.26" fill-opacity="0.9867"/><circle cx="538.45" cy="112.71" r="4.26" fill-opacity="0.9875"/><circle cx="534.53" cy="121.10" r="4.26" fill-opacity="0.9882"/><circle cx="530.61" cy="129.49" r="4.26" fill-opacity="0.9890"/><circle cx="526.69" cy="137.88" r="4.26" fill-opacity="0.9898"/><circle cx="522.77" cy="146.27" r="4.26" fill-opacity="0.9905"/><circle cx="518.85" cy="154.66" r="4.26" fill-opacity="0.9913"/><circle cx="563.37" cy="78.34" r="4.26" fill-opacity="0.9797"/><circle cx="559.45" cy="86.72" r="4.26" fill-opacity="0.9805"/><circle cx="555.53" cy="95.12" r="4.26" fill-opacity="0.9812"/><circle cx="551.61" cy="103.50" r="4.26" fill-opacity="0.9820"/><circle cx="547.69" cy="111.90" r="4.26" fill-opacity="0.9827"/><circle cx="543.77" cy="120.28" r="4.26" fill-opacity="0.9835"/><circle cx="539.85" cy="128.68" r="4.26" fill-opacity="0.9843"/><circle cx="535.93" cy="137.06" r="4.26" fill-opacity="0.9850"/><circle cx="532.00" cy="145.45" r="4.26" fill-opacity="0.9858"/><circle cx="528.09" cy="153.85" r="4.26" fill-opacity="0.9865"/><circle cx="572.60" cy="77.52" r="4.26" fill-opacity="0.9750"/><circle cx="568.68" cy="85.91" r="4.26" fill-opacity="0.9757"/><circle cx="564.76" cy="94.30" r="4.26" fill-opacity="0.9765"/><circle cx="560.84" cy="102.69" r="4.26" fill-opacity="0.9772"/><circle cx="556.92" cy="111.08" r="4.26" fill-opacity="0.9780"/><circle cx="553.00" cy="119.47" r="4.26" fill-opacity="0.9788"/><circle cx="549.08" cy="127.86" r="4.26" fill-opacity="0.9795"/><circle cx="545.16" cy="136.25" r="4.26" fill-opacity="0.9803"/><circle cx="541.24" cy="144.64" r="4.26" fill-opacity="0.9810"/><circle cx="537.32" cy="153.03" r="4.26" fill-opacity="0.9818"/><circle cx="533.40" cy="161.42" r="4.26" fill-opacity="0.9825"/><circle cx="577.91" cy="85.09" r="4.26" fill-opacity="0.9710"/><circle cx="574.00" cy="93.49" r="4.26" fill-opacity="0.9717"/><circle cx="570.08" cy="101.88" r="4.26" fill-opacity="0.9725"/><circle cx="566.15" cy="110.27" r="4.26" fill-opacity="0.9733"/><circle cx="562.24" cy="118.66" r="4.26" fill-opacity="0.9740"/><circle cx="558.32" cy="127.05" r="4.26" fill-opacity="0.9748"/><circle cx="554.39" cy="135.44" r="4.26" fill-opacity="0.9755"/><circle cx="550.48" cy="143.83" r="4.26" fill-opacity="0.9763"/><circle cx="546.55" cy="152.22" r="4.26" fill-opacity="0.9770"/><circle cx="542.63" cy="160.61" r="4.26" fill-opacity="0.9778"/><circle cx="587.15" cy="84.28" r="4.26" fill-opacity="0.9662"/><circle cx="583.23" cy="92.67" r="4.26" fill-opacity="0.9670"/><circle cx="579.31" cy="101.06" r="4.26" fill-opacity="0.9678"/><circle cx="575.39" cy="109.45" r="4.26" fill-opacity="0.9685"/><circle cx="571.47" cy="117.84" r="4.26" fill-opacity="0.9693"/><circle cx="567.55" cy="126.23" r="4.26" fill-opacity="0.9700"/><circle cx="563.63" cy="134.62" r="4.26" fill-opacity="0.9708"/><circle cx="559.71" cy="143.01" r="4.26" fill-opacity="0.9715"/><circle cx="555.79" cy="151.40" r="4.26" fill-opacity="0.9723"/><circle cx="551.87" cy="159.79" r="4.26" fill-opacity="0.9731"/><circle cx="547.95" cy="168.18" r="4.26" fill-opacity="0.9738"/><circle cx="592.46" cy="91.85" r="4.26" fill-opacity="0.9623"/><circle cx="588.54" cy="100.25" r="4.26" fill-opacity="0.9630"/><circle cx="584.62" cy="108.63" r="4.26" fill-opacity="0.9638"/><circle cx="580.70" cy="117.03" r="4.26" fill-opacity="0.9645"/><circle cx="576.78" cy="125.41" r="4.26" fill-opacity="0.9653"/><circle cx="572.87" cy="133.81" r="4.26" fill-opacity="0.9660"/><circle cx="568.94" cy="142.19" r="4.26" fill-opacity="0.9668"/><circle cx="565.02" cy="150.59" r="4.26" fill-opacity="0.9676"/><circle cx="561.10" cy="158.97" r="4.26" fill-opacity="0.9683"/><circle cx="557.18" cy="167.37" r="4.26" fill-opacity="0.9691"/><circle cx="601.70" cy="91.04" r="4.26" fill-opacity="0.9575"/><circle cx="597.78" cy="99.43" r="4.26" fill-opacity="0.9583"/><circle cx="593.86" cy="107.82" r="4.26" fill-opacity="0.9590"/><circle cx="589.94" cy="116.21" r="4.26" fill-opacity="0.9598"/><circle cx="586.02" cy="124.60" r="4.26" fill-opacity="0.9605"/><circle cx="582.10" cy="132.99" r="4.26" fill-opacity="0.9613"/><circle cx="578.18" cy="141.38" r="4.26" fill-opacity="0.9621"/><circle cx="574.26" cy="149.77" r="4.26" fill-opacity="0.9628"/><circle cx="570.34" cy="158.16" r="4.26" fill-opacity="0.9636"/><circle cx="566.42" cy="166.55" r="4.26" fill-opacity="0.9643"/><circle cx="562.50" cy="174.94" r="4.26" fill-opacity="0.9651"/><circle cx="607.01" cy="98.62" r="4.26" fill-opacity="0.9535"/><circle cx="603.10" cy="107.00" r="4.26" fill-opacity="0.9543"/><circle cx="599.18" cy="115.40" r="4.26" fill-opacity="0.9550"/><circle cx="595.25" cy="123.78" r="4.26" fill-opacity="0.9558"/><circle cx="591.34" cy="132.18" r="4.26" fill-opacity="0.9566"/><circle cx="587.42" cy="140.56" r="4.26" fill-opacity="0.9573"/><circle cx="583.50" cy="148.96" r="4.26" fill-opacity="0.9581"/><circle cx="579.58" cy="157.34" r="4.26" fill-opacity="0.9588"/><circle cx="575.65" cy="165.74" r="4.26" fill-opacity="0.9596"/><circle cx="571.74" cy="174.12" r="4.26" fill-opacity="0.9603"/><circle cx="616.25" cy="97.80" r="4.26" fill-opacity="0.9488"/><circle cx="612.33" cy="106.19" r="4.26" fill-opacity="0.9495"/><circle cx="608.41" cy="114.58" r="4.26" fill-opacity="0.9503"/><circle cx="604.49" cy="122.97" r="4.26" fill-opacity="0.9511"/><circle cx="600.57" cy="131.36" r="4.26" fill-opacity="0.9518"/><circle cx="596.65" cy="139.75" r="4.26" fill-opacity="0.9526"/><circle cx="592.73" cy="148.14" r="4.26" fill-opacity="0.9533"/><circle cx="588.81" cy="156.53" r="4.26" fill-opacity="0.9541"/><circle cx="584.89" cy="164.92" r="4.26" fill-opacity="0.9548"/><circle cx="580.97" cy="173.31" r="4.26" fill-opacity="0.9556"/><circle cx="577.05" cy="181.70" r="4.26" fill-opacity="0.9563"/><circle cx="621.56" cy="105.38" r="4.26" fill-opacity="0.9448"/><circle cx="617.64" cy="113.77" r="4.26" fill-opacity="0.9456"/><circle cx="613.73" cy="122.16" r="4.26" fill-opacity="0.9463"/><circle cx="609.80" cy="130.55" r="4.26" fill-opacity="0.9471"/><circle cx="605.88" cy="138.94" r="4.26" fill-opacity="0.9478"/><circle cx="601.97" cy="147.33" r="4.26" fill-opacity="0.9486"/><circle cx="598.04" cy="155.72" r="4.26" fill-opacity="0.9493"/><circle cx="594.12" cy="164.11" r="4.26" fill-opacity="0.9501"/><circle cx="590.20" cy="172.50" r="4.26" fill-opacity="0.9508"/><circle cx="586.28" cy="180.89" r="4.26" fill-opacity="0.9516"/><circle cx="630.80" cy="104.56" r="4.26" fill-opacity="0.9401"/><circle cx="626.88" cy="112.95" r="4.26" fill-opacity="0.9408"/><circle cx="622.96" cy="121.34" r="4.26" fill-opacity="0.9416"/><circle cx="619.04" cy="129.73" r="4.26" fill-opacity="0.9423"/><circle cx="615.12" cy="138.12" r="4.26" fill-opacity="0.9431"/><circle cx="611.20" cy="146.51" r="4.26" fill-opacity="0.9438"/><circle cx="607.28" cy="154.90" r="4.26" fill-opacity="0.9446"/><circle cx="603.36" cy="163.29" r="4.26" fill-opacity="0.9453"/><circle cx="599.44" cy="171.68" r="4.26" fill-opacity="0.9461"/><circle cx="595.52" cy="180.07" r="4.26" fill-opacity="0.9469"/><circle cx="591.60" cy="188.46" r="4.26" fill-opacity="0.9476"/></g>
<path d="M472.6 4V250.25M532.3 4V250.25M591.6 4V250.25M650.9 4V250.25M446 26.1H690.6M446 69.0H690.6M446 111.9H690.6M446 154.9H690.6M446 197.8H690.6M446 240.7H690.6" stroke="#747474" stroke-opacity="0.34" stroke-width="1" stroke-dasharray="1 1" fill="none"/>
<path d="M593.1 194.7 592.6 194.8 592.1 194.9 591.6 194.9 591.1 194.9 590.6 194.8 590.1 194.8 589.8 194.7 589.4 194.6 588.9 194.4 588.6 194.3 588.3 194.2 587.9 194.0 587.6 193.9 587.3 193.7 586.9 193.5 586.6 193.3 586.4 193.2 586.1 192.9 585.7 192.7 585.4 192.5 585.1 192.3 584.9 192.1 584.6 191.9 584.4 191.7 584.0 191.4 583.7 191.2 583.4 191.0 583.1 190.9 582.9 190.7 582.4 190.5 582.1 190.3 581.9 190.2 581.4 190.0 581.1 189.9 580.6 189.7 580.4 189.7 579.9 189.5 579.6 189.4 579.1 189.4 578.6 189.2 578.4 189.2 577.9 189.1 577.4 189.0 577.1 188.9 576.6 188.8 576.3 188.7 575.9 188.6 575.5 188.4 575.1 188.3 574.8 188.2 574.4 188.0 574.1 187.9 573.7 187.7 573.4 187.5 573.1 187.4 572.8 187.2 572.4 186.9 572.1 186.8 571.9 186.6 571.6 186.4 571.4 186.2 571.0 185.9 570.7 185.7 570.4 185.5 570.1 185.3 569.9 185.1 569.6 184.9 569.4 184.7 569.0 184.4 568.6 184.2 568.4 184.1 568.1 183.9 567.8 183.7 567.4 183.5 567.1 183.4 566.6 183.2 566.4 183.1 565.9 183.0 565.6 182.9 565.1 182.8 564.9 182.7 564.4 182.6 563.9 182.5 563.6 182.4 563.1 182.3 562.7 182.2 562.4 182.1 561.9 182.0 561.6 181.9 561.1 181.8 560.9 181.7 560.4 181.5 560.1 181.4 559.6 181.2 559.4 181.1 559.1 180.9 558.7 180.7 558.4 180.6 558.1 180.4 557.8 180.2 557.5 179.9 557.1 179.7 556.9 179.5 556.6 179.4 556.4 179.2 556.1 178.9 555.8 178.7 555.5 178.4 555.1 178.2 554.9 178.0 554.6 177.9 554.4 177.7 554.0 177.4 553.6 177.2 553.4 177.1 553.1 176.9 552.6 176.7 552.4 176.6 552.0 176.4 551.6 176.3 551.2 176.2 550.9 176.1 550.4 176.0 550.1 175.9 549.6 175.8 549.1 175.7 548.9 175.6 548.4 175.5 548.0 175.4 547.6 175.4 547.1 175.2 546.9 175.2 546.4 175.0 546.1 174.9 545.6 174.7 545.4 174.6 545.0 174.4 544.6 174.3 544.4 174.1 544.1 173.9 543.6 173.7 543.4 173.6 543.1 173.4 542.9 173.2 542.5 172.9 542.2 172.7 541.9 172.5 541.6 172.3 541.4 172.1 541.1 171.9 540.9 171.7 540.5 171.4 540.2 171.2 539.9 171.0 539.6 170.8 539.4 170.7 539.0 170.4 538.6 170.3 538.4 170.1 538.0 169.9 537.6 169.8 537.4 169.7 536.9 169.5 536.6 169.4 536.1 169.3 535.6 169.2 535.4 169.1 534.9 169.0 534.5 168.9 534.1 168.9 533.6 168.8 533.4 168.7 532.9 168.6 532.4 168.4 532.1 168.4 531.6 168.2 531.4 168.1 531.0 167.9 530.6 167.8 530.4 167.7 529.9 167.4 529.6 167.3 529.4 167.2 529.0 166.9 528.6 166.7 528.4 166.5 528.1 166.4 527.9 166.2 527.6 165.9 527.3 165.7 526.9 165.4 526.6 165.2 526.4 165.0 526.1 164.9 525.9 164.7 525.6 164.4 525.2 164.2 524.9 164.0 524.6 163.8 524.4 163.7 523.9 163.4 523.6 163.3 523.4 163.2 522.9 163.0 522.6 162.9 522.1 162.8 521.9 162.7 521.4 162.6 521.0 162.4 520.6 162.4 520.1 162.3 519.8 162.2 519.4 162.1 518.9 162.0 518.6 161.9 518.1 161.8 517.8 161.7 517.4 161.6 517.0 161.4 516.6 161.3 516.4 161.2 515.9 161.0 515.6 160.9 515.3 160.7 514.9 160.5 514.6 160.3 514.4 160.2 514.1 159.9 513.7 159.7 513.4 159.5 513.1 159.3 512.9 159.1 512.6 158.9 512.3 158.7 512.0 158.4 511.7 158.2 511.4 158.0 511.1 157.8 510.9 157.6 510.6 157.4 510.3 157.2 509.9 157.0 509.6 156.9 509.4 156.7 508.9 156.5 508.6 156.4 508.2 156.2 507.9 156.1 507.4 155.9 507.1 155.9 506.6 155.7 506.4 155.7 505.9 155.6 505.4 155.4 505.1 155.4 504.6 155.3 504.4 155.2 503.9 155.1 503.6 154.9 503.1 154.8 502.9 154.7 502.4 154.5 502.1 154.4 501.7 154.2 501.4 154.0 501.1 153.9 500.9 153.7 500.6 153.4 500.2 153.2 500.0 152.9 499.7 152.7 499.5 152.4 499.2 152.2 499.0 151.9 498.9 151.7 498.6 151.4 498.4 150.9 498.3 150.7 498.1 150.4 498.0 149.9 497.9 149.7 497.7 149.2 497.6 148.8 497.6 148.4 497.5 147.9 497.5 147.4 497.5 146.9 497.5 146.4 497.6 145.9 497.6 145.4 497.7 145.2 497.8 144.7 497.9 144.2 498.0 143.9 498.1 143.4 498.2 143.2 498.4 142.7 498.4 142.4 498.6 141.9 498.7 141.7 498.9 141.3 499.0 140.9 499.1 140.7 499.3 140.2 499.4 139.9 499.6 139.5 499.8 139.2 499.9 138.9 500.1 138.4 500.2 138.2 500.4 137.8 500.5 137.4 500.7 137.2 500.9 136.7 501.0 136.4 501.1 136.1 501.3 135.7 501.5 135.4 501.6 135.0 501.8 134.7 501.9 134.4 502.1 134.0 502.3 133.7 502.4 133.4 502.6 132.9 502.8 132.7 502.9 132.4 503.1 131.9 503.2 131.7 503.4 131.3 503.6 130.9 503.7 130.7 503.9 130.3 504.0 129.9 504.2 129.7 504.4 129.2 504.5 128.9 504.6 128.6 504.8 128.2 505.0 128.0 505.1 127.5 505.3 127.2 505.4 127.0 505.6 126.5 505.8 126.2 505.9 126.0 506.1 125.5 506.3 125.2 506.4 124.9 506.6 124.5 506.7 124.2 506.9 123.9 507.1 123.5 507.2 123.2 507.4 122.8 507.6 122.5 507.7 122.2 507.9 121.7 508.0 121.5 508.1 121.1 508.4 120.7 508.5 120.5 508.6 120.1 508.8 119.7 508.9 119.5 509.1 119.0 509.3 118.7 509.4 118.5 509.6 118.0 509.8 117.7 509.9 117.4 510.1 117.0 510.2 116.7 510.4 116.4 510.6 116.0 510.7 115.7 510.9 115.3 511.1 115.0 511.2 114.7 511.4 114.2 511.5 114.0 511.6 113.7 511.9 113.2 512.0 113.0 512.1 112.6 512.3 112.2 512.4 112.0 512.6 111.5 512.8 111.2 512.9 111.0 513.1 110.5 513.3 110.2 513.4 109.9 513.6 109.5 513.7 109.2 513.9 108.9 514.1 108.5 514.2 108.2 514.4 107.8 514.6 107.5 514.7 107.2 514.9 106.7 515.0 106.5 515.2 106.2 515.4 105.7 515.5 105.5 515.6 105.1 515.8 104.7 516.0 104.5 516.1 104.0 516.3 103.7 516.4 103.5 516.6 103.0 516.8 102.7 516.9 102.4 517.1 102.0 517.2 101.7 517.4 101.4 517.6 101.0 517.7 100.7 517.9 100.3 518.1 100.0 518.2 99.7 518.4 99.3 518.5 99.0 518.7 98.7 518.9 98.2 519.0 98.0 519.1 97.6 519.4 97.2 519.5 97.0 519.6 96.6 519.8 96.2 519.9 96.0 520.1 95.5 520.3 95.2 520.4 94.9 520.6 94.5 520.7 94.2 520.9 93.9 521.1 93.5 521.2 93.2 521.4 92.8 521.6 92.5 521.7 92.2 521.9 91.8 522.0 91.5 522.2 91.2 522.4 90.7 522.5 90.5 522.6 90.2 522.9 89.7 523.0 89.5 523.1 89.1 523.3 88.7 523.4 88.5 523.6 88.0 523.8 87.7 523.9 87.5 524.1 87.0 524.2 86.7 524.4 86.4 524.6 86.0 524.7 85.7 524.9 85.3 525.1 85.0 525.2 84.7 525.4 84.2 525.5 84.0 525.7 83.7 525.9 83.2 526.0 83.0 526.1 82.7 526.4 82.2 526.5 82.0 526.6 81.6 526.8 81.2 527.0 81.0 527.1 80.5 527.3 80.2 527.4 80.0 527.6 79.5 527.8 79.2 527.9 78.9 528.1 78.5 528.2 78.2 528.4 77.8 528.6 77.5 528.7 77.2 528.9 76.8 529.0 76.5 529.2 76.2 529.4 75.7 529.5 75.5 529.6 75.2 529.9 74.7 530.0 74.5 530.1 74.1 530.3 73.7 530.5 73.5 530.6 73.1 530.8 72.7 530.9 72.5 531.1 72.0 531.3 71.7 531.4 71.4 531.6 71.0 531.7 70.7 531.9 70.3 532.1 70.0 532.2 69.7 532.4 69.3 532.6 69.0 532.7 68.7 532.9 68.2 533.0 68.0 533.2 67.7 533.4 67.2 533.5 67.0 533.6 66.7 533.9 66.2 534.0 66.0 534.1 65.7 534.4 65.2 534.5 65.0 534.7 64.7 534.9 64.3 535.1 64.0 535.2 63.7 535.4 63.3 535.6 63.0 535.8 62.7 535.9 62.5 536.1 62.1 536.4 61.7 536.6 61.5 536.8 61.2 537.0 61.0 537.2 60.7 537.4 60.4 537.6 60.1 537.9 59.9 538.1 59.6 538.4 59.4 538.7 59.2 539.0 59.0 539.3 58.7 539.6 58.5 539.9 58.4 540.2 58.2 540.6 58.0 540.9 57.9 541.4 57.7 541.6 57.6 542.1 57.5 542.6 57.5 542.9 57.4 543.4 57.4 543.9 57.4 544.4 57.4 544.6 57.5 545.1 57.5 545.6 57.7 545.9 57.7 546.4 57.9 546.6 58.0 547.1 58.2 547.4 58.3 547.6 58.5 548.0 58.7 548.4 58.9 548.6 59.1 548.9 59.2 549.2 59.5 549.6 59.7 549.9 60.0 550.1 60.1 550.4 60.3 550.6 60.5 550.9 60.7 551.3 61.0 551.6 61.2 551.9 61.4 552.1 61.5 552.4 61.7 552.9 61.9 553.1 62.1 553.4 62.2 553.9 62.4 554.1 62.5 554.6 62.6 554.9 62.7 555.4 62.9 555.8 63.0 556.1 63.0 556.6 63.1 556.9 63.2 557.4 63.3 557.9 63.4 558.1 63.5 558.6 63.6 559.0 63.7 559.4 63.8 559.7 64.0 560.1 64.1 560.4 64.2 560.9 64.4 561.1 64.5 561.5 64.7 561.9 64.9 562.1 65.1 562.4 65.2 562.8 65.5 563.1 65.7 563.4 65.9 563.6 66.1 563.9 66.3 564.1 66.5 564.5 66.7 564.8 67.0 565.1 67.2 565.4 67.4 565.6 67.6 565.9 67.8 566.1 68.0 566.5 68.2 566.9 68.4 567.1 68.6 567.4 68.7 567.9 68.9 568.1 69.1 568.5 69.2 568.9 69.3 569.2 69.5 569.6 69.6 570.1 69.7 570.4 69.8 570.9 69.9 571.3 70.0 571.6 70.0 572.1 70.1 572.4 70.2 572.9 70.3 573.4 70.5 573.6 70.5 574.1 70.7 574.4 70.8 574.8 71.0 575.1 71.1 575.4 71.2 575.9 71.4 576.1 71.6 576.4 71.7 576.8 72.0 577.1 72.1 577.4 72.3 577.6 72.5 578.0 72.7 578.3 73.0 578.6 73.2 578.9 73.4 579.1 73.6 579.4 73.8 579.6 74.0 579.9 74.2 580.3 74.5 580.6 74.7 580.9 74.9 581.1 75.0 581.4 75.2 581.9 75.5 582.1 75.6 582.4 75.7 582.9 75.9 583.1 76.0 583.6 76.2 583.9 76.3 584.4 76.4 584.6 76.5 585.1 76.6 585.6 76.7 585.9 76.8 586.4 76.9 586.7 77.0 587.1 77.0 587.6 77.2 587.9 77.2 588.4 77.4 588.6 77.5 589.1 77.7 589.4 77.7 589.9 78.0 590.1 78.1 590.4 78.2 590.9 78.5 591.1 78.6 591.4 78.8 591.7 79.0 592.1 79.2 592.4 79.4 592.6 79.6 592.9 79.8 593.1 80.0 593.4 80.2 593.8 80.5 594.1 80.7 594.4 80.9 594.6 81.1 594.9 81.3 595.1 81.5 595.5 81.7 595.9 82.0 596.1 82.1 596.4 82.2 596.8 82.5 597.1 82.6 597.4 82.7 597.9 82.9 598.1 83.0 598.6 83.1 598.9 83.2 599.4 83.3 599.9 83.4 600.1 83.5 600.6 83.6 601.1 83.7 601.4 83.8 601.9 83.9 602.1 84.0 602.6 84.1 603.0 84.2 603.4 84.3 603.7 84.5 604.1 84.6 604.4 84.7 604.9 85.0 605.1 85.1 605.4 85.2 605.8 85.5 606.1 85.7 606.4 85.8 606.6 86.0 606.9 86.2 607.3 86.5 607.6 86.7 607.9 86.9 608.1 87.1 608.4 87.3 608.6 87.5 608.9 87.7 609.2 88.0 609.6 88.2 609.9 88.4 610.1 88.6 610.4 88.7 610.8 89.0 611.1 89.1 611.4 89.3 611.8 89.5 612.1 89.6 612.5 89.7 612.9 89.8 613.3 90.0 613.6 90.0 614.1 90.2 614.4 90.2 614.9 90.3 615.4 90.4 615.6 90.5 616.1 90.6 616.5 90.7 616.9 90.8 617.4 91.0 617.6 91.0 618.1 91.2 618.4 91.3 618.8 91.5 619.1 91.6 619.4 91.7 619.8 92.0 620.1 92.1 620.4 92.3 620.7 92.5 621.0 92.7 621.4 93.0 621.6 93.1 621.9 93.3 622.1 93.5 622.4 93.7 622.7 94.0 623.1 94.2 623.4 94.5 623.6 94.7 623.9 94.8 624.1 95.0 624.4 95.2 624.8 95.5 625.1 95.7 625.4 95.8 625.7 96.0 626.1 96.2 626.4 96.3 626.8 96.5 627.1 96.6 627.6 96.7 627.9 96.8 628.4 96.9 628.6 97.0 629.1 97.1 629.5 97.2 629.9 97.3 630.4 97.4 630.6 97.5 631.1 97.6 631.4 97.7 631.9 97.9 632.1 98.0 632.6 98.2 632.9 98.3 633.2 98.5 633.6 98.7 633.9 98.8 634.1 99.0 634.4 99.2 634.7 99.5 635.0 99.7 635.3 100.0 635.5 100.2 635.7 100.5 635.9 100.7 636.1 101.1 636.4 101.5 636.5 101.7 636.7 102.0 636.9 102.5 637.0 102.7 637.1 103.2 637.2 103.5 637.3 104.0 637.3 104.5 637.4 105.0 637.4 105.5 637.4 106.0 637.3 106.5 637.3 107.0 637.2 107.5 637.1 107.7 637.0 108.2 636.9 108.5 636.8 109.0 636.6 109.4 636.5 109.7 636.4 110.1 636.3 110.5 636.1 110.7 636.0 111.2 635.9 111.5 635.7 112.0 635.6 112.2 635.4 112.6 635.2 113.0 635.1 113.2 634.9 113.7 634.8 114.0 634.6 114.3 634.5 114.7 634.4 115.0 634.1 115.4 634.0 115.7 633.9 116.0 633.7 116.5 633.6 116.7 633.4 117.0 633.2 117.5 633.1 117.7 632.9 118.1 632.7 118.5 632.6 118.7 632.4 119.2 632.3 119.5 632.1 119.7 631.9 120.2 631.8 120.5 631.6 120.7 631.4 121.2 631.3 121.5 631.1 121.8 631.0 122.2 630.9 122.5 630.6 122.9 630.5 123.2 630.4 123.5 630.2 124.0 630.1 124.2 629.9 124.6 629.7 125.0 629.6 125.2 629.4 125.6 629.2 126.0 629.1 126.2 628.9 126.7 628.8 127.0 628.6 127.2 628.4 127.7 628.3 128.0 628.1 128.2 627.9 128.7 627.8 128.9 627.6 129.3 627.5 129.7 627.4 129.9 627.1 130.4 627.0 130.7 626.9 131.0 626.7 131.4 626.6 131.7 626.4 132.0 626.2 132.4 626.1 132.7 625.9 133.1 625.7 133.4 625.6 133.7 625.4 134.2 625.3 134.4 625.1 134.7 624.9 135.2 624.8 135.4 624.6 135.8 624.4 136.2 624.3 136.4 624.1 136.8 624.0 137.2 623.9 137.4 623.6 137.9 623.5 138.2 623.4 138.4 623.2 138.9 623.0 139.2 622.9 139.5 622.7 139.9 622.6 140.2 622.4 140.6 622.2 140.9 622.1 141.2 621.9 141.7 621.8 141.9 621.6 142.2 621.4 142.7 621.3 142.9 621.1 143.3 620.9 143.7 620.8 143.9 620.6 144.3 620.5 144.7 620.4 144.9 620.1 145.4 620.0 145.7 619.9 145.9 619.7 146.4 619.5 146.7 619.4 147.0 619.2 147.4 619.1 147.7 618.9 148.1 618.7 148.4 618.6 148.7 618.4 149.2 618.3 149.4 618.1 149.7 617.9 150.2 617.8 150.4 617.6 150.8 617.5 151.2 617.3 151.4 617.1 151.8 617.0 152.2 616.9 152.4 616.6 152.9 616.5 153.2 616.4 153.4 616.1 153.9 616.0 154.2 615.9 154.5 615.7 154.9 615.6 155.2 615.4 155.6 615.2 155.9 615.1 156.2 614.9 156.7 614.8 156.9 614.6 157.2 614.4 157.7 614.3 157.9 614.1 158.3 614.0 158.7 613.8 158.9 613.6 159.3 613.5 159.7 613.4 159.9 613.1 160.4 613.0 160.7 612.9 160.9 612.7 161.4 612.5 161.7 612.4 162.0 612.2 162.4 612.1 162.7 611.9 163.1 611.7 163.4 611.6 163.7 611.4 164.1 611.3 164.4 611.1 164.7 610.9 165.2 610.8 165.4 610.6 165.8 610.5 166.2 610.3 166.4 610.1 166.9 610.0 167.2 609.9 167.4 609.6 167.9 609.5 168.2 609.4 168.4 609.2 168.9 609.0 169.2 608.9 169.5 608.7 169.9 608.6 170.2 608.4 170.5 608.2 170.9 608.1 171.2 607.9 171.6 607.8 171.9 607.6 172.2 607.4 172.7 607.3 172.9 607.1 173.3 607.0 173.7 606.8 173.9 606.6 174.4 606.5 174.7 606.4 174.9 606.1 175.4 606.0 175.7 605.9 176.0 605.7 176.4 605.5 176.7 605.4 177.0 605.2 177.4 605.1 177.7 604.9 178.1 604.7 178.4 604.6 178.7 604.4 179.1 604.2 179.4 604.1 179.7 603.9 180.2 603.8 180.4 603.6 180.7 603.4 181.2 603.3 181.4 603.1 181.8 603.0 182.2 602.9 182.4 602.6 182.9 602.5 183.2 602.4 183.4 602.2 183.9 602.0 184.2 601.9 184.5 601.7 184.9 601.5 185.2 601.4 185.5 601.2 185.9 601.1 186.2 600.9 186.5 600.7 186.9 600.5 187.2 600.4 187.5 600.2 187.9 600.0 188.2 599.9 188.4 599.6 188.9 599.5 189.2 599.3 189.4 599.1 189.7 598.9 190.1 598.7 190.4 598.5 190.7 598.3 190.9 598.1 191.2 597.9 191.5 597.6 191.8 597.4 192.1 597.1 192.4 596.9 192.6 596.6 192.9 596.4 193.1 596.1 193.3 595.9 193.5 595.5 193.7 595.1 193.9 594.9 194.1 594.6 194.2 594.1 194.4 593.9 194.5 593.4 194.6 593.1 194.7M590.9 184.2 590.4 184.2 590.1 184.2 589.6 184.1 589.1 184.0 588.9 183.9 588.4 183.7 588.1 183.6 587.8 183.4 587.4 183.3 587.1 183.1 586.7 182.9 586.4 182.8 586.1 182.7 585.6 182.5 585.4 182.4 584.9 182.2 584.6 182.1 584.2 181.9 583.9 181.9 583.4 181.7 583.1 181.7 582.6 181.5 582.3 181.4 581.9 181.4 581.4 181.3 581.1 181.2 580.6 181.1 580.1 181.0 579.9 180.9 579.4 180.8 579.0 180.7 578.6 180.6 578.3 180.4 577.9 180.3 577.6 180.2 577.2 179.9 576.9 179.8 576.6 179.6 576.3 179.4 576.0 179.2 575.6 179.0 575.4 178.8 575.1 178.6 574.9 178.4 574.6 178.2 574.3 177.9 573.9 177.7 573.6 177.5 573.4 177.3 573.1 177.1 572.9 176.9 572.5 176.7 572.1 176.5 571.9 176.4 571.6 176.2 571.1 176.0 570.9 175.9 570.5 175.7 570.1 175.6 569.9 175.4 569.4 175.3 569.1 175.2 568.6 175.1 568.2 174.9 567.9 174.9 567.4 174.8 567.1 174.7 566.6 174.6 566.1 174.5 565.9 174.4 565.4 174.3 564.9 174.2 564.6 174.1 564.1 174.0 563.9 173.9 563.4 173.7 563.1 173.6 562.8 173.4 562.4 173.2 562.1 173.1 561.9 172.9 561.6 172.7 561.2 172.4 560.9 172.2 560.6 172.1 560.4 171.9 560.1 171.7 559.9 171.4 559.5 171.2 559.2 170.9 558.9 170.7 558.6 170.6 558.4 170.4 558.1 170.2 557.7 169.9 557.4 169.8 557.1 169.7 556.8 169.4 556.4 169.3 556.1 169.2 555.6 169.0 555.4 168.9 554.9 168.7 554.6 168.6 554.1 168.5 553.9 168.4 553.4 168.3 553.1 168.2 552.6 168.1 552.1 168.0 551.9 167.9 551.4 167.8 550.9 167.7 550.6 167.7 550.1 167.5 549.9 167.4 549.4 167.3 549.1 167.2 548.6 167.0 548.4 166.9 548.0 166.7 547.6 166.5 547.4 166.4 547.1 166.2 546.8 165.9 546.4 165.7 546.1 165.5 545.9 165.3 545.6 165.1 545.4 164.9 545.1 164.7 544.8 164.4 544.4 164.2 544.1 164.0 543.9 163.8 543.6 163.7 543.3 163.4 542.9 163.2 542.6 163.1 542.4 162.9 541.9 162.7 541.6 162.6 541.4 162.4 540.9 162.3 540.6 162.2 540.1 162.0 539.9 161.9 539.4 161.8 539.1 161.7 538.6 161.6 538.1 161.5 537.9 161.4 537.4 161.3 536.9 161.2 536.6 161.2 536.1 161.0 535.8 160.9 535.4 160.9 534.9 160.7 534.6 160.6 534.2 160.4 533.9 160.3 533.6 160.2 533.2 159.9 532.9 159.8 532.6 159.6 532.4 159.4 532.0 159.2 531.7 158.9 531.4 158.7 531.1 158.5 530.9 158.4 530.6 158.2 530.4 157.9 530.0 157.7 529.7 157.4 529.4 157.3 529.1 157.1 528.9 156.9 528.5 156.7 528.1 156.5 527.9 156.3 527.6 156.2 527.1 156.0 526.9 155.9 526.5 155.7 526.1 155.6 525.9 155.4 525.4 155.3 525.1 155.2 524.6 155.1 524.1 155.0 523.9 154.9 523.4 154.8 523.0 154.7 522.6 154.6 522.1 154.5 521.8 154.4 521.4 154.4 520.9 154.2 520.6 154.2 520.1 154.0 519.9 153.9 519.4 153.7 519.1 153.6 518.9 153.4 518.4 153.2 518.1 153.0 517.9 152.9 517.6 152.7 517.3 152.4 516.9 152.2 516.6 152.0 516.4 151.8 516.1 151.6 515.9 151.4 515.6 151.2 515.3 150.9 515.0 150.7 514.6 150.5 514.4 150.3 514.1 150.2 513.8 149.9 513.4 149.7 513.1 149.6 512.9 149.4 512.5 149.2 512.1 149.0 511.9 148.9 511.4 148.7 511.1 148.6 510.8 148.4 510.4 148.3 510.1 148.2 509.6 148.0 509.4 147.9 509.1 147.7 508.6 147.5 508.4 147.4 508.1 147.2 507.8 146.9 507.5 146.7 507.3 146.4 507.1 146.2 506.9 145.8 506.7 145.4 506.6 145.0 506.6 144.7 506.6 144.2 506.6 143.7 506.7 143.4 506.7 142.9 506.8 142.4 506.9 142.2 507.0 141.7 507.1 141.4 507.3 140.9 507.4 140.6 507.6 140.2 507.7 139.9 507.9 139.4 508.0 139.2 508.1 138.8 508.3 138.4 508.4 138.2 508.6 137.7 508.8 137.4 508.9 137.2 509.1 136.7 509.2 136.4 509.4 136.1 509.6 135.7 509.7 135.4 509.9 135.1 510.1 134.7 510.2 134.4 510.4 134.0 510.5 133.7 510.6 133.4 510.9 132.9 511.0 132.7 511.1 132.3 511.3 131.9 511.4 131.7 511.6 131.2 511.8 130.9 511.9 130.7 512.1 130.2 512.2 129.9 512.4 129.6 512.6 129.2 512.7 128.9 512.9 128.6 513.1 128.2 513.2 128.0 513.4 127.6 513.6 127.2 513.7 127.0 513.9 126.5 514.0 126.2 514.2 126.0 514.4 125.5 514.5 125.2 514.6 124.9 514.8 124.5 514.9 124.2 515.1 123.7 515.3 123.5 515.4 123.2 515.6 122.7 515.7 122.5 515.9 122.1 516.1 121.7 516.2 121.5 516.4 121.1 516.6 120.7 516.7 120.5 516.9 120.1 517.1 119.7 517.2 119.5 517.4 119.0 517.6 118.7 517.7 118.5 517.9 118.0 518.0 117.7 518.1 117.4 518.4 117.0 518.5 116.7 518.6 116.3 518.8 116.0 518.9 115.7 519.1 115.2 519.3 115.0 519.4 114.7 519.6 114.2 519.7 114.0 519.9 113.6 520.1 113.2 520.2 113.0 520.4 112.6 520.6 112.2 520.7 112.0 520.9 111.5 521.1 111.2 521.2 111.0 521.4 110.5 521.5 110.2 521.7 110.0 521.9 109.5 522.0 109.2 522.1 108.9 522.3 108.5 522.5 108.2 522.6 107.8 522.8 107.5 522.9 107.2 523.1 106.7 523.2 106.5 523.4 106.1 523.6 105.7 523.7 105.5 523.9 105.1 524.1 104.7 524.2 104.5 524.4 104.0 524.6 103.7 524.7 103.5 524.9 103.0 525.0 102.7 525.2 102.5 525.4 102.0 525.5 101.7 525.6 101.4 525.9 101.0 526.0 100.7 526.1 100.3 526.3 100.0 526.4 99.7 526.6 99.2 526.8 99.0 526.9 98.7 527.1 98.2 527.2 98.0 527.4 97.6 527.6 97.2 527.7 97.0 527.9 96.5 528.1 96.2 528.2 96.0 528.4 95.5 528.5 95.2 528.7 95.0 528.9 94.5 529.0 94.2 529.2 94.0 529.4 93.5 529.5 93.2 529.6 92.9 529.9 92.5 530.0 92.2 530.1 91.8 530.3 91.5 530.4 91.2 530.6 90.7 530.8 90.5 530.9 90.1 531.1 89.7 531.2 89.5 531.4 89.0 531.6 88.7 531.7 88.5 531.9 88.0 532.0 87.7 532.2 87.5 532.4 87.0 532.5 86.7 532.7 86.5 532.9 86.0 533.0 85.7 533.1 85.4 533.4 85.0 533.5 84.7 533.6 84.4 533.8 84.0 533.9 83.7 534.1 83.3 534.3 83.0 534.4 82.7 534.6 82.2 534.7 82.0 534.9 81.6 535.1 81.2 535.2 81.0 535.4 80.5 535.5 80.2 535.7 80.0 535.9 79.5 536.0 79.2 536.1 78.9 536.4 78.5 536.5 78.2 536.6 77.9 536.9 77.5 537.0 77.2 537.1 76.9 537.4 76.5 537.5 76.2 537.6 75.8 537.8 75.5 537.9 75.2 538.1 74.7 538.3 74.5 538.4 74.2 538.6 73.7 538.8 73.5 538.9 73.1 539.1 72.7 539.2 72.5 539.4 72.1 539.6 71.7 539.8 71.5 539.9 71.2 540.1 70.8 540.4 70.5 540.5 70.2 540.7 70.0 540.9 69.7 541.1 69.3 541.4 69.0 541.6 68.7 541.9 68.5 542.1 68.3 542.4 68.0 542.6 67.9 542.9 67.7 543.4 67.5 543.6 67.4 544.1 67.3 544.6 67.3 545.1 67.4 545.4 67.5 545.9 67.7 546.1 67.8 546.6 68.0 546.9 68.1 547.1 68.2 547.6 68.5 547.9 68.6 548.1 68.7 548.6 69.0 548.9 69.1 549.1 69.2 549.6 69.5 549.9 69.6 550.2 69.7 550.6 69.9 550.9 70.0 551.4 70.1 551.7 70.2 552.1 70.3 552.6 70.5 552.9 70.5 553.4 70.7 553.6 70.7 554.1 70.8 554.6 70.9 554.9 71.0 555.4 71.1 555.8 71.2 556.1 71.3 556.6 71.5 556.9 71.6 557.2 71.7 557.6 71.9 557.9 72.0 558.2 72.2 558.6 72.5 558.9 72.6 559.1 72.8 559.4 73.0 559.7 73.2 560.0 73.5 560.4 73.7 560.6 73.9 560.9 74.1 561.1 74.3 561.4 74.5 561.7 74.7 562.0 75.0 562.4 75.2 562.6 75.4 562.9 75.6 563.1 75.7 563.6 76.0 563.9 76.1 564.1 76.2 564.6 76.5 564.9 76.6 565.2 76.7 565.6 76.9 565.9 77.0 566.4 77.1 566.6 77.2 567.1 77.3 567.6 77.5 567.9 77.5 568.4 77.6 568.7 77.7 569.1 77.8 569.6 77.9 569.9 78.0 570.4 78.1 570.7 78.2 571.1 78.4 571.4 78.5 571.9 78.7 572.1 78.8 572.5 79.0 572.9 79.2 573.1 79.3 573.4 79.5 573.7 79.7 574.0 80.0 574.4 80.2 574.6 80.4 574.9 80.6 575.1 80.8 575.4 81.0 575.7 81.2 576.0 81.5 576.3 81.7 576.6 81.9 576.9 82.1 577.1 82.3 577.4 82.5 577.9 82.7 578.1 82.9 578.4 83.0 578.8 83.2 579.1 83.4 579.4 83.5 579.9 83.7 580.1 83.8 580.6 83.9 580.9 84.0 581.4 84.1 581.6 84.2 582.1 84.3 582.6 84.5 582.9 84.5 583.4 84.6 583.7 84.7 584.1 84.8 584.6 84.9 584.9 85.0 585.4 85.2 585.6 85.2 586.1 85.4 586.4 85.5 586.7 85.7 587.1 85.9 587.4 86.1 587.6 86.2 588.0 86.5 588.4 86.7 588.6 86.9 588.9 87.1 589.1 87.3 589.4 87.5 589.7 87.7 590.0 88.0 590.3 88.2 590.6 88.5 590.9 88.6 591.1 88.8 591.4 89.0 591.7 89.2 592.1 89.5 592.4 89.6 592.6 89.7 593.0 90.0 593.4 90.1 593.6 90.2 594.1 90.4 594.4 90.5 594.8 90.7 595.1 90.8 595.6 91.0 595.9 91.0 596.4 91.2 596.6 91.2 597.1 91.3 597.6 91.5 597.9 91.5 598.4 91.6 598.7 91.7 599.1 91.8 599.6 92.0 599.9 92.0 600.3 92.2 600.6 92.3 600.9 92.5 601.4 92.7 601.6 92.8 601.9 93.0 602.3 93.2 602.6 93.5 602.9 93.6 603.1 93.8 603.4 94.0 603.7 94.2 604.0 94.5 604.3 94.7 604.6 95.0 604.9 95.2 605.1 95.4 605.4 95.5 605.6 95.7 606.0 96.0 606.4 96.2 606.6 96.3 606.9 96.5 607.3 96.7 607.6 96.9 607.9 97.0 608.3 97.2 608.6 97.3 609.0 97.5 609.4 97.6 609.7 97.7 610.1 97.9 610.5 98.0 610.9 98.1 611.4 98.2 611.6 98.2 612.1 98.4 612.6 98.5 612.9 98.5 613.4 98.6 613.6 98.7 614.1 98.9 614.4 99.0 614.9 99.1 615.1 99.2 615.6 99.5 615.9 99.6 616.1 99.7 616.5 100.0 616.9 100.2 617.1 100.4 617.4 100.5 617.6 100.7 618.0 101.0 618.3 101.2 618.6 101.5 618.9 101.7 619.1 101.9 619.4 102.1 619.6 102.3 619.9 102.5 620.3 102.7 620.6 103.0 620.9 103.1 621.1 103.3 621.4 103.5 621.9 103.7 622.1 103.9 622.4 104.0 622.8 104.2 623.1 104.4 623.4 104.5 623.8 104.7 624.1 104.9 624.4 105.0 624.8 105.2 625.1 105.4 625.4 105.5 625.7 105.7 626.1 106.0 626.4 106.2 626.6 106.5 626.8 106.7 627.0 107.0 627.1 107.3 627.3 107.7 627.4 108.2 627.4 108.5 627.4 109.0 627.4 109.3 627.4 109.7 627.3 110.2 627.1 110.7 627.1 111.0 626.9 111.5 626.8 111.7 626.7 112.2 626.6 112.5 626.4 112.9 626.3 113.2 626.1 113.5 625.9 114.0 625.8 114.2 625.6 114.6 625.5 115.0 625.4 115.2 625.1 115.6 625.0 116.0 624.9 116.2 624.7 116.7 624.5 117.0 624.4 117.2 624.2 117.7 624.1 118.0 623.9 118.4 623.7 118.7 623.6 119.0 623.4 119.5 623.3 119.7 623.1 120.0 623.0 120.5 622.9 120.7 622.6 121.1 622.5 121.5 622.4 121.7 622.2 122.2 622.0 122.5 621.9 122.7 621.7 123.2 621.5 123.5 621.4 123.7 621.2 124.2 621.1 124.5 620.9 124.8 620.7 125.2 620.6 125.5 620.4 125.9 620.2 126.2 620.1 126.5 619.9 127.0 619.8 127.2 619.6 127.5 619.5 128.0 619.4 128.2 619.1 128.6 619.0 128.9 618.9 129.2 618.7 129.7 618.5 129.9 618.4 130.3 618.2 130.7 618.1 130.9 617.9 131.3 617.7 131.7 617.6 131.9 617.4 132.3 617.2 132.7 617.1 132.9 616.9 133.4 616.7 133.7 616.6 133.9 616.4 134.4 616.3 134.7 616.1 135.0 615.9 135.4 615.8 135.7 615.6 136.1 615.5 136.4 615.4 136.7 615.2 137.2 615.1 137.4 614.9 137.8 614.7 138.2 614.6 138.4 614.4 138.9 614.2 139.2 614.1 139.4 613.9 139.9 613.7 140.2 613.6 140.4 613.4 140.9 613.3 141.2 613.1 141.4 612.9 141.9 612.8 142.2 612.6 142.5 612.4 142.9 612.3 143.2 612.1 143.6 612.0 143.9 611.9 144.2 611.7 144.7 611.5 144.9 611.4 145.3 611.2 145.7 611.1 145.9 610.9 146.4 610.7 146.7 610.6 146.9 610.4 147.4 610.3 147.7 610.1 148.0 609.9 148.4 609.8 148.7 609.6 149.0 609.4 149.4 609.3 149.7 609.1 150.0 608.9 150.4 608.8 150.7 608.6 151.1 608.5 151.4 608.4 151.7 608.2 152.2 608.0 152.4 607.9 152.8 607.7 153.2 607.6 153.4 607.4 153.9 607.3 154.2 607.1 154.4 606.9 154.9 606.8 155.2 606.6 155.5 606.4 155.9 606.3 156.2 606.1 156.5 605.9 156.9 605.8 157.2 605.6 157.6 605.5 157.9 605.3 158.2 605.1 158.6 605.0 158.9 604.9 159.2 604.6 159.7 604.5 159.9 604.4 160.2 604.2 160.7 604.1 160.9 603.9 161.4 603.7 161.7 603.6 161.9 603.4 162.4 603.3 162.7 603.1 163.0 603.0 163.4 602.8 163.7 602.6 164.1 602.5 164.4 602.4 164.7 602.1 165.1 602.0 165.4 601.9 165.7 601.6 166.1 601.5 166.4 601.4 166.7 601.1 167.2 601.0 167.4 600.9 167.7 600.7 168.2 600.6 168.4 600.4 168.8 600.2 169.2 600.1 169.4 599.9 169.9 599.8 170.2 599.6 170.5 599.5 170.9 599.3 171.2 599.1 171.6 599.0 171.9 598.9 172.2 598.6 172.7 598.5 172.9 598.4 173.2 598.1 173.7 598.0 173.9 597.9 174.2 597.7 174.7 597.5 174.9 597.4 175.2 597.2 175.7 597.1 175.9 596.9 176.3 596.7 176.7 596.6 176.9 596.4 177.4 596.3 177.7 596.1 177.9 595.9 178.4 595.8 178.7 595.6 179.0 595.4 179.4 595.3 179.7 595.1 180.0 594.9 180.4 594.7 180.7 594.6 180.9 594.4 181.3 594.1 181.6 593.9 181.9 593.8 182.2 593.6 182.4 593.3 182.7 593.1 182.9 592.9 183.2 592.6 183.4 592.2 183.7 591.9 183.9 591.6 184.0 591.1 184.2 590.9 184.2M589.6 181.0 589.4 180.9 588.9 180.9 588.4 180.8 588.0 180.7 587.6 180.6 587.2 180.4 586.9 180.4 586.4 180.2 586.1 180.1 585.7 179.9 585.4 179.9 584.9 179.7 584.6 179.6 584.1 179.5 583.9 179.4 583.4 179.3 583.0 179.2 582.6 179.1 582.1 179.0 581.8 178.9 581.4 178.8 580.9 178.7 580.6 178.7 580.1 178.5 579.9 178.4 579.4 178.3 579.1 178.2 578.6 178.0 578.4 177.9 578.1 177.7 577.6 177.5 577.4 177.3 577.1 177.1 576.9 176.9 576.5 176.7 576.1 176.5 575.9 176.3 575.6 176.1 575.4 175.9 575.1 175.7 574.7 175.4 574.4 175.3 574.1 175.1 573.9 174.9 573.5 174.7 573.1 174.5 572.9 174.4 572.5 174.2 572.1 174.0 571.9 173.9 571.4 173.7 571.1 173.6 570.8 173.4 570.4 173.3 570.1 173.2 569.6 173.1 569.3 172.9 568.9 172.8 568.4 172.7 568.1 172.7 567.6 172.5 567.2 172.4 566.9 172.4 566.4 172.3 566.1 172.2 565.6 172.1 565.3 171.9 564.9 171.8 564.6 171.7 564.1 171.5 563.9 171.4 563.5 171.2 563.1 171.0 562.9 170.9 562.6 170.7 562.2 170.4 561.9 170.2 561.6 170.0 561.4 169.9 561.1 169.7 560.8 169.4 560.5 169.2 560.1 169.0 559.9 168.8 559.6 168.7 559.3 168.4 558.9 168.2 558.6 168.1 558.4 167.9 558.0 167.7 557.6 167.5 557.4 167.4 556.9 167.2 556.6 167.1 556.3 166.9 555.9 166.8 555.6 166.7 555.1 166.6 554.8 166.4 554.4 166.3 553.9 166.2 553.6 166.2 553.1 166.0 552.8 165.9 552.4 165.9 551.9 165.8 551.6 165.7 551.1 165.6 550.7 165.4 550.4 165.3 550.0 165.2 549.6 165.1 549.4 164.9 548.9 164.7 548.6 164.6 548.4 164.4 548.0 164.2 547.6 164.0 547.4 163.8 547.1 163.6 546.9 163.4 546.6 163.2 546.2 162.9 545.9 162.7 545.6 162.5 545.4 162.4 545.1 162.2 544.7 161.9 544.4 161.7 544.1 161.6 543.9 161.4 543.4 161.2 543.1 161.1 542.9 160.9 542.4 160.7 542.1 160.6 541.8 160.4 541.4 160.3 541.1 160.2 540.6 160.0 540.3 159.9 539.9 159.8 539.4 159.7 539.1 159.6 538.6 159.5 538.4 159.4 537.9 159.3 537.4 159.2 537.1 159.2 536.6 159.1 536.3 158.9 535.9 158.8 535.5 158.7 535.1 158.6 534.9 158.4 534.4 158.2 534.1 158.1 533.9 157.9 533.5 157.7 533.1 157.5 532.9 157.3 532.6 157.2 532.4 156.9 532.0 156.7 531.7 156.4 531.4 156.3 531.1 156.1 530.9 155.9 530.6 155.7 530.2 155.4 529.9 155.3 529.6 155.1 529.4 154.9 528.9 154.7 528.6 154.6 528.4 154.4 527.9 154.2 527.6 154.1 527.3 153.9 526.9 153.8 526.6 153.7 526.1 153.5 525.9 153.4 525.4 153.3 525.0 153.2 524.6 153.1 524.1 153.0 523.9 152.9 523.4 152.8 522.9 152.7 522.6 152.6 522.1 152.5 521.9 152.4 521.4 152.3 521.0 152.2 520.6 152.1 520.4 151.9 519.9 151.7 519.6 151.6 519.4 151.4 518.9 151.2 518.6 151.0 518.4 150.8 518.1 150.7 517.8 150.4 517.5 150.2 517.1 150.0 516.9 149.8 516.6 149.6 516.4 149.4 516.1 149.2 515.7 148.9 515.4 148.7 515.1 148.6 514.9 148.4 514.6 148.2 514.1 148.0 513.9 147.8 513.6 147.7 513.2 147.4 512.9 147.3 512.6 147.2 512.3 146.9 511.9 146.8 511.6 146.6 511.3 146.4 510.9 146.2 510.6 146.0 510.4 145.8 510.1 145.7 509.9 145.4 509.6 145.2 509.4 144.8 509.2 144.4 509.1 144.2 509.0 143.7 509.0 143.2 509.0 142.7 509.0 142.2 509.1 141.7 509.2 141.4 509.3 140.9 509.4 140.7 509.6 140.2 509.7 139.9 509.9 139.4 510.0 139.2 510.1 138.8 510.3 138.4 510.4 138.2 510.6 137.7 510.8 137.4 510.9 137.1 511.1 136.7 511.2 136.4 511.4 136.1 511.6 135.7 511.7 135.4 511.9 135.0 512.0 134.7 512.1 134.4 512.4 133.9 512.5 133.7 512.6 133.3 512.8 132.9 512.9 132.7 513.1 132.2 513.3 131.9 513.4 131.6 513.6 131.2 513.7 130.9 513.9 130.6 514.1 130.2 514.2 129.9 514.4 129.6 514.6 129.2 514.7 128.9 514.9 128.6 515.1 128.2 515.2 128.0 515.4 127.5 515.5 127.2 515.7 127.0 515.9 126.5 516.0 126.2 516.1 125.9 516.3 125.5 516.5 125.2 516.6 124.8 516.8 124.5 516.9 124.2 517.1 123.7 517.2 123.5 517.4 123.1 517.6 122.7 517.7 122.5 517.9 122.1 518.1 121.7 518.2 121.5 518.4 121.1 518.6 120.7 518.7 120.5 518.9 120.0 519.1 119.7 519.2 119.5 519.4 119.0 519.5 118.7 519.7 118.5 519.9 118.0 520.0 117.7 520.1 117.3 520.3 117.0 520.4 116.7 520.6 116.2 520.8 116.0 520.9 115.7 521.1 115.2 521.2 115.0 521.4 114.6 521.6 114.2 521.7 114.0 521.9 113.6 522.1 113.2 522.2 113.0 522.4 112.5 522.6 112.2 522.7 112.0 522.9 111.5 523.1 111.2 523.2 111.0 523.4 110.5 523.5 110.2 523.6 109.9 523.9 109.5 524.0 109.2 524.1 108.8 524.3 108.5 524.4 108.2 524.6 107.7 524.8 107.5 524.9 107.1 525.1 106.7 525.2 106.5 525.4 106.1 525.6 105.7 525.7 105.5 525.9 105.0 526.1 104.7 526.2 104.5 526.4 104.0 526.6 103.7 526.7 103.5 526.9 103.0 527.0 102.7 527.2 102.5 527.4 102.0 527.5 101.7 527.6 101.4 527.9 101.0 528.0 100.7 528.1 100.3 528.3 100.0 528.4 99.7 528.6 99.2 528.8 99.0 528.9 98.6 529.1 98.2 529.2 98.0 529.4 97.6 529.6 97.2 529.7 97.0 529.9 96.5 530.1 96.2 530.2 96.0 530.4 95.5 530.6 95.2 530.7 95.0 530.9 94.5 531.0 94.2 531.2 94.0 531.4 93.5 531.5 93.2 531.6 92.9 531.8 92.5 532.0 92.2 532.1 91.8 532.3 91.5 532.4 91.2 532.6 90.7 532.7 90.5 532.9 90.1 533.1 89.7 533.2 89.5 533.4 89.0 533.6 88.7 533.7 88.5 533.9 88.0 534.1 87.7 534.2 87.5 534.4 87.0 534.5 86.7 534.7 86.5 534.9 86.0 535.0 85.7 535.1 85.4 535.4 85.0 535.5 84.7 535.6 84.3 535.8 84.0 535.9 83.7 536.1 83.2 536.3 83.0 536.4 82.7 536.6 82.2 536.7 82.0 536.9 81.6 537.1 81.2 537.2 81.0 537.4 80.5 537.6 80.2 537.7 80.0 537.9 79.5 538.1 79.2 538.2 79.0 538.4 78.5 538.5 78.2 538.7 78.0 538.9 77.5 539.0 77.2 539.1 76.9 539.4 76.5 539.5 76.2 539.6 75.9 539.9 75.5 540.0 75.2 540.1 74.8 540.3 74.5 540.5 74.2 540.6 73.8 540.9 73.5 541.0 73.2 541.1 72.9 541.4 72.5 541.6 72.2 541.8 72.0 542.0 71.7 542.2 71.5 542.5 71.2 542.7 71.0 543.0 70.7 543.4 70.5 543.6 70.3 543.9 70.2 544.4 70.1 544.9 70.0 545.4 70.1 545.9 70.2 546.1 70.2 546.6 70.4 546.9 70.5 547.4 70.7 547.6 70.8 548.1 71.0 548.4 71.1 548.7 71.2 549.1 71.4 549.4 71.5 549.9 71.6 550.1 71.7 550.6 71.9 550.9 72.0 551.4 72.1 551.6 72.2 552.1 72.4 552.5 72.5 552.9 72.5 553.4 72.7 553.6 72.7 554.1 72.9 554.5 73.0 554.9 73.1 555.4 73.2 555.6 73.3 556.1 73.5 556.4 73.6 556.6 73.7 557.1 74.0 557.4 74.1 557.6 74.3 558.0 74.5 558.3 74.7 558.6 74.9 558.9 75.1 559.1 75.3 559.4 75.5 559.7 75.7 560.0 76.0 560.3 76.2 560.6 76.4 560.9 76.6 561.1 76.8 561.4 77.0 561.8 77.2 562.1 77.4 562.4 77.6 562.7 77.7 563.1 78.0 563.4 78.1 563.6 78.2 564.1 78.4 564.4 78.5 564.8 78.7 565.1 78.8 565.5 79.0 565.9 79.1 566.3 79.2 566.6 79.3 567.1 79.4 567.4 79.5 567.9 79.6 568.2 79.7 568.6 79.8 569.1 80.0 569.4 80.0 569.9 80.2 570.1 80.3 570.6 80.5 570.9 80.6 571.2 80.7 571.6 81.0 571.9 81.1 572.1 81.2 572.5 81.5 572.8 81.7 573.1 81.9 573.4 82.1 573.6 82.3 573.9 82.5 574.2 82.7 574.5 83.0 574.8 83.2 575.1 83.4 575.4 83.6 575.6 83.8 575.9 84.0 576.3 84.2 576.6 84.4 576.9 84.5 577.2 84.7 577.6 84.9 577.9 85.1 578.2 85.2 578.6 85.4 578.9 85.5 579.4 85.7 579.6 85.8 580.1 86.0 580.4 86.1 580.9 86.2 581.1 86.3 581.6 86.4 581.9 86.5 582.4 86.6 582.7 86.7 583.1 86.8 583.6 86.9 583.9 87.0 584.4 87.2 584.6 87.3 585.1 87.5 585.4 87.6 585.7 87.7 586.1 88.0 586.4 88.1 586.6 88.3 586.9 88.5 587.3 88.7 587.6 88.9 587.9 89.1 588.1 89.3 588.4 89.5 588.7 89.7 589.0 90.0 589.3 90.2 589.6 90.4 589.9 90.6 590.1 90.8 590.4 91.0 590.8 91.2 591.1 91.4 591.4 91.5 591.7 91.7 592.1 91.9 592.4 92.1 592.7 92.2 593.1 92.4 593.4 92.5 593.9 92.7 594.1 92.8 594.6 93.0 594.9 93.1 595.4 93.2 595.6 93.3 596.1 93.4 596.4 93.5 596.9 93.6 597.2 93.7 597.6 93.8 598.1 94.0 598.4 94.0 598.9 94.2 599.1 94.3 599.6 94.5 599.9 94.6 600.1 94.7 600.6 95.0 600.9 95.1 601.1 95.3 601.4 95.5 601.8 95.7 602.1 96.0 602.4 96.2 602.6 96.4 602.9 96.5 603.1 96.7 603.4 97.0 603.8 97.2 604.1 97.5 604.4 97.6 604.6 97.8 604.9 98.0 605.3 98.2 605.6 98.4 605.9 98.6 606.2 98.7 606.6 99.0 606.9 99.1 607.2 99.2 607.6 99.4 607.9 99.5 608.3 99.7 608.6 99.8 609.0 100.0 609.4 100.1 609.8 100.2 610.1 100.3 610.6 100.4 610.9 100.5 611.4 100.6 611.6 100.7 612.1 100.8 612.5 101.0 612.9 101.1 613.3 101.2 613.6 101.3 613.9 101.5 614.4 101.7 614.6 101.8 615.0 102.0 615.4 102.2 615.6 102.4 615.9 102.5 616.2 102.7 616.5 103.0 616.8 103.2 617.1 103.4 617.4 103.6 617.6 103.8 617.9 104.0 618.2 104.2 618.5 104.5 618.9 104.7 619.1 104.9 619.4 105.1 619.6 105.2 620.0 105.5 620.4 105.7 620.6 105.9 620.9 106.0 621.1 106.2 621.5 106.5 621.9 106.7 622.1 106.9 622.4 107.0 622.6 107.2 622.9 107.5 623.2 107.7 623.4 108.0 623.6 108.2 623.9 108.6 624.0 109.0 624.1 109.3 624.2 109.7 624.3 110.2 624.2 110.7 624.2 111.2 624.1 111.5 624.0 112.0 623.9 112.2 623.7 112.7 623.6 113.0 623.4 113.5 623.3 113.7 623.1 114.1 623.0 114.5 622.9 114.7 622.7 115.2 622.6 115.5 622.4 115.8 622.2 116.2 622.1 116.5 621.9 117.0 621.8 117.2 621.6 117.5 621.5 118.0 621.3 118.2 621.1 118.6 621.0 119.0 620.9 119.2 620.7 119.7 620.6 120.0 620.4 120.3 620.2 120.7 620.1 121.0 619.9 121.4 619.7 121.7 619.6 122.0 619.4 122.4 619.2 122.7 619.1 123.0 618.9 123.4 618.8 123.7 618.6 124.0 618.4 124.5 618.3 124.7 618.1 125.0 618.0 125.5 617.9 125.7 617.6 126.2 617.5 126.5 617.4 126.7 617.2 127.2 617.1 127.5 616.9 127.8 616.7 128.2 616.6 128.4 616.4 128.9 616.3 129.2 616.1 129.4 615.9 129.9 615.8 130.2 615.6 130.5 615.4 130.9 615.3 131.2 615.1 131.5 614.9 131.9 614.8 132.2 614.6 132.6 614.5 132.9 614.4 133.2 614.1 133.7 614.0 133.9 613.9 134.2 613.7 134.7 613.6 134.9 613.4 135.4 613.2 135.7 613.1 135.9 612.9 136.4 612.8 136.7 612.6 137.0 612.4 137.4 612.3 137.7 612.1 138.1 612.0 138.4 611.8 138.7 611.6 139.1 611.5 139.4 611.4 139.7 611.1 140.1 611.0 140.4 610.9 140.7 610.7 141.2 610.5 141.4 610.4 141.7 610.2 142.2 610.1 142.4 609.9 142.9 609.7 143.2 609.6 143.4 609.4 143.9 609.3 144.2 609.1 144.5 609.0 144.9 608.8 145.2 608.6 145.6 608.5 145.9 608.4 146.2 608.1 146.7 608.0 146.9 607.9 147.2 607.7 147.7 607.5 147.9 607.4 148.2 607.2 148.7 607.1 148.9 606.9 149.3 606.7 149.7 606.6 149.9 606.4 150.4 606.3 150.7 606.1 150.9 605.9 151.4 605.8 151.7 605.6 152.1 605.5 152.4 605.4 152.7 605.1 153.2 605.0 153.4 604.9 153.7 604.7 154.2 604.6 154.4 604.4 154.8 604.2 155.2 604.1 155.4 603.9 155.8 603.7 156.2 603.6 156.4 603.4 156.8 603.2 157.2 603.1 157.4 602.9 157.9 602.8 158.2 602.6 158.4 602.4 158.9 602.3 159.2 602.1 159.6 602.0 159.9 601.9 160.2 601.6 160.7 601.5 160.9 601.4 161.2 601.2 161.7 601.1 161.9 600.9 162.3 600.7 162.7 600.6 162.9 600.4 163.4 600.2 163.7 600.1 163.9 599.9 164.4 599.8 164.7 599.6 164.9 599.4 165.4 599.3 165.7 599.1 166.0 598.9 166.4 598.8 166.7 598.6 167.1 598.5 167.4 598.4 167.7 598.1 168.2 598.0 168.4 597.9 168.7 597.7 169.2 597.6 169.4 597.4 169.9 597.2 170.2 597.1 170.4 596.9 170.9 596.8 171.2 596.6 171.5 596.4 171.9 596.3 172.2 596.1 172.5 595.9 172.9 595.8 173.2 595.6 173.5 595.4 173.9 595.3 174.2 595.1 174.6 595.0 174.9 594.8 175.2 594.6 175.6 594.5 175.9 594.4 176.2 594.1 176.7 594.0 176.9 593.9 177.2 593.6 177.6 593.5 177.9 593.3 178.2 593.1 178.5 592.9 178.9 592.7 179.2 592.5 179.4 592.2 179.7 592.0 179.9 591.7 180.2 591.4 180.4 591.1 180.6 590.9 180.7 590.4 180.9 589.9 180.9 589.6 181.0M583.6 172.7 583.1 172.8 582.6 172.9 582.1 172.9 581.6 172.9 581.1 172.8 580.9 172.7 580.4 172.5 580.1 172.4 579.9 172.2 579.4 171.9 579.1 171.8 578.9 171.6 578.6 171.4 578.3 171.2 577.9 170.9 577.6 170.8 577.4 170.6 577.0 170.4 576.6 170.3 576.4 170.2 575.9 170.0 575.6 169.9 575.2 169.7 574.9 169.6 574.5 169.4 574.1 169.3 573.7 169.2 573.4 169.1 573.0 168.9 572.6 168.8 572.1 168.7 571.9 168.6 571.4 168.5 571.0 168.4 570.6 168.4 570.1 168.3 569.6 168.3 569.1 168.2 568.9 168.2 568.4 168.1 567.9 168.1 567.4 168.0 567.1 167.9 566.6 167.8 566.3 167.7 565.9 167.6 565.6 167.4 565.1 167.2 564.9 167.1 564.6 166.9 564.3 166.7 563.9 166.5 563.6 166.3 563.4 166.1 563.1 165.9 562.8 165.7 562.4 165.5 562.1 165.3 561.9 165.2 561.5 164.9 561.1 164.7 560.9 164.6 560.6 164.4 560.1 164.2 559.9 164.1 559.5 163.9 559.1 163.8 558.8 163.7 558.4 163.5 558.1 163.4 557.6 163.3 557.4 163.2 556.9 163.0 556.6 162.9 556.1 162.8 555.6 162.7 555.4 162.7 554.9 162.6 554.4 162.5 554.1 162.4 553.6 162.4 553.1 162.3 552.8 162.2 552.4 162.1 551.9 162.0 551.6 161.9 551.1 161.7 550.9 161.6 550.5 161.4 550.1 161.3 549.9 161.1 549.6 160.9 549.2 160.7 548.9 160.5 548.6 160.3 548.4 160.2 548.1 159.9 547.7 159.7 547.4 159.5 547.1 159.3 546.9 159.2 546.5 158.9 546.1 158.8 545.9 158.6 545.6 158.4 545.1 158.2 544.9 158.1 544.5 157.9 544.1 157.8 543.9 157.7 543.4 157.5 543.1 157.4 542.6 157.2 542.4 157.1 541.9 157.0 541.6 156.9 541.1 156.8 540.8 156.7 540.4 156.6 539.9 156.5 539.6 156.4 539.1 156.3 538.6 156.2 538.4 156.2 537.9 156.1 537.5 155.9 537.1 155.9 536.7 155.7 536.4 155.6 536.0 155.4 535.6 155.3 535.4 155.1 535.0 154.9 534.6 154.7 534.4 154.6 534.1 154.4 533.8 154.2 533.5 153.9 533.1 153.7 532.9 153.6 532.6 153.4 532.3 153.2 531.9 152.9 531.6 152.8 531.4 152.6 531.1 152.4 530.6 152.2 530.4 152.1 530.1 151.9 529.6 151.7 529.4 151.6 529.0 151.4 528.6 151.3 528.3 151.2 527.9 151.0 527.6 150.9 527.1 150.8 526.8 150.7 526.4 150.6 525.9 150.4 525.6 150.4 525.1 150.3 524.8 150.2 524.4 150.1 523.9 150.0 523.6 149.9 523.1 149.8 522.7 149.7 522.4 149.6 521.9 149.4 521.6 149.3 521.3 149.2 520.9 149.0 520.6 148.9 520.3 148.7 519.9 148.5 519.6 148.3 519.4 148.1 519.1 147.9 518.8 147.7 518.4 147.5 518.1 147.3 517.9 147.1 517.6 146.9 517.3 146.7 516.9 146.4 516.6 146.3 516.4 146.1 516.1 145.9 515.7 145.7 515.4 145.5 515.1 145.4 514.9 145.2 514.5 144.9 514.2 144.7 513.9 144.5 513.6 144.3 513.4 144.1 513.1 143.8 512.9 143.5 512.7 143.2 512.6 142.9 512.4 142.4 512.4 142.2 512.3 141.7 512.3 141.2 512.4 140.8 512.5 140.4 512.6 139.9 512.7 139.7 512.9 139.2 513.0 138.9 513.1 138.4 513.3 138.2 513.4 137.9 513.6 137.4 513.7 137.2 513.9 136.7 514.0 136.4 514.1 136.2 514.4 135.7 514.5 135.4 514.6 135.1 514.8 134.7 514.9 134.4 515.1 134.0 515.3 133.7 515.4 133.4 515.6 132.9 515.7 132.7 515.9 132.4 516.1 131.9 516.2 131.7 516.4 131.3 516.6 130.9 516.7 130.7 516.9 130.3 517.1 129.9 517.2 129.7 517.4 129.2 517.5 128.9 517.7 128.7 517.9 128.2 518.0 128.0 518.1 127.6 518.4 127.2 518.5 127.0 518.6 126.6 518.8 126.2 518.9 126.0 519.1 125.5 519.3 125.2 519.4 125.0 519.6 124.5 519.8 124.2 519.9 123.9 520.1 123.5 520.2 123.2 520.4 122.9 520.6 122.5 520.7 122.2 520.9 121.8 521.1 121.5 521.2 121.2 521.4 120.8 521.6 120.5 521.7 120.2 521.9 119.7 522.0 119.5 522.1 119.2 522.4 118.7 522.5 118.5 522.6 118.1 522.8 117.7 523.0 117.5 523.1 117.0 523.3 116.7 523.4 116.5 523.6 116.0 523.8 115.7 523.9 115.4 524.1 115.0 524.3 114.7 524.4 114.4 524.6 114.0 524.7 113.7 524.9 113.3 525.1 113.0 525.2 112.7 525.4 112.3 525.6 112.0 525.7 111.7 525.9 111.2 526.0 111.0 526.1 110.7 526.4 110.2 526.5 110.0 526.6 109.6 526.8 109.2 527.0 109.0 527.1 108.6 527.3 108.2 527.4 108.0 527.6 107.5 527.8 107.2 527.9 107.0 528.1 106.5 528.3 106.2 528.4 105.9 528.6 105.5 528.7 105.2 528.9 104.9 529.1 104.5 529.2 104.2 529.4 103.8 529.6 103.5 529.7 103.2 529.9 102.8 530.0 102.5 530.2 102.2 530.4 101.7 530.5 101.5 530.6 101.2 530.9 100.7 531.0 100.5 531.1 100.1 531.3 99.7 531.5 99.5 531.6 99.0 531.8 98.7 531.9 98.5 532.1 98.0 532.3 97.7 532.4 97.5 532.6 97.0 532.8 96.7 532.9 96.4 533.1 96.0 533.2 95.7 533.4 95.4 533.6 95.0 533.7 94.7 533.9 94.3 534.1 94.0 534.2 93.7 534.4 93.2 534.5 93.0 534.6 92.7 534.9 92.2 535.0 92.0 535.1 91.6 535.4 91.2 535.5 91.0 535.6 90.6 535.8 90.2 535.9 90.0 536.1 89.5 536.3 89.2 536.4 89.0 536.6 88.5 536.8 88.2 536.9 87.9 537.1 87.5 537.3 87.2 537.4 86.9 537.6 86.5 537.7 86.2 537.9 85.8 538.1 85.5 538.2 85.2 538.4 84.8 538.5 84.5 538.7 84.2 538.9 83.7 539.0 83.5 539.1 83.2 539.4 82.7 539.5 82.5 539.6 82.1 539.8 81.7 540.0 81.5 540.1 81.1 540.3 80.7 540.4 80.5 540.6 80.0 540.8 79.7 540.9 79.5 541.1 79.0 541.3 78.7 541.4 78.5 541.6 78.0 541.8 77.7 541.9 77.5 542.1 77.1 542.4 76.7 542.5 76.5 542.7 76.2 542.9 75.8 543.1 75.5 543.4 75.2 543.6 75.0 543.8 74.7 544.1 74.5 544.4 74.3 544.6 74.1 545.1 74.0 545.4 73.9 545.9 73.8 546.4 73.8 546.9 73.9 547.2 74.0 547.6 74.1 548.1 74.2 548.4 74.3 548.9 74.4 549.1 74.5 549.6 74.7 549.9 74.8 550.4 74.9 550.6 75.0 551.1 75.1 551.4 75.2 551.9 75.4 552.2 75.5 552.6 75.6 553.1 75.7 553.4 75.8 553.9 75.9 554.1 76.0 554.6 76.2 554.9 76.3 555.2 76.5 555.6 76.7 555.9 76.8 556.1 77.0 556.5 77.2 556.8 77.5 557.1 77.7 557.4 77.9 557.6 78.1 557.9 78.2 558.2 78.5 558.5 78.7 558.8 79.0 559.1 79.2 559.4 79.4 559.6 79.6 559.9 79.7 560.2 80.0 560.6 80.2 560.9 80.4 561.1 80.5 561.5 80.7 561.9 80.9 562.1 81.1 562.4 81.2 562.9 81.4 563.1 81.5 563.5 81.7 563.9 81.9 564.1 82.0 564.6 82.2 564.9 82.2 565.4 82.4 565.6 82.5 566.1 82.6 566.4 82.7 566.9 82.9 567.2 83.0 567.6 83.1 568.0 83.2 568.4 83.3 568.7 83.5 569.1 83.6 569.4 83.8 569.8 84.0 570.1 84.2 570.4 84.3 570.6 84.5 571.0 84.7 571.3 85.0 571.6 85.2 571.9 85.4 572.1 85.6 572.4 85.8 572.6 86.0 572.9 86.2 573.2 86.5 573.5 86.7 573.9 87.0 574.1 87.2 574.4 87.3 574.6 87.5 575.0 87.7 575.4 88.0 575.6 88.1 575.9 88.3 576.3 88.5 576.6 88.7 576.9 88.8 577.2 89.0 577.6 89.1 577.9 89.3 578.4 89.5 578.6 89.6 579.0 89.7 579.4 89.8 579.7 90.0 580.1 90.1 580.5 90.2 580.9 90.3 581.4 90.4 581.6 90.5 582.1 90.7 582.4 90.8 582.9 90.9 583.1 91.0 583.5 91.2 583.9 91.4 584.1 91.6 584.4 91.7 584.8 92.0 585.1 92.2 585.4 92.4 585.6 92.6 585.9 92.9 586.1 93.1 586.4 93.3 586.6 93.5 586.9 93.8 587.1 94.0 587.4 94.2 587.7 94.5 588.0 94.7 588.4 95.0 588.6 95.1 588.9 95.3 589.1 95.5 589.5 95.7 589.9 95.9 590.1 96.1 590.4 96.2 590.8 96.5 591.1 96.7 591.4 96.8 591.7 97.0 592.1 97.2 592.4 97.3 592.7 97.5 593.1 97.6 593.4 97.7 593.9 97.9 594.1 98.0 594.6 98.2 594.9 98.2 595.4 98.4 595.7 98.5 596.1 98.6 596.5 98.7 596.9 98.9 597.1 99.0 597.6 99.2 597.9 99.4 598.1 99.5 598.4 99.7 598.7 100.0 599.0 100.2 599.2 100.5 599.5 100.7 599.7 101.0 599.9 101.2 600.1 101.5 600.4 101.8 600.6 102.1 600.9 102.4 601.1 102.6 601.4 102.9 601.6 103.1 601.9 103.3 602.1 103.5 602.5 103.7 602.9 104.0 603.1 104.1 603.4 104.3 603.6 104.5 604.0 104.7 604.3 105.0 604.6 105.2 604.9 105.4 605.1 105.6 605.4 105.9 605.6 106.1 605.9 106.4 606.1 106.7 606.3 107.0 606.5 107.2 606.7 107.5 606.9 108.0 607.0 108.2 607.1 108.7 607.2 109.0 607.3 109.5 607.4 110.0 607.5 110.2 607.6 110.6 607.9 111.0 608.1 111.2 608.3 111.5 608.5 111.7 608.7 112.0 608.9 112.2 609.1 112.6 609.3 113.0 609.4 113.2 609.6 113.7 609.6 114.2 609.6 114.7 609.4 115.2 609.3 115.5 609.1 115.7 608.9 116.0 608.6 116.2 608.4 116.5 608.0 116.7 607.6 116.9 607.4 117.0 607.0 117.2 606.6 117.4 606.4 117.5 606.1 117.7 605.9 118.0 605.6 118.4 605.6 118.7 605.6 119.1 605.7 119.5 605.9 120.0 606.0 120.2 606.1 120.7 606.2 121.0 606.3 121.5 606.4 121.9 606.4 122.2 606.4 122.7 606.4 123.0 606.3 123.5 606.1 123.8 606.0 124.2 605.8 124.5 605.6 124.7 605.4 125.0 605.1 125.3 604.9 125.5 604.6 125.7 604.4 126.0 604.0 126.2 603.7 126.5 603.4 126.7 603.2 127.0 603.1 127.2 603.0 127.7 602.9 128.2 603.0 128.7 603.1 129.2 603.1 129.7 603.2 129.9 603.2 130.4 603.2 130.9 603.1 131.2 603.0 131.7 602.9 132.2 602.8 132.4 602.6 132.8 602.5 133.2 602.3 133.4 602.1 133.7 601.9 134.0 601.6 134.3 601.4 134.6 601.1 134.8 600.9 135.1 600.6 135.4 600.4 135.7 600.2 135.9 600.1 136.2 600.0 136.7 600.0 137.2 600.0 137.7 600.0 138.2 600.0 138.7 599.9 139.2 599.9 139.4 599.8 139.9 599.7 140.4 599.6 140.7 599.4 141.2 599.3 141.4 599.1 141.8 598.9 142.2 598.8 142.4 598.6 142.7 598.4 143.1 598.1 143.4 598.0 143.7 597.8 143.9 597.6 144.2 597.4 144.6 597.2 144.9 597.1 145.2 597.0 145.7 597.0 146.2 596.9 146.7 596.9 146.9 596.8 147.4 596.7 147.9 596.6 148.2 596.5 148.7 596.4 148.9 596.2 149.4 596.1 149.7 595.9 150.2 595.8 150.4 595.6 150.9 595.5 151.2 595.4 151.5 595.2 151.9 595.1 152.2 594.9 152.7 594.8 152.9 594.7 153.4 594.6 153.7 594.5 154.2 594.4 154.4 594.2 154.9 594.1 155.2 593.9 155.7 593.8 155.9 593.6 156.3 593.5 156.7 593.4 156.9 593.2 157.4 593.1 157.7 592.9 158.1 592.8 158.4 592.6 158.8 592.5 159.2 592.4 159.6 592.3 159.9 592.2 160.4 592.1 160.9 592.1 161.2 592.1 161.7 592.1 162.2 592.0 162.7 591.9 163.0 591.7 163.4 591.6 163.7 591.4 164.0 591.1 164.3 590.9 164.6 590.7 164.9 590.5 165.2 590.3 165.4 590.1 165.7 589.9 166.1 589.7 166.4 589.6 166.7 589.4 167.2 589.3 167.4 589.2 167.9 589.1 168.2 589.0 168.7 588.9 169.2 588.9 169.4 588.8 169.9 588.7 170.4 588.6 170.7 588.4 171.0 588.1 171.3 587.9 171.5 587.5 171.7 587.1 171.8 586.6 171.9 586.4 172.0 585.9 172.1 585.5 172.2 585.1 172.3 584.7 172.4 584.4 172.5 583.9 172.7 583.6 172.7" stroke="#000" stroke-opacity="0.72" stroke-width="1.1" fill="none" stroke-linejoin="round"/>
<g fill="#fff" stroke="#000" stroke-width="0.85"><circle cx="543.50" cy="64.00" r="2.0"/><circle cx="539.58" cy="72.39" r="2.0"/><circle cx="535.66" cy="80.78" r="2.0"/><circle cx="531.74" cy="89.17" r="2.0"/><circle cx="527.82" cy="97.56" r="2.0"/><circle cx="519.98" cy="114.34" r="2.0"/><circle cx="516.06" cy="122.73" r="2.0"/><circle cx="512.14" cy="131.12" r="2.0"/><circle cx="508.22" cy="139.51" r="2.0"/><circle cx="504.30" cy="147.90" r="2.0"/><circle cx="548.81" cy="71.57" r="2.0"/><circle cx="544.89" cy="79.97" r="2.0"/><circle cx="540.98" cy="88.35" r="2.0"/><circle cx="537.05" cy="96.75" r="2.0"/><circle cx="533.13" cy="105.13" r="2.0"/><circle cx="529.22" cy="113.53" r="2.0"/><circle cx="525.29" cy="121.91" r="2.0"/><circle cx="521.38" cy="130.31" r="2.0"/><circle cx="517.45" cy="138.69" r="2.0"/><circle cx="513.53" cy="147.09" r="2.0"/><circle cx="558.05" cy="70.76" r="2.0"/><circle cx="554.13" cy="79.15" r="2.0"/><circle cx="550.21" cy="87.54" r="2.0"/><circle cx="546.29" cy="95.93" r="2.0"/><circle cx="542.37" cy="104.32" r="2.0"/><circle cx="538.45" cy="112.71" r="2.0"/><circle cx="534.53" cy="121.10" r="2.0"/><circle cx="530.61" cy="129.49" r="2.0"/><circle cx="526.69" cy="137.88" r="2.0"/><circle cx="522.77" cy="146.27" r="2.0"/><circle cx="518.85" cy="154.66" r="2.0"/><circle cx="563.37" cy="78.34" r="2.0"/><circle cx="559.45" cy="86.72" r="2.0"/><circle cx="555.53" cy="95.12" r="2.0"/><circle cx="551.61" cy="103.50" r="2.0"/><circle cx="547.69" cy="111.90" r="2.0"/><circle cx="543.77" cy="120.28" r="2.0"/><circle cx="539.85" cy="128.68" r="2.0"/><circle cx="535.93" cy="137.06" r="2.0"/><circle cx="532.00" cy="145.45" r="2.0"/><circle cx="528.09" cy="153.85" r="2.0"/><circle cx="572.60" cy="77.52" r="2.0"/><circle cx="568.68" cy="85.91" r="2.0"/><circle cx="564.76" cy="94.30" r="2.0"/><circle cx="560.84" cy="102.69" r="2.0"/><circle cx="556.92" cy="111.08" r="2.0"/><circle cx="553.00" cy="119.47" r="2.0"/><circle cx="549.08" cy="127.86" r="2.0"/><circle cx="545.16" cy="136.25" r="2.0"/><circle cx="541.24" cy="144.64" r="2.0"/><circle cx="537.32" cy="153.03" r="2.0"/><circle cx="533.40" cy="161.42" r="2.0"/><circle cx="577.91" cy="85.09" r="2.0"/><circle cx="574.00" cy="93.49" r="2.0"/><circle cx="570.08" cy="101.88" r="2.0"/><circle cx="566.15" cy="110.27" r="2.0"/><circle cx="562.24" cy="118.66" r="2.0"/><circle cx="558.32" cy="127.05" r="2.0"/><circle cx="554.39" cy="135.44" r="2.0"/><circle cx="550.48" cy="143.83" r="2.0"/><circle cx="546.55" cy="152.22" r="2.0"/><circle cx="542.63" cy="160.61" r="2.0"/><circle cx="587.15" cy="84.28" r="2.0"/><circle cx="583.23" cy="92.67" r="2.0"/><circle cx="579.31" cy="101.06" r="2.0"/><circle cx="575.39" cy="109.45" r="2.0"/><circle cx="571.47" cy="117.84" r="2.0"/><circle cx="567.55" cy="126.23" r="2.0"/><circle cx="563.63" cy="134.62" r="2.0"/><circle cx="559.71" cy="143.01" r="2.0"/><circle cx="555.79" cy="151.40" r="2.0"/><circle cx="551.87" cy="159.79" r="2.0"/><circle cx="547.95" cy="168.18" r="2.0"/><circle cx="592.46" cy="91.85" r="2.0"/><circle cx="588.54" cy="100.25" r="2.0"/><circle cx="584.62" cy="108.63" r="2.0"/><circle cx="580.70" cy="117.03" r="2.0"/><circle cx="576.78" cy="125.41" r="2.0"/><circle cx="572.87" cy="133.81" r="2.0"/><circle cx="568.94" cy="142.19" r="2.0"/><circle cx="565.02" cy="150.59" r="2.0"/><circle cx="561.10" cy="158.97" r="2.0"/><circle cx="557.18" cy="167.37" r="2.0"/><circle cx="601.70" cy="91.04" r="2.0"/><circle cx="597.78" cy="99.43" r="2.0"/><circle cx="593.86" cy="107.82" r="2.0"/><circle cx="589.94" cy="116.21" r="2.0"/><circle cx="586.02" cy="124.60" r="2.0"/><circle cx="582.10" cy="132.99" r="2.0"/><circle cx="578.18" cy="141.38" r="2.0"/><circle cx="574.26" cy="149.77" r="2.0"/><circle cx="570.34" cy="158.16" r="2.0"/><circle cx="566.42" cy="166.55" r="2.0"/><circle cx="562.50" cy="174.94" r="2.0"/><circle cx="607.01" cy="98.62" r="2.0"/><circle cx="603.10" cy="107.00" r="2.0"/><circle cx="599.18" cy="115.40" r="2.0"/><circle cx="595.25" cy="123.78" r="2.0"/><circle cx="591.34" cy="132.18" r="2.0"/><circle cx="587.42" cy="140.56" r="2.0"/><circle cx="583.50" cy="148.96" r="2.0"/><circle cx="579.58" cy="157.34" r="2.0"/><circle cx="575.65" cy="165.74" r="2.0"/><circle cx="571.74" cy="174.12" r="2.0"/><circle cx="616.25" cy="97.80" r="2.0"/><circle cx="612.33" cy="106.19" r="2.0"/><circle cx="608.41" cy="114.58" r="2.0"/><circle cx="604.49" cy="122.97" r="2.0"/><circle cx="600.57" cy="131.36" r="2.0"/><circle cx="596.65" cy="139.75" r="2.0"/><circle cx="592.73" cy="148.14" r="2.0"/><circle cx="588.81" cy="156.53" r="2.0"/><circle cx="584.89" cy="164.92" r="2.0"/><circle cx="580.97" cy="173.31" r="2.0"/><circle cx="577.05" cy="181.70" r="2.0"/><circle cx="621.56" cy="105.38" r="2.0"/><circle cx="617.64" cy="113.77" r="2.0"/><circle cx="613.73" cy="122.16" r="2.0"/><circle cx="609.80" cy="130.55" r="2.0"/><circle cx="605.88" cy="138.94" r="2.0"/><circle cx="601.97" cy="147.33" r="2.0"/><circle cx="598.04" cy="155.72" r="2.0"/><circle cx="594.12" cy="164.11" r="2.0"/><circle cx="590.20" cy="172.50" r="2.0"/><circle cx="586.28" cy="180.89" r="2.0"/><circle cx="630.80" cy="104.56" r="2.0"/><circle cx="626.88" cy="112.95" r="2.0"/><circle cx="622.96" cy="121.34" r="2.0"/><circle cx="619.04" cy="129.73" r="2.0"/><circle cx="615.12" cy="138.12" r="2.0"/><circle cx="611.20" cy="146.51" r="2.0"/><circle cx="607.28" cy="154.90" r="2.0"/><circle cx="603.36" cy="163.29" r="2.0"/><circle cx="599.44" cy="171.68" r="2.0"/><circle cx="595.52" cy="180.07" r="2.0"/><circle cx="591.60" cy="188.46" r="2.0"/></g>
<rect x="444.4" y="2.45" width="246.20000000000005" height="247.8" fill="none" stroke="#333" stroke-width="1.3"/>
<rect x="619.7" y="7.0" width="66.79999999999995" height="31.0" rx="1.5" fill="#fff" stroke="#444" stroke-width="0.9"/>
<text x="653.6" y="18.8" font-size="9.4" text-anchor="middle" class="s">12M</text>
<circle cx="628.3" cy="30.1" r="2.0" fill="#fff" stroke="#000" stroke-width="1.0"/>
<text x="638.0" y="32.8" font-size="9.4" class="s">Field center</text>
<text x="455.8" y="240.3" font-size="9.4" class="s">Contours show 50%, 90%, 95%, 99%</text>
<text x="442.5" y="31.7" font-size="14.5" letter-spacing="0.25" text-anchor="end" class="b">−73°53′</text>
<text x="442.5" y="73.3" font-size="14.5" letter-spacing="0.25" text-anchor="end" class="b">54′</text>
<text x="442.5" y="116.2" font-size="14.5" letter-spacing="0.25" text-anchor="end" class="b">55′</text>
<text x="442.5" y="159.2" font-size="14.5" letter-spacing="0.25" text-anchor="end" class="b">56′</text>
<text x="442.5" y="202.1" font-size="14.5" letter-spacing="0.25" text-anchor="end" class="b">57′</text>
<text x="442.5" y="245.0" font-size="14.5" letter-spacing="0.25" text-anchor="end" class="b">58′</text>
<text x="472.6" y="264.1" font-size="14.3" text-anchor="middle" class="b">9<tspan font-size="9.4" dy="-5.0" stroke-width="0.05">h</tspan><tspan dy="5.0">50</tspan><tspan font-size="9.4" dy="-5.0" stroke-width="0.05">m</tspan><tspan dy="5.0">40</tspan><tspan font-size="9.4" dy="-5.0" stroke-width="0.05">s</tspan></text>
<text x="532.3" y="264.1" font-size="14.3" text-anchor="middle" class="b">20<tspan font-size="9.4" dy="-5.0" stroke-width="0.05">s</tspan></text>
<text x="591.6" y="264.1" font-size="14.3" text-anchor="middle" class="b">00<tspan font-size="9.4" dy="-5.0" stroke-width="0.05">s</tspan></text>
<text x="650.9" y="264.1" font-size="14.3" text-anchor="middle" class="b">49<tspan font-size="9.4" dy="-5.0" stroke-width="0.05">m</tspan><tspan dy="5.0">40</tspan><tspan font-size="9.4" dy="-5.0" stroke-width="0.05">s</tspan></text>
<text x="567.5" y="283.5" font-size="13.7" text-anchor="middle" class="b">Right Ascension [J2000]</text>
<text transform="translate(386.1,126.3) rotate(-90)" font-size="13.7" text-anchor="middle" class="b">Declination [J2000]</text>
<rect x="693.6" y="2.45" width="12.7" height="247.8" fill="url(#cg1)" stroke="#111" stroke-width="0.9"/>
<text x="707.4" y="238.0" font-size="9.4">0.3</text>
<text x="707.4" y="208.0" font-size="9.4">0.4</text>
<text x="707.4" y="178.0" font-size="9.4">0.5</text>
<text x="707.4" y="148.0" font-size="9.4">0.6</text>
<text x="707.4" y="118.1" font-size="9.4">0.7</text>
<text x="707.4" y="88.1" font-size="9.4">0.8</text>
<text x="707.4" y="58.1" font-size="9.4">0.9</text>
<text x="707.4" y="28.1" font-size="9.4">1.0</text>
<path d="M693.6 234.70h3.4M706.3 234.70h-3.4M693.6 204.71h3.4M706.3 204.71h-3.4M693.6 174.73h3.4M706.3 174.73h-3.4M693.6 144.74h3.4M706.3 144.74h-3.4M693.6 114.76h3.4M706.3 114.76h-3.4M693.6 84.77h3.4M706.3 84.77h-3.4M693.6 54.79h3.4M706.3 54.79h-3.4M693.6 24.80h3.4M706.3 24.80h-3.4" stroke="#111" stroke-width="1.1"/>
<text transform="translate(731.7,126.3) rotate(-90)" font-size="9.4" text-anchor="middle">Mosaic sensitivity</text>
</svg></body></html>
